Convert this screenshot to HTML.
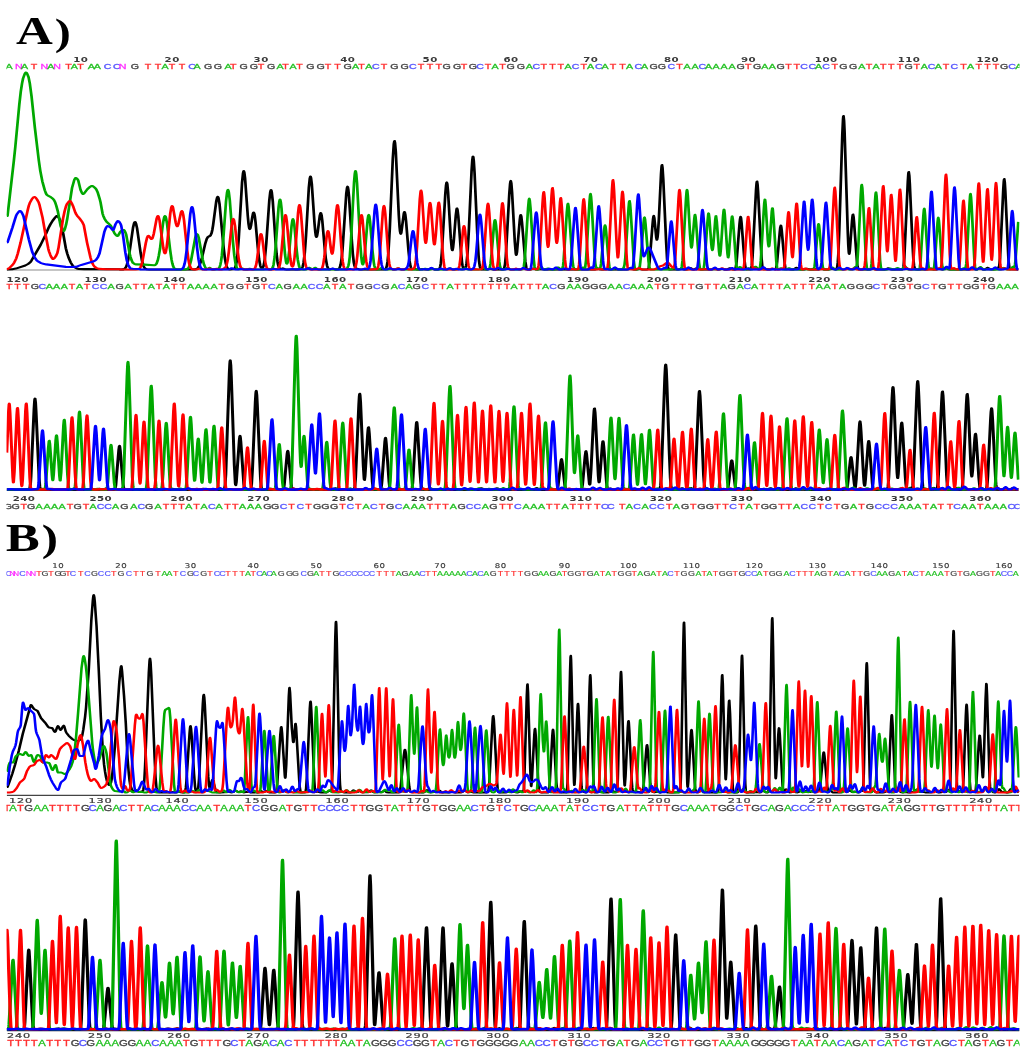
<!DOCTYPE html><html><head><meta charset="utf-8"><title>Chromatograms</title><style>html,body{margin:0;padding:0;background:#fff}svg{display:block}</style></head><body><svg width="1024" height="1049" viewBox="0 0 1024 1049">
<defs><clipPath id="cp"><rect x="6.5" y="0" width="1013" height="1049"/></clipPath></defs>
<style>.sq{font:7.1px "Liberation Sans",sans-serif;text-anchor:middle}.nm{font:bold 6.6px "DejaVu Sans",sans-serif;text-anchor:middle;fill:#3a3a3a;letter-spacing:0.3px}.a{fill:#1fc01f;stroke:#1fc01f}.t{fill:#ff3030;stroke:#ff3030}.c{fill:#5050ff;stroke:#5050ff}.g{fill:#404040;stroke:#404040}.n{fill:#ff30ff;stroke:#ff30ff}.sq{stroke-width:0.28px}.s1{font-size:7px;stroke-width:0.15px}.n1{font-size:6.6px;font-weight:normal;stroke:#3a3a3a;stroke-width:0.15px}.tr{fill:none;stroke-linejoin:round;stroke-linecap:butt}.sb{font-size:8.7px;stroke-width:0.32px}.nb{font-size:7.3px;letter-spacing:0.5px;font-weight:normal;stroke:#3a3a3a;stroke-width:0.2px}.lb{font:bold 39.5px "Liberation Serif",serif;fill:#000}</style>
<g clip-path="url(#cp)">
<text class="lb" transform="translate(16 44.4) scale(1.29 1)">A<tspan dx="1.6" dy="0.6" font-size="37.5">)</tspan></text>
<text class="lb" transform="translate(5.5 550.6) scale(1.3 1)">B<tspan dx="1.6" dy="0.6" font-size="37.5">)</tspan></text>
<path d="M6.8 270 H1018.5" stroke="#8c8c8c" stroke-width="1.2" fill="none"/>
<g transform="scale(1.3 1)" stroke-width="2.1">
<path class="tr" stroke="#000000" d="M5.23 269.4L9.46 269.2L12.15 268.6L19.46 265.5L21.58 264L23.31 262.2L24.27 260.4L31.19 245L34.65 235.9L37.35 227.9L38.69 224.5L40.42 220.9L42.54 217.3L43.31 216.3L43.88 216L44.46 216.4L45.23 217.7L46.19 220.1L46.77 222.3L48.69 234L50.62 248.2L51.77 253.7L52.92 258.2L54.46 262.6L56 265.8L56.96 267L59.08 268.5L60.62 269L64.65 269.1L92.15 269.3L92.35 269.5L94.65 269.4L95.42 269.1L96 268.6L96.77 267.4L97.35 265.9L98.5 260.5L99.65 251.8L102.35 227.5L103.12 223.4L103.5 222.3L103.88 222L104.27 222.5L104.65 223.7L105.42 228.1L108.12 252.5L109.27 261L110.42 266.1L111 267.6L111.77 268.7L112.92 269.3L114.85 269.5L148.12 269.5L149.85 269.4L151 269.1L151.77 268.5L152.54 267.4L153.31 265.6L154.27 262.5L155.42 257.4L157.92 243.4L159.08 238.8L160.04 236.8L161.38 236L161.96 235.4L162.73 233.2L163.31 230L163.88 225.6L166.38 201.2L166.96 197.9L167.35 196.9L167.54 196.8L167.92 197.5L168.12 198.3L168.88 204.2L171.96 247.2L172.92 257.5L173.69 263.3L174.65 267.4L175.04 268.2L175.62 268.9L176.19 269.2L176.96 269.4L179.85 269L180.42 268.5L180.81 267.7L181.58 264.7L182.15 260.5L182.73 254L183.69 237.6L186.19 182.7L186.96 173.1L187.35 171.2L187.54 171L187.92 172.3L188.5 178L190.62 216.2L191.19 223.9L191.58 227.2L191.96 228.9L192.15 229.1L192.54 228.4L193.12 225.2L194.08 217.1L194.65 213.5L195.04 212.5L195.23 212.5L195.62 213.7L196 216.2L196.58 222.3L198.31 247.5L199.27 259L200.23 265.7L200.62 267.1L201.19 268.2L201.58 268.4L201.96 268.1L202.54 266.7L203.12 263.8L203.69 259L204.85 243.1L207.15 200.7L207.92 191.9L208.31 190.2L208.5 190L208.69 190.3L209.08 192.5L209.85 201.7L211.96 241.6L212.73 253.7L213.5 261.9L213.88 264.6L214.46 267.1L215.04 268.4L215.62 268.9L216.19 268.9L217.54 268.4L219.27 269.3L220.42 269.5L230.81 269.4L231.77 268.9L232.35 268.1L232.92 266.2L233.5 262.9L234.46 252.4L235.42 235.1L237.54 188.2L238.31 178.4L238.69 176.6L238.88 176.5L239.27 178L239.85 184.1L241.96 223.8L242.54 232L242.92 235.4L243.31 237L243.5 237L243.88 235.9L244.46 231.5L246 215.7L246.58 213.1L246.77 213L246.96 213.4L247.35 215.2L247.92 220.8L249.85 249.2L250.62 258.6L251.58 265.7L251.96 267.3L252.54 268.6L253.12 269.2L253.69 269.3L255.81 268.8L258.12 269.4L260.04 269.3L260.62 269L261.19 268L261.96 265.1L262.73 259.1L263.5 249.1L266.38 193.5L266.96 187.8L267.35 186.7L267.54 187L267.92 189.3L268.5 196.9L270.62 240.6L271.38 253.6L272.15 262.3L272.54 264.9L273.12 267.3L273.5 268L273.88 268.4L276 269.3L276.96 269.5L294.46 269.5L296 269.3L296.58 268.9L296.96 268.2L297.54 266.1L298.12 261.7L298.69 254.2L299.85 228.4L302.15 158.7L302.92 144.2L303.31 141.3L303.5 141L303.88 143L304.46 151.7L306.77 215.3L307.35 226.7L307.73 231.4L308.12 233.6L308.31 233.8L308.69 232.7L310.62 213.8L311 212.1L311.19 212L311.38 212.4L311.77 214.7L312.35 221.1L314.27 251.1L315.04 260.7L315.42 264L316 267.3L316.58 268.7L317.15 269.2L319.08 269L320.81 269.4L322.35 269.5L325.23 269L327.15 269.4L329.08 269.5L330.04 269.3L331.38 268.6L331.96 268.5L334.08 269.4L336.58 269.5L337.35 269.3L337.73 269.1L338.31 267.9L338.69 266.2L339.08 263.4L339.85 253.4L342.54 194L343.12 185.3L343.5 182.6L343.69 182.4L344.08 184.1L344.65 191.8L346.77 238.4L347.54 248.8L347.92 250.3L348.12 250L348.5 247.6L349.08 240.4L350.62 215.3L351.19 209.5L351.38 208.6L351.58 208.4L351.96 210L352.54 216.3L354.46 249.7L355.42 262.6L355.81 265.7L356.38 268.2L356.77 268.9L357.15 269.1L357.54 268.9L357.92 268.2L358.5 266L358.88 263.2L359.65 253.1L360.62 231.3L362.73 171.4L363.31 160.4L363.69 156.9L363.88 156.6L364.08 157.2L364.46 161.2L365.04 172.8L367.15 233.8L368.12 255.6L368.5 261.2L369.08 266.4L369.65 268.6L370.04 269.2L370.42 269.4L374.46 269.4L376.96 268.5L378.69 269.3L379.46 269.5L384.08 269.3L386.58 269.5L387.35 269.2L387.92 267.9L388.5 264.1L389.08 256.3L391.77 193.9L392.35 184.2L392.73 181.1L392.92 180.9L393.31 183.1L393.88 192.1L396 241.7L396.77 253.4L396.96 254.6L397.15 254.9L397.35 254.4L397.73 251.5L399.85 219.8L400.23 216.1L400.42 215.2L400.62 215L401 216.6L401.58 223.2L404.08 261.4L404.85 267.5L405.23 268.7L405.62 269.3L406.38 269.5L407.92 269.5L410.42 268.6L412.15 269.3L413.31 269.5L416.19 268.9L419.08 269.5L450.81 269.5L453.5 269.3L456.58 269.5L457.92 269.4L459.85 268.6L461.58 269.3L462.54 269.5L463.88 269.4L465.81 268.9L468.69 269.5L481.96 269.5L483.31 269.2L484.65 268.2L485.23 268.1L486.96 269.2L487.92 269.5L489.65 269.4L491.58 268.8L494.27 269.5L496.96 269.5L498.31 269.2L498.69 268.7L499.08 267.2L499.65 261.9L501.96 224.5L502.35 219.2L502.73 216.2L502.92 215.9L503.31 217.9L504.85 237.9L505.23 239.7L505.42 239.5L505.81 237.1L506.19 232.2L506.77 220.4L508.5 173.7L508.88 167.1L509.08 165.4L509.27 165L509.65 168L510.23 179.8L512.35 240.1L513.12 258.6L513.69 266.2L514.08 268.4L514.27 268.9L514.65 269.4L521.77 269.5L524.46 268.8L526.38 269.4L528.12 269.5L529.08 269.3L530.42 268.2L531 268L531.58 268.2L532.73 269.2L533.5 269.4L534.27 269.2L536 268.2L537.92 269.3L539.08 269.5L543.12 269.3L547.54 269.5L550.23 268.9L551.96 269.4L553.31 269.5L555.81 268.7L557.73 269.4L558.69 269.5L559.65 269.2L561.38 268.3L563.69 269.4L564.85 269.5L565.42 269.2L566 267.4L566.58 262.1L568.88 223.9L569.27 219.1L569.65 216.9L569.85 217.2L570.04 218.4L570.42 222.9L572.54 258.3L573.31 267L573.69 268.7L574.27 269.4L576.96 269.5L577.54 269.1L577.92 268.1L578.31 265.4L578.88 256.9L581.58 189.8L581.96 183.5L582.15 181.9L582.35 181.5L582.73 184.5L583.12 191.4L585.81 258.3L586.38 266.1L586.96 268.9L587.35 269.2L589.08 268.9L590.81 269.4L591.96 269.5L592.92 269.3L594.46 268.7L596.38 269.2L596.77 268.9L596.96 268.4L597.35 266.3L597.73 262.5L599.85 231.7L600.23 227.4L600.62 225.6L600.81 225.9L601 227.1L601.38 231.2L603.69 264.5L604.08 267.5L604.27 268.4L604.65 269.2L605.04 269.3L606.38 269.2L608.5 269.5L610.23 269.4L611 269.1L612.15 268L612.73 267.8L613.12 267.9L614.65 269.2L615.81 269.5L618.5 269.4L620.62 268.7L623.31 269.5L626 269.1L628.12 269.4L629.46 269.5L631.96 268.8L634.08 269.4L637.15 269.5L638.31 269.3L640.04 268.4L641.96 269.3L642.92 269.4L643.31 269.2L643.69 268.5L644.08 266.6L644.46 262.4L644.85 254.8L645.62 229.8L647.92 135.1L648.5 119L648.69 116.6L648.88 116L649.27 120.5L649.65 131.1L652.15 232.8L652.54 244.9L652.92 252.2L653.12 253.7L653.31 253.8L653.69 250.8L655.42 221L655.81 216.1L656 214.8L656.19 214.5L656.58 216.9L656.96 222.3L659.27 263L659.65 266.8L660.23 269.1L660.62 269.4L661 269.5L663.31 269.5L665.42 269.1L668.5 269.5L669.46 269.3L670.81 268.7L671.38 268.6L673.12 269.3L673.88 269.5L677.92 269.3L680.42 269.5L681.58 269.3L682.92 268.4L683.5 268.3L685.23 269.3L686.19 269.5L693.69 269.5L694.08 269.4L694.46 269L694.85 267.7L695.04 266.4L695.62 258.1L698.31 181.7L698.69 174.3L698.88 172.4L699.08 172L699.46 175.5L699.85 183.7L701.77 239.8L702.54 258.3L703.12 265.7L703.5 267.8L704.08 268.9L704.65 269.3L705.62 269.5L710.42 269.3L713.12 269.5L714.27 269.3L715.62 268.6L716.19 268.5L718.5 269.4L720.23 269.4L722.35 268.8L724.85 269.4L725.81 269.1L726.96 268.1L727.54 267.8L728.12 268L729.46 269.2L730.62 269.5L733.69 269.5L735.81 269.2L738.5 269.5L745.04 269.5L746 269.3L747.73 268.3L748.31 268.4L749.65 269.3L751 269.5L751.96 269.2L753.69 268.2L754.27 268.3L755.62 269.2L756.77 269.5L757.92 269.2L759.27 268L759.85 267.8L761.96 269.3L764.27 269.5L765.81 269.2L767.35 267.8L768.12 267.5L768.5 266.7L768.69 265.6L769.27 258.1L771.77 189L772.15 181.5L772.35 179.5L772.54 179L772.92 182.7L773.31 190.9L775.62 256.2L776 263.2L776.38 267.2L776.77 268.9L777.15 269.3L783.31 269.5"/>
<path class="tr" stroke="#00a800" d="M5.23 216L5.62 216L5.81 215.6L10.62 161.1L11.77 147L14.85 104.7L16 91.4L16.96 83.4L17.73 78.5L19.08 73.8L19.65 72.7L20.04 72.5L20.42 72.8L20.81 73.5L21.96 77.1L22.92 83.4L24.27 96.4L26.77 127.1L29.85 160.5L31 170.8L32.54 181.2L34.46 190.2L35.23 193L35.81 194.5L36.58 195.4L38.69 196.8L40.42 198.4L41.58 200.1L42.35 202.1L43.31 205.8L44.46 211.2L46.58 225.7L46.96 227.1L47.92 229.6L48.69 230.8L49.08 231L49.27 230.8L49.85 229.2L50.81 224.8L51.77 218.5L55.42 187.9L57.15 179.9L57.92 178.1L58.5 178.1L59.46 179.1L60.23 180.6L61.96 189.9L62.92 192.7L63.69 194L64.08 194L64.65 193.5L67.15 189.2L69.08 187L70.23 186.1L71 186L71.96 186.6L72.92 187.7L74.08 189.4L75.23 192.7L76.58 198.4L77.35 202.4L78.88 213.4L79.46 215.8L80.42 218.7L81.96 221.7L84.46 224.6L85.42 226.1L88.12 233.4L89.08 234.9L89.85 235.8L90.42 236L90.81 235.7L92.54 231.8L93.5 230.8L94.27 230.3L95.04 230L95.42 230.1L95.81 230.7L96.58 232.8L97.15 235.1L99.65 253.1L100.23 256.3L101.19 260.2L102.15 262.8L103.5 263.9L104.85 264.4L111.19 264.6L118.5 265.3L119.08 265.2L119.65 264.8L120.42 263.6L121.38 260.3L122.15 255.7L123.12 248.5L124.85 228.7L125.62 221.5L126.38 217L126.77 216.1L126.96 216L127.35 216.6L127.73 218.2L128.5 223.8L130.81 249.3L131.96 259.7L132.54 263.3L133.12 265.9L133.69 267.6L134.27 268.5L135.04 269.2L136 269.4L142.35 269.5L143.88 269.1L144.46 268.6L145.04 267.8L146 265.1L146.96 260.6L150.23 237.6L151 234.6L151.38 234.1L151.58 234L152.15 234.8L152.92 238L156 259.9L156.96 264.7L157.92 267.5L158.5 268.4L159.08 268.9L159.65 268.8L160.81 268L161.38 267.8L163.12 269.2L164.08 269.5L166.77 269.3L167.54 269.1L168.12 268.6L168.88 267.2L169.46 265L170.04 261.4L170.62 255.9L171.58 242.4L173.88 201.1L174.65 192.6L175.04 190.5L175.23 190L175.42 189.9L175.62 190.3L176 192.2L176.77 200.4L179.08 240.3L180.23 255.4L181 262.2L181.58 265.6L182.15 267.7L182.92 269L183.5 269.3L184.08 269.3L186.19 268.5L187.92 269.3L188.88 269.5L190.04 269.4L191.96 268.7L193.69 269.3L194.65 269.5L202.54 269.5L205.23 268.9L207.73 269.4L208.69 269.2L209.46 268.3L210.04 266.6L210.42 264.7L211.38 256.2L212.15 245.1L214.27 207.6L214.85 201.5L215.23 199.7L215.42 199.5L215.62 199.9L216 202.1L216.58 208.7L218.5 243.2L219.27 254.7L220.04 261.8L220.42 263.4L220.62 263.7L220.81 263.7L221.19 262.7L221.77 258.9L222.54 250.3L224.27 226L224.85 220.8L225.23 219.3L225.42 219.2L225.81 220.4L226.38 225L228.31 251.4L229.08 259.9L230.04 266.1L230.42 267.4L231 268.6L231.58 269.2L232.15 269.4L235.23 269.5L236.19 269.1L237.35 268.1L237.92 267.8L238.5 268.1L239.65 269.1L240.23 269.2L240.81 269.1L241.96 268L242.54 267.8L242.92 268L244.27 269.2L245.42 269.5L248.69 269.2L251.58 269.5L259.85 269.5L262.35 269.3L264.85 269.5L266.19 269.2L267.15 268.1L267.92 266L268.5 262.6L269.08 256.5L270.04 239.2L272.35 182.4L272.92 173.8L273.31 171.2L273.5 171L273.69 171.5L274.08 174.5L274.65 183.5L277.15 244.2L277.92 257.2L278.5 262.7L278.88 264.3L279.08 264.5L279.27 264.3L279.65 262.8L280.04 259.8L280.81 250.3L282.73 220.5L283.31 215.7L283.5 215.1L283.69 214.9L284.08 216.2L284.65 221.5L286.58 251.3L287.54 262.6L287.92 265.4L288.5 267.9L289.08 269L290.04 269.5L291.58 269.3L293.5 267.9L294.08 268.1L295.62 269.3L296.96 269.5L298.31 269.4L300.23 268.9L302.35 269.4L303.69 269.5L304.46 269.3L306.19 268.5L308.12 269.3L309.27 269.5L314.27 269.3L316.77 269.5L324.46 269.5L325.42 269.3L327.15 268.7L329.85 269.5L331 269.4L332.73 268.8L335.42 269.5L343.12 269.5L344.27 269.3L346.19 268.4L347.92 269.3L348.69 269.5L350.62 269.4L352.73 268.6L354.46 269.3L355.42 269.4L356.19 269.3L357.54 268.4L358.12 268.3L359.85 269.3L360.62 269.5L368.31 269.5L369.65 269.3L371.58 268L371.96 268.1L373.12 269L373.88 269.4L374.85 269.5L375.81 269.3L376.38 268.6L376.77 267.5L377.35 263.7L378.12 254.2L380.04 224.6L380.42 221.1L380.62 220.2L380.81 220L381.19 221.6L381.58 225.4L384.08 261.9L384.65 266.6L385.23 268.7L385.62 269.2L386 269.4L387.73 269.4L388.5 269.2L390.23 267.8L390.81 268L392.15 269.2L393.12 269.5L400.42 269.5L401.96 269.2L402.54 268.4L402.92 266.9L403.69 259.2L406.19 208.6L406.77 200.4L406.96 199.1L407.15 198.7L407.54 200.7L408.12 208.9L410.62 260.1L411.19 266.4L411.77 268.9L412.35 269.4L413.88 269.4L414.65 269L416 267.7L416.38 267.6L416.96 267.9L417.92 269L418.69 269.4L419.65 269.3L421.58 268.5L423.69 269.4L426.38 269.5L427.54 269.1L428.69 267.8L429.27 267.5L429.85 267.8L430.81 268.9L431.38 269.3L432.15 269.3L432.54 268.8L433.12 265.9L433.5 261.4L436 212.7L436.58 205L436.77 203.9L436.96 203.7L437.35 206.3L437.73 211.9L440.04 255.8L440.62 263.5L441 266.4L441.38 267.9L441.77 268.7L442.35 269.2L442.92 269.4L444.85 269.5L446 269.3L448.12 267.5L448.5 267.6L449.27 268.3L449.65 268.4L450.04 267.5L450.23 266.5L450.81 260L453.5 201.4L453.88 195.8L454.08 194.3L454.27 193.9L454.65 196.6L455.04 202.9L457.15 250.5L457.92 263.3L458.31 266.4L458.69 267.7L461 269.1L461.38 269L461.77 268.1L462.35 263.9L464.65 231L465.04 226.8L465.42 225.2L465.81 226.7L466.19 230.8L468.12 259.9L468.69 266.2L469.08 268.4L469.46 269.2L470.04 269.5L471.58 269.3L473.5 268.2L475.62 269.4L477.54 269.5L478.31 269.3L478.88 268.9L479.46 268.2L479.85 267.4L480.42 264.6L481 258.1L483.5 208.2L483.88 202.8L484.08 201.3L484.27 201L484.65 203.6L485.04 209.5L487.54 260.9L488.12 267.1L488.31 268.1L488.69 269.2L489.46 269.5L491.19 269.3L491.77 268.4L492.15 266.5L492.92 257.6L495.04 223.1L495.42 218.8L495.62 217.6L495.81 217.4L496.19 219.5L496.58 224.3L498.88 261.5L499.46 267L500.04 268.9L500.62 269.4L501.58 269.5L503.88 269.5L506 269.1L508.5 269.5L511.58 269.1L513.69 269.5L515.42 269.5L516.58 269.3L518.5 268.1L519.08 268.3L520.42 269.3L521.58 269.5L523.12 269.2L523.88 268.7L524.46 266.7L525.04 260.4L527.73 198.2L528.12 192L528.31 190.3L528.5 189.9L528.69 190.7L529.08 195.6L530.81 234.3L531.58 246.2L531.77 247.3L531.96 247.6L532.35 245.6L534.08 218.7L534.46 215.2L534.65 214.8L535.04 217L535.42 222.2L537.73 262.6L538.31 267.8L538.69 269L539.27 269.5L540.42 269.5L541 269L541.38 267.7L541.77 264.7L542.35 256.2L544.08 223.5L544.85 213.9L545.04 213.4L545.23 213.9L545.62 217.6L547.15 243.9L547.54 248.3L547.92 250.1L548.12 249.9L548.31 249L548.69 245.2L550.23 219.3L550.62 216.2L550.81 216.1L551.38 221.6L553.12 251.4L553.5 255.1L553.69 255.8L553.88 255.6L554.08 254.4L554.46 249.7L556.19 216.6L556.58 211.3L556.77 209.9L556.96 209.6L557.15 210.3L557.54 214.7L559.27 248.1L559.65 254.1L560.04 257.3L560.23 257.4L560.62 254.8L562.54 222.3L562.92 217.6L563.12 216.5L563.31 216.4L563.69 219.2L564.08 224.7L566.19 261.9L566.58 266.1L566.96 268.3L567.15 268.7L567.54 268.9L568.88 267.2L569.27 267L569.85 267.4L571 268.9L571.77 269.4L573.88 269.4L576 268.3L576.58 268.5L577.73 269.2L578.5 269.4L579.46 268.9L580.62 267.1L581.19 266.7L581.77 267.1L583.12 269L583.69 269.3L584.08 269.2L584.46 268.3L584.65 267.3L585.23 260.9L587.54 210L587.92 203L588.31 199.6L588.5 199.7L588.69 201.1L589.08 206.9L590.62 239.7L591 244.7L591.38 246.5L591.58 246.2L591.77 245.2L592.15 240.7L593.69 211.6L594.08 208.2L594.27 208.2L594.46 209.5L595.04 218.6L597.15 261.4L597.73 267.4L597.92 268.3L598.31 269.1L598.88 269.2L600.42 268.3L601 268.4L602.35 269.3L603.5 269.5L605.04 269.3L606.96 268.3L608.88 269.3L610.04 269.5L613.31 269.3L616.96 269.5L619.46 268.9L621.77 269.5L625.04 269.5L625.62 269.4L626 269L626.58 266.4L626.96 262.3L629.08 228.6L629.46 224.7L629.65 224L629.85 224.3L630.04 225.6L630.42 230.2L632.54 263.5L632.92 267.1L633.12 268.1L633.5 269.1L633.88 269.4L634.46 269.5L637.73 269.4L638.5 269L639.85 267.6L640.23 267.5L640.62 267.7L641.96 269.1L642.92 269.5L648.69 269.5L651.19 268.8L653.69 269.5L655.23 269.5L656 269.2L657.73 267.1L658.5 266.9L658.88 266.5L659.46 262.3L660.23 246.8L662.15 194.8L662.54 187.4L662.73 185.4L662.92 184.8L663.31 187.8L663.69 195.3L666.19 261.1L666.77 267.6L667.15 269L667.54 269.4L669.08 269.4L669.65 268.9L670.04 267.4L670.42 263.9L671 253.3L673.12 200.9L673.5 194.4L673.69 192.7L673.88 192.4L674.27 195.8L674.65 203.3L676.96 260L677.54 267L677.92 268.7L678.5 269.2L680.23 269.5L682.15 269.5L684.65 268.5L686.58 269.3L687.92 269.4L688.69 269.2L690.04 268.2L690.62 268.1L692.35 269.2L693.31 269.4L694.27 268.8L695.42 266.8L696 266.3L696.58 266.7L697.73 268.8L698.69 269.4L700.23 269.5L702.35 269.2L706.38 269.5L706.77 269.4L707.15 269L707.54 267.5L707.73 266L708.12 261L710.23 216.6L710.62 210.7L710.81 209.1L711 208.7L711.19 209.7L711.58 214.8L713.88 262.2L714.46 267.8L714.85 268.9L715.23 269.1L717.54 269.4L717.92 269.3L718.31 268.5L718.69 266.1L719.27 258.3L721.19 222.6L721.58 218.3L721.77 217.7L722.15 219.9L722.54 225.4L724.46 262L724.85 266.5L725.23 268.6L725.62 269.3L726 269.4L726.77 269.3L728.12 268.6L728.69 268.5L730.42 269.3L731.19 269.5L738.12 269.5L739.46 269.3L741 268.3L741.58 268.3L742.35 268.6L742.73 268.2L743.31 263.9L743.69 257.4L745.81 203.5L746.19 196.4L746.38 194.4L746.58 193.9L746.96 197.4L747.35 205.1L749.46 258.9L750.04 266.9L750.42 268.8L750.81 269.4L751.38 269.4L752.15 269.2L753.69 267.3L754.08 267L754.65 267.3L756.19 269.2L757.54 269.5L760.23 268.9L762.92 269.5L769.46 269.5L770.42 269.1L771.58 268.1L772.15 267.9L772.54 268L774.27 269.3L776.38 269.5L776.96 269.3L777.54 268.9L779.08 266.8L780.23 267.2L780.62 265.9L780.81 264.4L781.19 259.6L783.31 221.9"/>
<path class="tr" stroke="#ff0000" d="M5.23 269L6 268.9L7.15 268.1L9.65 264.9L11 262.4L12.54 258.3L13.69 253.5L15.81 242.8L21.19 210.8L22.15 205.8L22.92 202.9L24.46 199.3L25.42 197.7L26.38 197L26.77 197.1L27.35 197.5L28.5 199.5L29.65 202.1L30.42 205.1L32.73 217.6L34.85 233.4L37.15 248.7L37.73 251.5L38.69 254.8L39.46 257.1L40.23 258.6L40.62 259L41 259L41.96 258.1L42.92 256.3L44.08 253.2L45.04 247.6L48.5 218.7L49.65 211.5L50.62 206.9L51.38 204.3L52.73 201.9L53.31 201.2L53.88 201L54.46 201.6L55.23 203.4L56.38 206.7L57.92 212.4L58.5 214.1L59.27 215.6L61.19 218.4L63.12 221.7L64.46 225.1L66.96 242.6L69.65 257.8L70.62 262L71.77 264.9L72.92 266.9L74.46 268.1L76.19 268.9L82.15 269.2L92.15 269.3L92.35 269.5L104.27 269.5L106.19 269.3L107.35 268.6L107.92 267.7L108.5 266.2L109.46 262L112.15 243L113.12 237.8L113.69 236.2L114.27 235.8L114.85 236.4L115.81 238.3L116.38 239L116.96 238.8L117.35 238L118.31 233.7L120.42 219.1L121 216.7L121.38 216L121.77 216.2L121.96 216.6L122.73 220.4L125.62 248L126.38 252.5L126.77 253.3L126.96 253.4L127.15 253.2L127.54 251.9L128.12 248.1L128.88 240.1L131 213.2L131.77 207.5L132.15 206.2L132.35 206L132.73 206.4L133.12 207.8L135.23 223L135.81 225.6L136.19 226.3L136.58 226.2L137.15 224.5L139.27 212.2L139.85 211L140.23 211.4L140.42 211.9L141 215.2L141.58 220.4L143.88 249.2L144.85 258.8L145.42 262.9L146.19 266.4L146.96 268.3L147.73 269.1L148.88 269.4L151 269.5L153.69 268.6L155.62 269.4L157.92 269.5L158.88 269.4L160.81 268.6L163.31 269.5L164.65 269.4L166.58 268.7L168.69 269.4L170.42 269.5L171.77 269.1L173.31 267.5L173.88 266.4L174.27 265.2L175.23 259.5L176 251.9L178.12 226.3L178.88 220.4L179.27 219.1L179.46 218.9L179.65 219.1L180.04 220.3L180.81 226.2L182.92 251.9L183.69 259.5L184.65 265.6L185.04 267L185.62 268.4L186.38 269.1L187.35 269.4L194.08 269.5L195.42 269.2L196.19 268.1L196.96 265.3L197.54 261.5L199.85 237.8L200.42 234.5L200.81 234L201.19 234.8L201.77 238.5L204.08 262.1L204.65 265.6L205.23 267.8L206 269.1L206.96 269.4L210.04 269.5L212.15 269L213.5 269L213.88 268.8L214.46 267.9L214.85 266.7L215.42 263.6L215.81 260.4L216.58 251.2L218.5 222.2L219.08 216.8L219.46 215.1L219.65 215L220.04 216.1L220.62 221L222.54 249.4L223.31 258.5L223.88 263.2L224.27 265.3L224.65 266.4L225.04 266.6L225.42 265.9L225.81 264.2L226.58 257.5L227.35 246.7L229.27 213.1L229.85 206.9L230.23 205.1L230.42 205L230.62 205.3L231 207.6L231.58 214.3L234.08 256.2L234.65 262.1L235.42 266.5L235.81 267.6L236.38 268.4L238.5 269.4L245.42 269.5L246.77 269.3L247.35 268.9L247.92 267.8L248.69 264.1L249.46 257.4L251.19 237.1L251.77 232.5L252.15 231.1L252.35 231L252.54 231.3L253.12 234.3L254.46 248.2L255.04 252.6L255.42 253.8L255.62 253.7L255.81 253.2L256.19 250.6L256.77 243.5L258.69 211.2L259.27 205.9L259.46 205.2L259.65 205L260.04 206.4L260.62 212.2L262.54 246.5L263.31 257.9L263.69 261.9L264.27 266L264.65 267.6L265.23 268.8L265.81 269.3L266.58 269.5L271.96 269.4L272.54 269.2L272.92 268.7L273.5 267.1L274.27 262.2L274.85 256L277.15 220.8L277.73 215.9L277.92 215.2L278.12 215L278.5 216.3L278.88 219.6L281.19 255L281.77 261.4L282.54 266.5L283.31 268.6L283.69 269.1L284.27 269.4L285.62 269.5L287.73 269.1L289.46 269.3L289.85 269.1L290.23 268.6L290.62 267.7L291 265.9L291.77 259.3L292.54 247.8L294.46 212.7L295.04 206.9L295.23 206.1L295.42 205.9L295.81 207.4L296.38 213.8L298.88 257.8L299.46 263.7L299.85 266.1L300.23 267.5L300.62 268.3L301 268.7L302.15 269.2L303.12 269.4L304.27 269.3L306.19 268.3L306.77 268.4L308.12 269.3L308.88 269.5L310.42 269.4L312.54 268.6L314.65 269.4L316.96 269.4L318.12 268.8L318.88 267.4L319.46 264.6L319.85 261.2L320.81 246.1L322.92 199.3L323.5 192L323.69 190.9L323.88 190.5L324.27 192.1L324.65 196.5L326.58 235.2L326.96 240.4L327.35 242.8L327.54 243L327.73 242.4L328.12 239.4L330.04 207.8L330.42 204L330.62 203.1L330.81 202.8L331.19 204.3L331.58 208.3L333.5 240.6L333.88 243.9L334.08 244.5L334.27 244.5L334.46 243.8L335.23 235L336.77 207.8L337.35 202.8L337.54 202.5L337.73 203L338.12 206.1L338.5 211.5L340.23 246.6L341 259.2L341.77 266.4L342.15 268.1L342.73 269.2L343.88 269.5L351.58 269.5L352.35 269.2L352.92 268.1L353.5 265.2L354.08 259.6L356.19 230.1L356.58 227L356.77 226.2L356.96 226L357.35 227.4L357.73 230.9L360.04 262.5L360.42 265.7L361 268.4L361.38 269.1L361.96 269.4L363.12 269.4L365.04 269.1L368.12 269.5L370.04 269.2L370.42 269L370.81 268.4L371.19 267.1L371.58 264.5L372.15 257.7L374.46 212.7L375.04 205.2L375.23 204.1L375.42 203.7L375.81 205.5L376.38 213.1L378.31 252L379.08 263.5L379.46 266.6L380.04 268.8L380.42 269.3L380.81 269.4L381.38 269.4L381.77 269.1L382.15 268.3L382.54 266.5L383.12 260.8L383.88 247.7L385.62 212.1L386.19 204.4L386.38 203.3L386.58 203L386.96 205.1L387.35 210.1L389.85 258L390.42 264.5L390.81 267L391.19 268.3L391.77 269.2L392.92 269.5L395.04 269.4L397.15 268.6L399.08 269.4L400.23 269.4L402.54 268.5L403.12 268.6L404.46 269.3L405.23 269.5L407.92 269.4L410.23 268.8L411.96 269.3L412.73 269.3L413.5 268.8L413.88 267.9L414.27 265.7L414.65 261.8L415.42 247.9L417.35 203.2L417.73 196.2L418.12 192.4L418.31 192L418.5 192.8L418.88 197.4L420.81 239.4L421.19 245L421.58 247L421.77 246.5L421.96 245.1L422.35 239.6L424.27 195.8L424.65 189.9L424.85 188.3L425.04 188L425.42 190.8L425.81 197.4L427.54 236.5L427.92 241.3L428.12 242.6L428.31 243L428.69 241.2L429.08 236.5L430.81 202.3L431.19 198.4L431.38 198L431.58 198.8L432.15 206.9L434.65 259.9L435.23 266.6L435.81 268.9L436.19 269.3L436.96 269.4L438.12 269.4L440.04 269L442.15 269.4L444.08 269.5L444.65 269.1L445.04 267.8L445.42 264.9L446 256.2L448.31 206.2L448.69 200.8L448.88 199.5L449.08 199.2L449.46 202L449.85 208.3L452.15 257.5L452.54 263.2L453.12 267.8L453.69 269.1L454.85 269.4L458.88 269.5L461.38 269L463.69 269.5L466.38 269.4L466.96 268.9L467.35 267.5L467.73 264.2L468.12 258.3L470.81 188.9L471.19 182.2L471.38 180.4L471.58 180L471.96 183.2L472.35 190.6L474.27 242L475.04 256.4L475.23 257.5L475.42 257.3L475.81 253.2L478.12 200.1L478.5 193.8L478.69 192.2L478.88 191.7L479.27 194.4L479.65 201L482.15 259.5L482.73 266.7L483.12 268.6L483.31 269L483.69 269.3L485.04 269.2L487.15 269.5L488.88 269.4L489.65 269.2L491.38 268L491.96 268.2L493.31 269.2L494.08 269.5L503.31 269.4L504.08 269L507.73 266.3L510.04 265.6L512.35 263.3L513.5 262.8L513.88 262.8L514.46 263.3L516.77 266.8L517.54 267.6L518.12 267.8L518.5 267.3L519.08 263.6L519.46 258.1L521.96 198.5L522.35 192.1L522.54 190.4L522.73 189.9L523.12 193L523.5 199.9L526 260.1L526.58 267.1L526.96 268.8L527.35 269.4L528.12 269.5L535.04 269.5L537.92 269.2L540.42 269.5L543.12 268.9L545.04 269.4L546.19 269.5L547.35 269.3L549.08 268.6L551 269.3L552.35 269.5L553.5 269.3L555.23 268.4L555.81 268.5L557.15 269.3L558.12 269.5L570.81 269.5L571.58 269.2L571.96 268.3L572.15 267.3L572.54 263.7L574.85 222.6L575.23 217.9L575.42 216.8L575.62 216.8L576.19 222.5L578.31 260.7L578.69 265.4L579.27 268.6L579.65 268.9L580.62 268.4L581.19 268.3L582.92 269.3L583.88 269.5L590.23 269.5L591.96 269.4L593.5 268.6L594.08 268.6L596 269.4L598.31 269.5L599.85 269.4L601.58 268.6L602.73 268.4L603.12 267.4L603.31 266.2L603.69 262L606 217.6L606.38 212.9L606.58 212.1L606.77 212.5L607.15 216.4L609.08 253.1L609.46 256.9L609.65 257.3L609.85 256.4L610.42 248L612.15 210L612.54 204.6L612.73 203.5L612.92 203.7L613.12 205.2L613.5 211.1L615.62 258.5L616 264.4L616.58 268.6L616.96 269.3L617.35 269.4L619.46 268.6L621.38 269.3L622.54 269.5L629.85 269.5L632.35 268.9L634.85 269.5L636.38 269.4L637.15 269.2L637.54 268.9L637.92 268.2L638.31 266.6L638.88 260.1L641.38 197.1L641.77 189.9L641.96 188L642.15 187.5L642.54 191L642.92 198.9L645.23 258.2L645.81 265.8L646.38 268.3L646.77 268.9L647.35 269.3L649.27 269.5L650.81 269.4L652.73 268.6L653.31 268.6L654.46 269.2L655.23 269.3L657.15 268.5L659.46 269.4L662.54 269.5L663.88 269.1L664.65 268.3L665.23 265.2L665.62 260.4L667.73 216.2L668.12 210.1L668.31 208.4L668.5 208L668.69 208.9L669.08 214L671 255.3L671.58 264.6L671.96 267.7L672.35 268.9L673.12 269.4L674.65 269.3L675.23 268.8L675.62 267.5L676.19 261.4L676.77 249L678.69 196L679.08 188.5L679.27 186.5L679.46 186L679.65 187.1L680.04 193.4L681.96 244.7L682.35 250.5L682.54 251.4L682.73 250.9L682.92 249L683.31 242L685.04 200L685.42 195.2L685.62 194.8L686 198.4L686.38 206.1L688.31 254.5L688.69 260.1L688.88 261L689.08 260.3L689.65 250.9L691.58 199.3L691.96 192L692.15 190L692.35 189.5L692.73 193.1L693.12 201.3L695.23 257.6L695.62 264L695.81 266L696.19 267.9L696.58 268.3L697.54 268L699.27 269.3L700.81 269.5L701.19 269.4L701.58 269L701.96 267.6L702.35 264.1L702.73 258.2L704.65 221.4L705.04 217.4L705.23 217L705.42 217.9L705.81 222.6L707.73 259.5L708.12 264.8L708.5 267.5L708.88 268.4L710.04 268.3L711.38 269.2L712.15 269.4L713.5 269.5L715.62 269.2L717.73 269.5L719.85 269.4L720.62 269.2L722.15 268.2L723.5 268.5L723.88 267.5L724.27 264L725.04 247.1L726.96 186.1L727.35 177.4L727.54 175.1L727.73 174.5L728.12 178.7L728.5 188.1L730.62 254.4L731.19 265.2L731.38 267L731.77 268.7L732.15 269L733.31 268.2L733.88 268.1L735.62 269.3L736.96 269.4L737.35 269.1L737.73 267.7L738.12 263.9L738.5 257.2L740.62 206.1L741 201.1L741.19 200.6L741.38 201.7L741.77 207.5L743.69 254.7L744.46 266.8L744.85 268.8L745.23 269.4L748.5 269.4L748.88 269L749.08 268.5L749.65 263.6L750.04 256.3L752.15 194.7L752.54 186.3L752.73 184L752.92 183.3L753.12 184.4L753.5 190.9L755.42 247.8L755.81 257.1L756.19 261.8L756.38 261.8L756.58 260.3L756.96 253.3L758.88 199.6L759.27 191.6L759.46 189.5L759.65 189L759.85 190.1L760.23 196.6L762.35 254.4L762.73 259.7L762.92 259.9L763.31 255.6L763.69 246.5L765.62 189.6L766 183.5L766.19 182.9L766.58 186.8L766.96 195.9L769.08 258.4L769.46 265L769.85 268.2L770.04 268.8L770.42 269.3L771 269.1L772.54 268.2L773.12 268.4L774.27 269.2L775.23 269.5L779.27 269.3L783.31 269.5"/>
<path class="tr" stroke="#0000ff" d="M5.23 242.5L5.81 242.3L9.65 227.3L11.58 218.9L12.54 215.3L13.12 213.9L14.27 211.9L15.04 211.1L15.62 211.1L16.19 211.6L16.77 212.7L17.73 215.1L18.12 216.5L22.15 239.3L24.85 252.2L26.58 257.1L27.54 259.1L28.31 260.4L29.65 261.7L31.58 263.1L33.31 263.8L35.62 264.4L50.62 266.9L52.92 267L58.5 266.9L62.54 264.9L71.58 261.5L73.12 260.6L74.08 259.5L75.42 256.9L76.58 253.4L80.23 232.1L80.81 229.9L81.77 227.2L82.54 226L83.5 226.2L85.23 227.7L86.38 229.6L86.96 230L87.54 228.9L88.88 224.1L90.04 221.7L90.42 221.2L90.81 221L91.38 221.4L92.15 222.6L92.92 224.4L93.31 226.1L94.65 235.3L96.38 252.2L97.54 260.3L98.5 264.6L99.46 266.9L100.23 268.2L100.81 268.5L102.35 268.7L107.54 269L107.73 269.5L137.15 269.5L139.27 269.4L139.85 269.1L140.42 268.6L141.19 267.2L141.96 264.1L142.54 260.5L143.69 249.1L146.38 213.8L147.15 208.2L147.54 207.1L147.73 207L147.92 207.2L148.31 208.6L149.08 214.6L151.58 247.6L152.73 259.4L153.31 263.3L154.08 266.7L154.85 268.4L155.81 269.3L157.35 269.5L165.81 269.3L170.04 269.5L172.73 269.3L175.42 269.5L176.38 269.3L177.73 268.4L178.31 268.3L180.23 269.3L181.58 269.5L182.92 269.4L184.85 268.9L187.73 269.5L192.54 269.3L195.04 269.5L201.58 269.5L203.88 269.3L207.73 269.5L208.88 269.4L210.62 268.7L212.54 269.4L213.5 269.5L216.96 269.2L219.27 269.5L222.35 269.5L225.04 269L227.54 269.5L228.88 269.4L231 269L233.88 269.5L235.04 269.3L236.96 268.3L238.88 269.3L239.85 269.5L242.73 269L245.42 269.5L248.12 269.5L250.42 269.2L253.12 269.5L254.08 269.3L255.81 268.6L257.73 269.3L258.88 269.5L263.31 269.3L266.77 269.5L269.27 268.9L271.77 269.5L275.04 269.2L277.92 269.5L278.88 269.3L280.62 268.6L282.73 269.3L283.5 268.7L284.08 267.3L284.65 264.2L285.04 260.9L286 248L288.12 211L288.69 205.5L288.88 204.7L289.08 204.5L289.46 206L290.04 212.1L291.96 245.9L292.92 259.2L293.5 264.2L294.08 267.1L294.65 268.6L295.42 269.3L296.38 269.5L297.73 269.4L300.04 268.2L301.77 269.2L302.54 269.4L304.65 269.5L306.96 268.9L308.88 269.4L310.62 269.5L311.96 269L313.12 267.8L313.88 265.4L314.46 261.8L316.77 235.7L317.35 231.7L317.54 231.1L317.73 231L318.12 232L318.69 236.4L321 262.9L321.77 267.4L322.15 268.5L322.54 269.1L322.92 269.4L323.69 269.5L324.85 269.4L326.77 269L328.5 269.4L329.46 269.4L330.23 269.1L331.38 268.1L331.96 267.9L333.69 269.2L335.04 269.5L337.15 269.4L339.27 268.6L341.38 269.4L343.31 269.5L344.27 269.2L345.42 268.4L346 268.2L347.73 269.2L348.5 269.4L349.27 269.4L351 268.8L352.92 269.4L354.08 269.5L356.38 269.4L358.31 268.8L361 269.5L362.54 269.4L363.5 269.1L364.27 268.1L364.85 266.5L365.62 261.7L366.38 252.4L368.31 221.4L368.88 215.6L369.08 214.7L369.27 214.5L369.65 216.1L370.23 222.5L371.96 251.3L372.73 261.8L373.31 266.6L373.69 268.2L374.08 269L374.46 269.3L375.23 269.4L377.54 268.6L379.46 269.4L380.62 269.4L381.38 269.2L382.73 267.9L383.31 267.7L385.04 269.1L386.19 269.5L388.5 269.4L390.62 268.7L393.12 269.5L397.54 269.3L400.04 269.4L400.81 269.2L402.15 268.1L402.73 267.9L404.85 269.3L406 269.5L407.54 269.4L408.12 268.7L408.5 267.2L409.08 262.1L411.77 217.8L412.15 213.7L412.35 212.7L412.54 212.4L412.92 214.1L413.5 221.2L415.81 260.3L416.38 266.3L416.96 268.8L417.35 269.3L417.92 269.5L420.62 269.4L422.73 268.7L424.46 269.3L425.23 269.4L426 269L427.15 267.8L427.73 267.5L428.12 267.7L429.46 269.1L430.23 269.4L432.35 269.4L434.46 268.4L435.04 268.6L436.38 269.3L437.54 269.5L438.12 269.1L438.5 268.2L439.08 264L439.65 255.5L441.77 216.3L442.35 209.1L442.54 208L442.73 207.8L443.12 210.1L443.5 215.3L445.62 254.6L446.19 263.1L446.58 266.7L446.96 268.6L447.54 269.4L451.96 269.5L453.12 269L454.65 267.4L455.04 267.4L455.81 268L456.19 268L456.58 266.9L456.77 265.8L457.54 256.1L459.85 212.4L460.23 207.5L460.42 206.3L460.62 206L461 208.3L461.38 213.6L463.88 260.4L464.27 265.1L464.85 268.5L465.04 268.9L465.42 269.2L466.96 269.1L468.69 269.4L470.23 269.5L471.19 269.1L472.54 267.7L473.12 267.4L473.5 267.6L474.85 269.1L475.62 269.4L482.35 269.5L483.31 269.2L485.04 267.8L486.38 268.2L486.77 267.4L487.15 264.8L488.12 249.3L490.23 202.5L490.62 196.5L491 194.2L491.19 194.7L491.58 198.8L493.88 243.7L494.46 252.2L494.85 255.4L495.23 256.5L495.62 256.2L498.12 248.4L498.69 247.5L499.27 247.5L499.85 248.4L500.62 250.4L505.62 266.4L506.58 268.3L507.15 269L507.73 269.3L508.5 269.4L509.08 269.3L511 267.8L512.15 268.3L512.54 267.9L512.73 267.2L513.12 264.5L513.5 260.1L515.81 224.8L516.19 221.7L516.38 221.3L516.77 223.3L517.15 227.9L519.27 261.2L519.65 265.4L520.23 268.7L520.62 269.3L521 269.5L526.96 269.4L527.92 269L529.08 267.7L529.65 267.4L530.23 267.7L531.38 269L532.15 269.4L535.23 269.5L536 269L536.58 266.9L537.15 260.8L539.65 216L540.04 211.3L540.23 210.1L540.42 209.8L540.81 212.2L541.19 217.5L543.69 262.7L544.27 267.8L544.46 268.5L544.85 269.3L545.62 269.5L547.54 269.4L548.12 269.1L549.27 267.9L549.85 267.6L550.42 267.8L551.58 269.1L552.54 269.4L555.04 268.8L557.35 269.5L560.62 269.4L561.38 269.2L562.54 268.3L563.12 268.1L563.69 268.3L564.85 269.2L565.62 269.4L568.12 268.9L570.23 269.4L572.73 269.5L575.23 268.6L577.73 269.5L582.15 269.3L584.27 269.4L585.42 269L586.58 267.5L587.15 267.1L587.73 267.4L589.08 269.1L590.23 269.5L592.35 269.5L594.46 269.1L597.35 269.5L607.73 269.4L613.12 269.5L614.08 269.3L614.46 268.7L614.85 266.9L615.42 260.1L617.73 211.1L618.31 202.5L618.5 201.5L618.69 201.7L619.08 205.5L620.81 241.6L621.19 247.4L621.58 249.9L621.77 249.7L621.96 248.4L622.35 243.4L624.08 206.6L624.46 201L624.65 199.7L624.85 199.5L625.23 202.7L625.62 209.2L627.92 259.2L628.5 266.4L628.88 268.4L629.27 269.1L629.65 269.1L630.23 268.7L631.19 267.3L631.58 265.9L631.96 262.9L632.73 250.9L634.65 210.1L635.04 204.4L635.23 202.9L635.42 202.5L635.81 205.3L636.19 211.6L638.5 260.1L639.08 266.4L639.27 267.4L639.65 268.3L641.58 269.3L642.54 269.5L643.69 269.2L645.04 267.9L645.62 267.6L646.19 267.9L647.35 269.1L648.5 269.5L649.65 269.3L651.58 267.9L652.15 268.1L653.69 269.3L656.19 269.4L656.96 269.2L658.31 267.9L658.88 267.6L659.27 267.8L660.62 269.1L661.96 269.5L663.31 269.4L665.04 268.8L667.35 269.4L669.65 269.4L670.42 269.2L671.58 268.3L672.15 268.1L672.73 268.3L673.88 269.2L674.85 269.4L676.96 269.3L680.23 269.5L682.54 269L685.23 269.5L691.19 269.3L694.46 269.5L695.62 269.3L697.35 268.8L699.85 269.5L701.38 269.5L703.5 269.2L706.38 269.5L707.54 269.4L709.27 268.8L711.77 269.4L712.35 269.1L712.73 267.9L713.31 262.1L714.08 245.8L715.81 200.3L716.19 193.5L716.38 191.8L716.58 191.5L716.77 192.7L717.15 198.8L719.27 252.4L720.04 265.6L720.42 268.3L720.81 269.2L721.19 269.3L722.92 269L725.23 269.4L725.81 269.3L726.38 268.9L727.73 266.9L728.12 266.7L728.69 267L729.65 268.5L730.04 268.6L730.42 267.4L730.62 266.1L731.38 253.4L733.5 197.3L733.88 189.9L734.08 187.9L734.27 187.3L734.65 190.4L735.04 197.9L737.35 258.9L737.92 266.8L738.12 268L738.5 269.2L738.88 269.4L739.46 269.5L741.96 268.8L743.88 269.4L745.23 269.4L746 269.1L747.35 267.5L747.92 267.2L748.5 267.6L749.65 269L750.81 269.5L751.96 269.2L753.69 268.1L754.27 268.2L755.62 269.2L756.38 269.5L758.69 269.5L760.81 269.1L763.12 269.4L763.88 269L765.04 267.7L765.62 267.4L766.19 267.7L767.35 269L768.31 269.4L771.38 269.5L773.5 268.7L774.85 268.7L775.23 267.6L775.42 266.3L775.81 261.9L777.92 218.9L778.31 212.9L778.5 211.3L778.69 210.9L779.08 213.7L779.46 220L781.58 262.8L782.15 268.1L782.54 269.2L783.31 269.5"/>
</g>
<path d="M6.8 490.5 H1018.5" stroke="#333" stroke-width="1.2" fill="none"/>
<g transform="scale(1.3 1)" stroke-width="2.3">
<path class="tr" stroke="#000000" d="M5.23 489.5L17.54 489.5L20.23 489.1L22.15 489.4L22.54 489.3L22.92 488.4L23.5 483.1L23.88 475.6L26.19 409.3L26.58 401.3L26.77 399.2L26.96 398.7L27.35 402.6L27.73 411.4L30.04 477.3L30.62 486.4L31 488.7L31.38 489.3L35.04 489.5L60.04 489.5L63.31 489.2L66.96 489.5L70.23 489.2L73.31 489.5L74.46 489.4L76.38 488.9L78.88 489.5L79.85 489.3L81.58 488.7L84.08 489.5L88.12 489.4L88.5 488.9L88.69 488.2L89.08 485.4L91.38 449.9L91.77 446.3L91.96 446L92.15 446.8L92.54 450.9L94.65 484.1L95.23 488.5L95.42 489L95.81 489.4L99.46 489.5L101.77 489.1L104.27 489.5L110.81 489.5L113.69 488.8L115.62 489.4L116.96 489.5L122.73 489.5L125.04 488.9L127.73 489.5L130.23 489.4L132.35 489L135.04 489.5L137.54 488.8L139.46 489.4L140.81 489.5L153.69 489.5L156.38 488.9L159.27 489.5L171.58 489.5L172.35 489.3L172.73 488.4L173.12 485.5L173.69 474.4L176.38 373.8L176.77 363.8L176.96 361.1L177.15 360.5L177.54 365.4L177.92 376.5L180.23 464.9L181 483.1L181.19 484.7L181.38 485L181.77 482.2L184.08 440.4L184.46 436.4L184.65 436L184.85 436.9L185.23 441.6L187.54 484L188.12 488.5L188.31 489.1L188.69 489.4L192.15 489.5L192.73 489.2L193.12 488L193.5 484.6L194.27 467.9L196.38 402.3L196.77 393.8L196.96 391.6L197.15 391L197.54 395.1L197.92 404.4L200.42 479.4L201 487.3L201.38 489L201.77 489.4L205.04 489.5L207.35 489.2L210.62 489.5L213.31 488.9L215.23 489.4L216.96 489.5L217.54 489.4L217.92 489.1L218.31 487.8L218.69 484.6L220.81 454.5L221.19 451.3L221.38 451L221.58 451.7L221.96 455.5L223.88 483.1L224.27 486.7L224.46 487.7L224.85 488.5L225.81 488.7L227.54 489.4L228.69 489.5L232.73 489.2L236 489.5L238.5 489L240.81 489.5L243.69 489.3L248.31 489.5L251.19 489L253.12 489.4L255.04 489.5L256.19 489.3L257.92 488.4L258.5 488.6L259.85 489.3L260.62 489.5L263.12 489.2L266.38 489.5L271.77 489.5L272.35 489.2L272.73 488.2L272.92 486.9L273.5 478.5L276 404.8L276.38 396.6L276.58 394.4L276.77 393.9L276.96 395.2L277.35 402.1L279.46 465.6L280.04 478L280.23 479.6L280.42 479.8L280.81 475.9L282.73 435.5L283.12 429.4L283.31 427.8L283.5 427.4L283.69 428.4L284.08 433.6L286.38 481.6L286.96 487.6L287.15 488.4L287.54 489L290.04 489.5L292.15 489.4L292.73 489.1L293.12 488.1L293.5 485.3L293.88 480.3L296 442.2L296.38 438.3L296.58 438L296.77 438.8L297.15 443.5L299.27 481.9L299.65 486.4L300.04 488.7L300.42 489.4L301 489.5L311.38 489.5L314.08 489.1L316 489.4L316.58 489.2L316.96 488L317.15 486.8L317.54 482.1L319.85 430.6L320.23 424.2L320.42 422.5L320.62 422.2L320.81 423.3L321.19 428.8L323.12 472.4L323.69 482.8L324.27 487.6L324.65 488.5L325.04 488.7L326.19 489.3L327.35 489.5L329.27 489.4L331.38 488.6L333.88 489.5L336.58 489.5L338.69 489L341.19 489.5L342.15 489.3L343.88 488.3L344.46 488.5L345.81 489.3L346.77 489.5L349.27 489.3L353.5 489.5L356 489.1L357.92 489.4L359.27 489.5L361.77 488.7L364.08 489.4L366.58 489.5L368.31 489.3L370.23 488.4L372.73 489.5L374.27 489.5L376.38 489.1L379.08 489.5L380.42 489.3L382.15 488.5L382.73 488.6L384.08 489.3L385.04 489.5L387.92 489.1L390.23 489.5L392.15 489.5L394.65 488.7L396.38 489.3L397.35 489.5L409.08 489.5L410.81 489.3L412.73 488.2L413.31 488.4L414.46 489.2L415.42 489.5L421.58 489.5L424.08 488.7L426.19 489.4L428.31 489.4L428.69 489L428.88 488.4L429.27 486.1L431.38 462.3L431.77 459.6L431.96 459.3L432.15 459.9L432.54 462.9L434.46 485.1L434.85 487.9L435.23 489.1L435.81 489.5L441.38 489.5L443.88 489.1L445.81 489.4L446.96 489.4L447.35 489.1L447.54 488.6L448.12 484.5L450.04 456.7L450.62 451.5L450.81 451.3L451.19 453.9L453.31 483L453.5 484.3L453.69 484.5L453.88 483.6L454.65 469.4L456.58 418.2L456.96 410.9L457.15 409L457.35 408.6L457.73 412.3L458.12 420.4L460.23 475.6L460.62 481.3L460.81 482.2L461 481.8L461.38 477.7L463.31 445.1L463.69 441.6L463.88 441.4L464.08 442.3L464.46 446.8L466.58 483L466.96 487L467.15 488.1L467.54 489.1L467.92 489.2L469.46 488.6L471.38 489.3L472.35 489.5L473.69 489.4L475.62 489L477.35 489.4L478.5 489.5L481 489L483.69 489.5L486.38 489.3L496.58 489.5L499.46 489.1L501.38 489.4L502.92 489.5L504.46 489.4L506.19 488.8L507.35 488.9L507.73 488.3L508.12 485.9L508.69 475.7L511.38 377.3L511.77 367.6L511.96 365.1L512.15 364.7L512.54 369.7L512.92 380.7L514.85 453.4L515.62 477.7L516.19 486.8L516.58 488.8L516.96 489.3L519.08 488.6L521 489.4L522.15 489.4L524.65 488.3L526.58 489.3L528.31 489.5L529.27 489.2L531 488.1L531.58 488.2L532.73 489.1L533.31 489.3L533.69 489.2L534.08 488L534.46 484.7L534.85 477.9L537.35 401.8L537.73 393.6L537.92 391.5L538.12 391.1L538.5 395.6L538.88 405L541.19 475.2L541.77 485.2L542.15 487.7L542.54 488.3L543.5 488.4L545.04 489.3L546 489.5L554.46 489.5L557.15 489.2L559.08 489.4L559.46 489.2L559.85 488.4L560.23 486.1L562.35 463.2L562.73 460.7L562.92 460.5L563.12 461L563.5 464L565.42 485.2L565.81 487.8L566 488.5L566.38 489L567.54 488.3L568.12 488.2L569.85 489.2L570.62 489.4L571.77 489.3L573.12 488.5L573.69 488.3L575.42 489.3L576.38 489.5L579.27 489.5L581.38 489.2L584.85 489.5L587.54 488.8L590.04 489.4L591 489.2L592.15 488.5L592.73 488.3L594.65 489.3L596.38 489.5L597.54 489.3L598.88 488.4L599.46 488.2L601.19 489.2L602.15 489.5L606.19 489.3L609.85 489.5L610.62 489.3L611.96 488.5L612.54 488.4L614.27 489.3L615.04 489.4L615.81 489.2L617.54 488.2L619.46 489.3L620.62 489.5L633.5 489.5L636.19 489L638.69 489.5L644.08 489.3L646.77 489.5L648.12 489.3L649.85 488L650.23 488L651.19 488.5L651.58 487.9L651.96 485.6L654.08 460.5L654.46 457.6L654.65 457.3L654.85 457.8L655.23 460.8L657.15 483.9L657.54 486.9L657.73 487.5L657.92 487.4L658.12 486.4L658.69 478.9L660.81 430.7L661.19 423.9L661.38 422.1L661.58 421.5L661.96 424.7L662.35 431.8L664.27 476.6L664.65 483L665.04 485.7L665.23 485.3L665.42 483.9L665.81 478.7L667.73 444.9L668.12 441.3L668.31 441.1L668.5 442.1L668.88 446.7L671 483.1L671.38 487.1L671.77 488.9L672.15 489.4L672.54 489.5L675.23 489.2L677.92 489.5L682.35 489.3L682.73 488.7L683.12 486.4L683.69 476.9L686.19 398.6L686.58 390L686.77 387.7L686.96 387.2L687.15 388.6L687.54 395.9L689.65 463L690.04 472.8L690.42 477.8L690.62 477.9L691 474L692.92 431.2L693.31 424.8L693.5 423.1L693.69 422.8L693.88 423.8L694.27 429.3L696.38 476.9L696.77 483.5L697.15 487.4L697.54 489L697.92 489.3L698.69 489L700.04 487.8L700.62 487.9L701.38 488.4L701.58 488.3L701.96 487L702.15 485.4L702.73 475.2L705.23 393L705.62 384L705.81 381.7L706 381.2L706.38 385.8L706.77 395.8L709.27 477.2L709.85 486.4L710.04 487.8L710.42 489L710.81 489.2L711.96 489L713.88 489.4L715.62 489.5L716.38 489.2L717.73 488.2L718.31 488L719.85 489.1L720.42 489.2L720.81 488.8L721 488L721.58 481.8L721.96 473.5L724.27 402.8L724.65 394.4L724.85 392.1L725.04 391.6L725.42 395.7L725.81 405L728.12 475.4L728.69 485.6L728.88 487.3L729.27 489L729.85 489.4L733.31 489.5L734.08 489.3L735.42 488.3L736 488.2L737.92 489.3L739.27 489.5L739.65 489.2L739.85 488.9L740.23 487L740.62 482.3L741.19 469.1L743.31 404.9L743.69 396.7L743.88 394.6L744.08 394.1L744.46 398.3L744.85 407.4L746.77 465.3L747.15 473.4L747.35 475.6L747.54 476.4L747.73 475.7L748.12 471.1L749.85 438.3L750.23 434.3L750.42 433.9L750.62 434.8L751 439.7L752.92 477.3L753.69 487.1L753.88 488.1L754.27 488.8L755.62 488.4L757.15 489.2L758.12 489.4L758.5 489.3L758.88 488.5L759.46 483.4L759.85 476.3L761.96 419.5L762.35 411.6L762.73 408.3L762.92 409L763.12 411.2L763.5 418.9L765.81 478.8L766.19 484.9L766.58 488L766.77 488.7L767.15 489.2L769.08 489.5L771.19 489.4L773.31 488.1L773.88 488.3L775.04 489.2L775.81 489.4L777.35 489.3L778.88 488.3L779.46 488.2L781.38 489.3L783.31 489.5"/>
<path class="tr" stroke="#00a800" d="M5.23 489.5L22.73 489.5L25.62 489.1L27.54 489.4L29.65 489.5L30.81 489.4L32.54 489L34.08 489.2L34.46 489L34.85 487.5L35.23 483.7L37.15 448.7L37.73 441.3L37.92 440.9L38.31 443.8L40.04 475L40.42 479.4L40.62 480.1L40.81 479.4L41.19 474.7L42.92 440.4L43.31 435.9L43.5 435.5L43.69 436.4L44.08 441.6L45.81 476.1L46.19 480.3L46.38 480.4L46.96 472.7L48.88 425.7L49.27 420.4L49.46 419.9L49.65 421L50.04 427.2L51.96 474.8L52.73 487.1L53.12 489L53.5 489.4L55.04 489.4L56.96 488.7L57.35 488.3L57.73 486.7L57.92 484.8L58.31 478.6L60.42 422.4L60.81 414.5L61 412.3L61.19 411.8L61.38 413L61.77 419.6L64.08 480.4L64.46 486.1L64.65 487.7L65.04 489.1L65.42 489.5L65.81 489.5L72.35 489.5L75.23 489L77.54 489.5L81.19 489.5L81.77 489.4L82.15 488.8L82.54 486.7L82.92 482.2L84.85 449.3L85.23 445.4L85.42 445L85.62 445.9L86 450.5L87.92 483.2L88.5 488.3L88.88 489.3L89.85 489.5L92.35 489.4L93.69 488.9L94.08 488.5L94.46 487.1L94.65 485.5L95.23 474.3L97.73 376.7L98.12 365.7L98.31 362.7L98.5 362L98.88 367.4L99.27 379.4L101.77 476.6L102.35 486.7L102.54 488L102.92 489.2L103.5 489.5L105.42 489.5L108.31 489.1L111.58 489.5L112.15 489.2L112.54 487.8L112.92 483.8L113.31 475.8L115.62 398.5L116 389.1L116.19 386.5L116.38 385.9L116.77 390.7L117.15 401.2L119.46 477.8L120.04 486.9L120.23 488.1L120.62 489.2L121.58 489.5L123.88 489.4L124.27 488.9L124.65 486.8L125.42 474.2L127.35 428.6L127.73 423.5L127.92 423L128.12 424.1L128.5 430.1L130.62 479.8L131 485.6L131.38 488.4L131.58 488.9L131.96 489.3L133.69 489.5L136.38 489.4L138.69 488.7L140.62 489.4L142.15 489.5L142.54 489.4L142.92 488.6L143.31 486L143.69 480.3L145.81 427.1L146.19 419.6L146.38 417.5L146.58 417L146.77 418.2L147.15 424.5L149.08 473.3L149.46 479.5L149.65 480.7L149.85 480.4L150.23 476.1L151.96 443.5L152.35 439.2L152.54 438.8L152.73 439.7L153.12 444.7L155.04 480.5L155.23 482.2L155.42 482.7L155.62 481.8L156.19 472.6L157.92 434.6L158.31 429.8L158.5 429.4L158.69 430.5L159.08 436.1L161 477.8L161.38 482.3L161.58 482.5L161.77 481.2L162.15 475.2L164.08 431.3L164.46 426.4L164.65 425.9L164.85 427L165.23 432.8L167.35 480.7L167.73 486L167.92 487.6L168.31 488.9L168.69 489.1L172.54 489.5L174.85 489.5L176.96 489.1L179.85 489.5L183.31 489.1L185.81 489.5L189.08 489.3L192.35 489.5L195.04 489.1L198.5 489.5L199.46 489.4L201.38 488.8L204.08 489.5L205.81 489.4L207.92 488.7L210.23 489.4L211 489.5L211.38 489.2L211.77 488L212.15 484.6L214.27 448.5L214.65 444.5L214.85 444.2L215.04 445.1L215.42 449.8L217.35 483.2L217.92 488.3L218.12 488.9L218.5 489.3L220.42 488.7L222.35 489.4L223.12 489.3L223.5 488.6L223.88 485.9L224.46 473.8L227.15 352.3L227.54 339.9L227.73 336.6L227.92 335.8L228.12 337.6L228.5 347.9L230.62 444.9L231.19 462.9L231.58 466.9L231.77 466.6L231.96 465L233.31 440.9L233.69 436.4L233.88 436L234.08 437L234.46 442.2L236.58 483.4L236.96 487.3L237.15 488.3L237.54 488.9L238.69 488.8L241 489.5L244.08 489.2L247.15 489.5L247.73 489.4L248.12 488.6L248.5 486.1L248.88 481.1L250.81 446.4L251.19 442.3L251.38 442L251.58 442.9L251.96 447.7L253.88 482.4L254.46 488.1L254.85 489.3L255.23 489.5L257.73 489L259.65 489.3L260.04 488.9L260.42 486.8L260.81 481.9L263.12 428.4L263.5 423.3L263.69 422.8L263.88 423.9L264.27 429.9L266.38 479.9L266.77 485.7L266.96 487.4L267.35 489L267.73 489.2L269.46 488.5L271.96 489.5L275.62 489.2L278.88 489.5L280.04 489.3L281.77 488.6L284.27 489.5L285.62 489.4L287.54 488.9L289.46 489.4L291 489.5L292.15 489.3L294.08 488.5L296.58 489.5L298.5 489.4L299.27 489L299.65 487.8L299.85 486.4L300.23 481.1L302.54 418.4L302.92 410.3L303.12 408L303.31 407.5L303.5 408.7L303.88 415.4L306.19 478.3L306.58 484.8L306.77 486.7L307.15 488.7L307.54 489.3L307.92 489.4L310.62 489.5L311.19 489.3L311.58 488.5L311.96 485.9L312.35 481.1L314.08 453.5L314.46 449.9L314.65 449.6L314.85 450.5L315.23 454.8L317.15 484.7L317.54 488L317.92 489.2L318.5 489.5L322.54 489.5L325.23 488.7L326.96 489.3L328.12 489.5L328.88 489.3L330.81 488.5L332.54 489.3L333.31 489.5L341.77 489.4L342.15 488.7L342.54 486.3L343.12 476L345.42 398.3L345.81 389L346 386.5L346.19 386.1L346.38 387.6L346.77 395.8L349.27 477.7L349.85 486.5L350.04 487.8L350.42 488.8L351.38 489.3L352.73 489.5L355.04 489.4L357.15 488.7L359.46 489.4L365.42 489.5L366.58 489.3L368.5 488.3L370.23 489.2L371.19 489.5L373.88 489.5L376.19 488.8L378.12 489.4L379.65 489.5L382.35 489L385.04 489.4L385.81 489.1L386.77 488.4L387.35 488.2L389.46 489.4L390.81 489.5L391.38 489.2L391.77 488.1L391.96 486.7L392.35 481.4L394.65 417.5L395.04 409.2L395.23 407L395.42 406.5L395.62 407.8L396 414.8L398.31 479.1L398.69 485.4L398.88 487.2L399.27 488.8L399.65 489.1L400.81 489L402.54 489.4L404.08 489.5L410.04 489.5L412.35 488.9L415.23 489.5L415.62 489.4L416 488.9L416.38 486.7L416.77 481.8L418.88 431.7L419.27 424.8L419.46 422.9L419.65 422.5L419.85 423.7L420.23 429.9L422.35 479.9L422.73 485.7L423.12 488.5L423.5 489.3L423.88 489.5L426.19 489.2L429.46 489.5L431.77 488.7L433.5 489.3L434.08 489.2L434.46 488.3L434.65 487.2L435.23 478.1L437.73 389L438.12 378.9L438.31 376.2L438.5 375.6L438.69 377.2L439.08 385.8L441 455.8L441.58 470.5L441.77 472.6L441.96 473L442.35 469.7L443.88 440.3L444.27 435.9L444.46 435.5L444.65 436.5L445.04 441.7L447.15 483.3L447.54 487.4L447.73 488.4L448.12 489.1L449.65 488.9L451.58 489.4L454.27 489.5L457.35 489L459.65 489.5L462.73 489.2L465.42 489.5L466 489.3L466.38 488.6L466.77 486L467.15 480.3L469.27 427.5L469.65 420.2L469.85 418.2L470.04 417.8L470.23 419L470.62 425.4L472.54 473.3L472.92 478.6L473.12 479.1L473.31 478L473.69 471.7L475.62 423.9L476 418.5L476.19 418L476.38 419.2L476.96 429.9L478.88 478.3L479.46 486.7L479.65 488L480.04 489L482.54 489.4L483.5 489.4L483.88 488.9L484.27 486.8L484.85 478.8L486.77 439.5L487.15 435L487.35 434.6L487.54 435.6L487.92 441L489.65 476.6L490.23 484.3L490.42 484.7L490.81 481.6L492.92 438.9L493.31 434.6L493.5 434.3L493.69 435.4L494.08 441L496 480L496.38 483.9L496.58 484.1L497.15 477.1L499.08 435.1L499.46 430.3L499.65 429.9L499.85 430.9L500.23 436.6L502.35 482.1L502.73 486.8L502.92 488.1L503.31 489.2L503.69 489.3L505.42 488.7L507.35 489.4L508.31 489.5L515.23 489.5L517.73 489L520.23 489.5L522.73 489.5L524.85 489.1L527.35 489.5L528.31 489.2L530.04 488L530.62 488.2L531.96 489.3L533.12 489.5L536 489.5L538.31 489L540.62 489.4L541.38 489.1L542.35 488.4L542.92 488.2L544.65 489.2L545.42 489.5L547.54 489.4L549.65 488.6L551.58 489.4L552.54 489.3L552.92 488.5L553.12 487.4L553.69 479.5L555.81 423.5L556.19 415.9L556.38 413.9L556.58 413.5L556.77 414.9L557.15 421.7L559.08 472.8L559.85 486.5L560.23 488.8L560.62 489.4L564.27 489.5L565.04 489.3L565.42 488.3L565.62 487.1L566.19 478.4L568.5 406.4L568.88 397.7L569.08 395.5L569.27 395.1L569.46 396.6L569.85 404.3L571.77 465L572.54 483.2L572.73 485.5L573.12 487.7L573.5 488L574.46 488.1L576 489.3L576.58 489.4L576.96 489.1L577.35 487.8L577.54 486.3L578.12 478.3L579.85 446.9L580.23 442.8L580.42 442.4L580.62 443.3L581 448.1L582.92 482.6L583.31 486.9L583.69 488.9L584.08 489.4L584.46 489.5L591.19 489.5L593.88 489.2L596.96 489.5L598.12 489.4L599.85 488.7L601.38 489.1L601.77 488.6L602.15 486.2L602.54 480.8L604.85 424.3L605.23 418.9L605.42 418.4L605.62 419.5L606 425.8L608.12 478.7L608.5 485L608.69 487L609.08 488.9L609.27 489.3L609.65 489.5L611 489.4L612.92 489L615.42 489.4L616.19 489.2L617.54 488.2L618.12 488L620.04 489.3L621.77 489.5L622.92 489.4L624.65 488.8L626.38 489.2L626.77 488.6L627.15 486.1L627.54 480.9L629.65 435.4L630.04 430.3L630.23 429.7L630.42 430.6L630.81 436L632.54 474.5L633.12 482.7L633.31 483.1L633.69 480L635.62 444.2L636 439.8L636.19 439.3L636.38 440.2L636.77 445.1L638.5 478.5L638.88 484.4L639.27 487.9L639.65 489.2L640.04 489.5L642.92 489.4L644.08 489.2L644.46 488.2L644.65 486.9L645.23 478.5L647.35 421.4L647.73 413.4L647.92 411.2L648.12 410.6L648.5 414.4L648.88 422.7L651 478.8L651.58 486.9L651.96 488.7L652.35 489.3L653.12 489.5L654.27 489.3L654.85 489L656 487.9L656.58 487.7L658.31 489.2L659.65 489.5L661 489.4L662.92 489L665.04 489.3L666.96 488.3L667.54 488.4L668.88 489.3L670.23 489.5L672.35 489.4L674.46 488.6L676.19 489.3L677.15 489.5L683.69 489.4L686 488.7L687.92 489.4L689.65 489.5L690.62 489.3L692.54 488.5L694.27 489.3L695.42 489.5L697.35 489.4L699.27 488.6L701.96 489.5L703.88 489.4L706 488.7L707.73 489.3L708.88 489.5L711.38 488.6L713.31 489.4L714.65 489.5L715.81 489.3L717.54 488.4L719.65 489.4L721.58 489.5L722.92 489.3L724.85 488.2L725.42 488.4L726.58 489.2L727.35 489.4L733.88 489.5L735.42 489.2L736.77 488.1L737.35 487.8L737.92 488.1L739.08 489.1L740.04 489.4L741 489.4L742.73 488.9L744.85 489.4L746.96 489.4L747.73 489.2L749.46 488.4L751.19 489.2L752.15 489.5L753.88 489.4L755.81 489L758.31 489.5L764.65 489.4L765.04 489L765.42 487L766 478.1L768.31 406.9L768.69 398.3L768.88 396.3L769.08 396.1L769.65 406.1L771.58 466L772.15 475.9L772.35 476.1L772.73 472.1L774.46 433.8L774.85 428L775.04 427L775.23 427.5L775.62 432.4L777.15 467.2L777.73 476.8L777.92 477.8L778.12 477.5L778.5 473.1L780.23 437.5L780.62 433.1L780.81 432.7L781 433.8L781.38 439.4L783.31 479.6"/>
<path class="tr" stroke="#ff0000" d="M5.23 452.6L6.58 411.1L6.96 404.4L7.15 403.8L7.35 405.2L7.73 413L9.85 477.1L10.23 482.3L10.42 482.2L11 472.2L12.92 415.1L13.31 408.7L13.5 408.1L13.69 409.5L14.08 417.2L16.19 479L16.58 485L16.77 486L16.96 485.4L17.35 480.1L17.73 470.5L19.65 411L20.04 404.4L20.23 403.7L20.42 405.2L20.81 413L22.92 477.6L23.31 484.9L23.5 487.1L23.88 489L24.27 489.4L24.65 489.5L27.15 489.1L29.65 489.5L33.69 489.3L37.15 489.5L39.85 489L42.73 489.5L49.65 489.5L51.58 489.3L51.96 488.6L52.15 487.6L52.73 479.8L54.85 424L55.23 418L55.42 417.4L55.62 418.7L56 425.6L57.73 472.6L58.5 486.7L58.88 488.9L59.27 489.4L63.12 489.4L63.5 488.6L63.69 487.5L64.27 479.3L66.38 422.2L66.77 416.1L66.96 415.5L67.15 416.8L67.54 423.9L69.65 480.5L70.04 486.1L70.23 487.7L70.62 489L71.19 489.3L72.73 489.5L74.85 489.5L76.96 489.2L79.46 489.4L81.77 488.9L84.65 489.5L89.46 489.2L91.77 489.5L100.62 489.4L101 489L101.38 487.4L101.77 482.7L104.08 421.7L104.46 415.6L104.65 415L104.85 416.3L105.23 423.5L107.15 476.2L107.54 482.6L107.73 483.5L107.92 482.7L108.31 476.8L110.23 428L110.62 422.2L110.81 421.7L111 422.9L111.38 429.4L113.12 473.7L113.88 486.8L114.27 488.8L114.85 489.4L116.38 489.5L117.73 489.3L118.5 489L118.88 488.3L119.27 485.8L119.65 480.2L121.77 427.1L122.15 421.3L122.35 420.8L122.54 422L122.92 428.8L124.65 474L125.04 482.1L125.42 487.1L125.62 488.3L126 489.2L128.5 489.5L130.04 489.4L130.42 488.8L130.62 487.9L131.19 480.1L133.5 411L133.88 404.3L134.08 403.7L134.27 405.2L134.65 413L136.77 477.6L137.15 484.5L137.35 486.1L137.54 486.3L137.92 482.6L138.31 474.5L140.23 421.2L140.62 415.1L140.81 414.5L141 415.9L141.38 423L143.5 480.3L144.08 487.6L144.27 488.4L144.65 489L146 489.4L147.54 489.5L149.46 489.4L151.38 488.9L153.31 489.4L154.46 489.5L160.04 489.5L162.54 489.2L166.38 489.5L166.96 489.4L167.15 489.1L167.54 487.3L167.92 482.7L170.04 433.4L170.42 428L170.62 427.5L170.81 428.7L171.19 435.1L173.12 480.6L173.69 487.8L173.88 488.7L174.27 489.2L178.69 489.5L181.58 489.1L183.69 489.5L185.42 489.5L186.96 489.4L187.35 488.9L187.92 484.8L189.85 452.1L190.23 447.9L190.42 447.5L190.62 448.5L191 453.3L192.73 483.3L193.31 488.3L193.69 488.9L194.85 488.8L196.96 489.5L199.46 489.5L200.04 489.1L200.42 487.4L200.81 483.1L202.73 446.1L203.12 441.5L203.31 441L203.5 442L203.88 447.4L205.81 484.2L206.19 487.9L206.58 489.1L206.96 489.3L208.31 489.2L210.62 489.5L213.31 489.3L222.73 489.5L223.88 489.3L225.81 488.6L227.54 489.3L228.69 489.5L235.23 489.5L237.73 489.1L241.19 489.5L243.88 489L246.38 489.5L253.69 489.5L254.08 489.2L254.46 488L254.85 484L257.15 426.8L257.54 421.1L257.73 420.6L257.92 421.9L258.31 428.7L260.04 474L260.42 482.1L260.81 487L261 488.1L261.38 489L264.08 489.4L266 489.5L266.38 489.2L266.77 487.8L267.15 483.6L269.46 424.9L269.85 419L270.04 418.5L270.23 419.8L270.62 426.8L272.73 481.7L273.12 486.9L273.31 488.3L273.69 489.3L274.08 489.5L276 489.2L278.69 489.5L282.54 489.3L285.81 489.5L286.77 489.3L288.69 488.5L290.42 489.3L291.58 489.5L294.85 489.1L297.54 489.4L299.85 488.8L301.77 489.4L302.73 489.5L304.46 489.4L306.38 489L309.27 489.5L312.92 489.3L316 489.5L318.31 489.1L320.42 489.4L322.35 489.5L323.5 489.3L325.23 488.6L327.35 489.4L328.5 489.4L329.65 488.9L330.23 487.9L330.81 482.6L331.38 469.3L333.31 410.3L333.69 403.6L333.88 403L334.08 404.5L334.46 412.3L336.58 476.3L336.96 483L337.15 484.4L337.35 484.2L337.73 479.8L339.85 427.3L340.23 421.6L340.42 421L340.62 422.3L341 429L342.73 474.1L343.12 482.2L343.5 487.2L343.69 488.4L344.08 489.3L347.73 489.4L348.12 489.3L348.5 488.5L349.08 482.6L351.38 421.7L351.77 415.6L351.96 415L352.15 416.3L352.54 423.5L354.46 476.5L354.85 483.5L355.04 485.1L355.23 485.2L355.62 480.8L356 471.7L357.92 414.1L358.31 407.6L358.5 407L358.69 408.4L359.08 416.1L361 473.4L361.38 480.6L361.58 481.8L361.77 481L362.35 469.1L364.27 409.7L364.65 403.3L364.85 402.7L365.04 404.3L365.42 412.3L367.35 472.2L367.92 482.4L368.12 482.4L368.5 477.3L370.62 417.4L371 411.2L371.19 410.7L371.38 412.1L371.77 419.6L373.69 474.6L374.08 481.3L374.27 482.3L374.46 481.6L375.04 470.3L376.96 412.7L377.35 406.1L377.54 405.5L377.73 406.9L378.12 414.7L380.04 472.8L380.62 482.4L380.81 482.4L381.19 477.2L383.12 422.8L383.69 411.6L383.88 411L384.27 415.5L386.38 474.8L386.77 481.1L386.96 481.8L387.15 480.6L387.54 473.6L389.46 419.7L389.85 413.5L390.04 413L390.23 414.3L390.62 421.6L392.35 470.8L393.12 485.9L393.5 488.5L393.88 489.1L395.23 489.4L396.96 489.5L397.35 489.3L397.73 488.5L398.31 482.3L400.62 419.7L401 413.5L401.19 413L401.38 414.3L401.77 421.6L403.69 475.7L404.08 482.9L404.27 484.5L404.46 484.4L404.85 479.6L405.23 470L407.15 410.9L407.54 404.3L407.73 403.7L407.92 405.2L408.31 413L410.42 477.4L410.81 483.9L411 484.9L411.19 484.2L411.58 478.6L413.69 422.1L414.08 416.3L414.27 415.8L414.46 417.2L414.85 424.3L416.58 471.9L417.15 483.7L417.35 485.9L417.73 488L417.92 488.3L418.88 488.6L420.04 489.3L421.58 489.5L424.85 489.3L427.35 489.5L435.04 489.5L436 489.4L437.92 488.6L439.65 489.3L440.81 489.5L443.69 489.1L446.19 489.5L453.12 489.5L455.81 488.8L457.73 489.4L459.08 489.5L478.88 489.5L481.77 489.4L485.04 489.5L487.92 489L490.81 489.5L502.35 489.4L502.73 488.6L502.92 487.5L503.31 483.1L505.42 435.3L505.81 430.1L506 429.7L506.19 430.9L506.58 437.2L508.5 481.3L508.88 486.6L509.27 488.9L509.65 489.4L510.62 489.4L512.92 488.2L513.5 488.3L514.85 489.2L515.23 488.9L515.42 488.3L515.81 485.2L516.19 479.2L517.92 444L518.31 439.2L518.5 438.8L518.69 439.8L519.08 445.4L521 483.7L521.38 487.6L521.58 488.4L521.77 488.4L522.15 486.1L522.54 480.4L524.46 437.5L524.85 432.4L525.04 431.9L525.23 433L525.62 439.1L527.54 481.8L527.92 486.8L528.31 488.6L528.5 488.4L528.69 487.5L529.08 483.2L531.19 435L531.58 429.4L531.77 428.8L531.96 429.8L532.35 436L534.27 481.1L534.65 486.5L534.85 488L535.23 489.3L535.62 489.5L536.19 489.4L538.5 488.7L540.81 489.4L541.19 489.1L541.38 488.5L541.77 485.5L542.15 479.8L543.88 444.6L544.27 439.8L544.46 439.3L544.65 440.3L545.04 445.9L546.96 484L547.35 487.8L547.54 488.4L547.73 488.4L548.12 485.9L548.5 480.1L550.42 436.9L550.81 432L551 431.7L551.19 433L551.58 439.2L553.5 482L553.88 486.9L554.27 488.9L554.46 489.3L554.85 489.4L559.46 489.5L560.42 489.3L562.15 488.5L564.65 489.5L568.12 489.3L572.73 489.5L573.88 489.2L575.23 488.2L575.81 488L577.73 489.3L578.88 489.5L579.85 489.2L581.58 487.9L582.73 488.5L582.92 488.4L583.31 486.9L583.5 485.1L584.08 473.9L586 419.8L586.38 413.6L586.58 413L586.77 414.3L587.15 421.6L589.08 475.8L589.46 483.3L589.65 485.4L589.85 486L590.04 485.2L590.42 479.6L592.54 422.4L592.92 416.4L593.12 415.8L593.31 417.2L593.69 424.4L595.62 477.2L596 484.3L596.38 487.1L596.58 486.6L596.96 482.3L599.08 432.5L599.46 427L599.65 426.5L599.85 427.7L600.23 434.1L602.15 480.2L602.73 487.8L603.12 489.2L603.69 489.5L606.19 488.7L607.54 489.1L607.92 488.7L608.12 487.9L608.5 484.1L608.88 476.8L610.81 427L611.19 421.1L611.38 420.5L611.58 421.7L611.96 428.5L613.88 478.4L614.27 484.8L614.46 486.4L614.65 486.6L615.04 483.1L615.42 475.4L617.35 423.2L617.73 417L617.92 416.4L618.12 417.6L618.5 424.5L620.42 477.1L620.81 484.2L621 486.1L621.19 486.8L621.38 486.1L621.77 481.2L623.88 428.1L624.27 422.5L624.46 422.1L624.65 423.4L625.04 430.3L626.96 479.1L627.35 485.5L627.54 487.4L627.92 489L628.12 489.2L628.5 489.2L629.85 488.2L630.42 488.1L632.15 489.2L632.92 489.4L634.27 489.4L636.19 488.9L638.31 489.4L638.69 489.2L638.88 488.9L639.27 486.6L639.65 481.4L641.58 440.5L641.96 435.5L642.15 435L642.35 436.1L642.73 441.9L644.65 482.7L645.04 487.3L645.42 489.1L645.81 489.4L646.96 489.3L648.69 488L649.08 487.9L649.65 488.2L651 489.3L651.96 489.5L659.08 489.5L659.85 489.2L661.58 488.2L662.15 488.4L663.5 489.3L664.27 489.5L672.35 489.5L673.5 489.2L675.23 487.9L675.62 488L676.77 488.8L677.15 488.3L677.35 487.2L677.73 482.6L678.12 474.3L680.04 420.3L680.42 413.9L680.62 413.2L680.81 414.5L681.19 421.6L683.31 480.4L683.69 486.3L684.08 488.8L684.27 489.2L684.65 489.4L686.38 489.2L688.69 489.5L691.19 489.5L692.15 489.2L693.5 488.2L694.08 488L696 489.3L696.58 489.4L696.96 489.1L697.35 487.3L697.73 483.1L699.46 454.3L699.85 450.3L700.04 449.9L700.23 450.8L700.62 455.5L702.35 484.1L702.92 488.7L703.31 489.4L703.69 489.5L706.58 489.3L709.46 489.5L711.77 489.1L714.46 489.5L714.85 489.3L715.23 488.4L715.81 482.2L718.12 419.5L718.5 413.4L718.69 412.9L718.88 414.3L719.27 421.6L721.38 480.2L721.77 486.2L721.96 487.8L722.35 489.1L722.73 489.3L727.73 489.5L728.12 489.2L728.5 487.6L729.08 480.5L730.81 446.3L731.19 441.8L731.38 441.4L731.58 442.5L731.96 448.1L733.69 481.9L734.08 486.5L734.27 487.5L734.46 487.4L734.85 484.1L735.23 476.8L737.15 427.3L737.54 421.6L737.73 421.1L737.92 422.4L738.31 429.3L740.23 478.4L740.62 484.8L740.81 486.6L741.19 488.1L741.38 488.1L742.15 487.7L742.54 487.7L744.08 489.1L745.23 489.5L749.27 489.2L752.73 489.5L753.31 489.3L753.5 489.1L753.88 487.5L754.27 483.4L756.19 448.7L756.58 444.9L756.77 444.8L757.35 451.6L759.08 483.2L759.46 487.4L759.85 489.1L760.04 489.3L760.42 489.3L761.96 488.2L762.54 488.1L764.08 489.1L764.65 489.2L765.23 488.9L766.38 487.7L766.77 487.5L767.35 487.8L768.69 489.2L769.65 489.5L771.19 489.4L773.12 488.9L775.23 489.4L777.54 489.5L780.23 488.9L781.96 489.4L783.31 489.5"/>
<path class="tr" stroke="#0000ff" d="M5.23 489.5L8.69 489.2L11.19 489.5L13.69 489.3L24.65 489.5L27.35 489.1L28.69 489.2L29.08 488.8L29.46 487L29.85 482.7L32.15 435.4L32.54 430.9L32.73 430.5L32.92 431.4L33.31 436.8L35.42 480.9L35.81 486L36 487.5L36.38 488.9L36.77 489.2L38.12 488.9L39.85 489.4L41.19 489.5L54.46 489.5L57.15 488.8L60.04 489.5L69.46 489.4L69.85 488.7L70.04 487.8L70.62 481.4L72.73 434.8L73.12 428.3L73.31 426.5L73.5 426L73.69 427L74.08 432.6L76 474.8L76.38 479.7L76.58 480.2L76.77 479.4L77.15 474.2L79.08 433.7L79.46 429.1L79.65 428.7L79.85 429.7L80.42 438.7L82.54 483.1L83.12 488.4L83.31 489L83.69 489.4L85.62 489.4L87.73 488.8L89.65 489.4L91 489.5L101.19 489.4L104.08 489.5L106.58 489.3L111.77 489.5L114.65 489.3L117.35 489.5L124.08 489.5L127.15 488.9L129.85 489.5L135.81 489.5L138.31 489.3L141.77 489.5L143.12 489.3L144.85 488.3L145.42 488.4L146.77 489.3L147.92 489.5L155.81 489.5L158.31 488.8L160.81 489.5L161.96 489.4L163.88 489L166.58 489.5L167.54 489.3L168.88 488.3L169.46 488.2L171.19 489.2L172.15 489.5L174.65 489.5L176.77 489.1L179.27 489.5L185.42 489.5L186.58 489.3L187.92 488.2L188.5 488L189.08 488.2L190.23 489.2L191.19 489.5L193.12 489.4L195.04 488.6L197.73 489.5L205.04 489.4L205.42 488.9L205.62 488.3L206.19 482.6L208.5 428.6L208.88 421.7L209.08 419.8L209.27 419.4L209.46 420.5L209.85 426.5L212.15 480.9L212.54 486.1L212.92 488.5L213.12 488.9L213.5 489.2L215.81 489.5L217.35 489.3L218.69 488.4L219.27 488.2L221.19 489.3L222.15 489.5L228.88 489.5L231.38 488.7L233.5 489.4L235.23 489.3L235.81 488.9L236.19 487.9L236.77 482.6L239.08 433.1L239.65 424.9L239.85 424.5L240.04 425.5L240.42 431.2L242.15 469L242.54 473.3L242.73 473.5L242.92 472.3L243.5 461.9L245.23 418.9L245.62 413.9L245.81 413.5L246 414.7L246.38 421.1L248.31 470.6L249.08 484.9L249.27 486.6L249.65 488L249.85 488.2L250.81 488.1L252.35 489.2L253.12 489.4L254.65 489.4L256.58 488.6L258.31 489.3L259.46 489.5L263.69 489.2L266.38 489.5L278.5 489.5L279.46 489.3L280.81 488.2L281.38 488L281.96 488.3L283.12 489.2L283.88 489.4L285.23 489.3L286.19 488.7L286.58 487.9L286.77 487L287.15 483.8L289.27 452.5L289.65 449.1L289.85 448.7L290.04 449.5L290.42 453.7L292.35 483.5L292.73 487.3L293.12 489L293.31 489.3L293.69 489.4L297.35 489.4L298.12 489.1L299.46 487.9L299.85 487.8L300.42 488L301.38 488.9L302.15 489.4L304.08 489.5L304.85 489.1L305.23 487.8L305.42 486.4L305.81 481.2L308.12 424.1L308.5 416.9L308.69 414.9L308.88 414.5L309.08 415.6L309.46 421.8L311.96 482.9L312.54 488.3L312.92 489.2L313.31 489.3L317.15 489.5L319.65 488.9L321.58 489.4L322.73 489.5L323.31 489.2L323.69 488L324.08 484.6L324.46 478.6L326.58 433.8L326.96 429.3L327.15 428.9L327.35 429.9L327.73 435.3L330.04 483.3L330.42 487.3L330.62 488.3L331 489.1L333.12 489.5L336.19 489.5L336.96 489.3L338.88 488.5L340.62 489.3L341.38 489.5L342.54 489.4L344.46 488.8L346.96 489.5L349.85 489.2L354.08 489.5L355.42 489.2L357.15 488.1L357.73 488.3L359.08 489.2L360.04 489.5L361 489.4L362.92 488.7L364.85 489.4L365.81 489.5L368.88 489.1L371.38 489.5L378.12 489.5L379.08 489.4L380.81 488.8L383.5 489.5L391.19 489.5L392.54 489.2L393.88 488L394.46 487.7L395.04 488L396.19 489.1L396.96 489.4L398.69 489.4L400.81 488.8L402.54 489.3L403.5 489.4L404.46 489.2L405.81 487.9L406.38 487.7L406.77 487.9L408.12 489.1L409.08 489.4L411.77 489.1L413.69 489.5L415.62 489.5L418.12 488.8L420.23 489.4L421.38 489.3L421.77 488.5L421.96 487.5L422.54 480.3L424.65 431L425.04 423.9L425.23 422L425.42 421.4L425.62 422.4L426 428L428.31 481.5L428.88 487.9L429.27 489.2L429.65 489.4L430.42 489.2L431.77 487.9L432.35 487.7L432.73 487.8L434.08 489.1L435.23 489.5L440.62 489.5L442.92 489L445.62 489.5L453.31 489.5L454.27 489.2L455.62 487.8L456.19 487.6L456.77 487.9L457.92 489.1L458.69 489.4L459.65 489.2L460.81 488.2L461.38 487.9L461.96 488.1L463.31 489.2L464.27 489.5L466.96 489.5L469.27 488.9L471.19 489.4L472.73 489.5L473.5 489.3L474.85 488.4L475.42 488.3L477.35 489.3L477.73 489.4L478.12 489.1L478.5 487.8L478.69 486.4L479.08 481.3L481.19 434L481.58 427.4L481.77 425.6L481.96 425.2L482.15 426.3L482.54 432.1L484.85 482.6L485.42 488.2L485.62 488.9L486 489.3L488.12 488.4L490.23 489.4L491.96 489.4L492.73 489.1L493.88 487.9L494.46 487.7L495.04 488L496.19 489.1L496.96 489.3L497.54 489L498.69 487.6L499.27 487.2L499.85 487.6L501.19 489.1L502.54 489.5L509.46 489.5L510.23 489.3L511.58 488.6L512.15 488.5L514.27 489.4L516.77 489.5L517.73 489.1L518.88 487.8L519.46 487.5L520.04 487.7L521.38 489.2L522.54 489.5L523.69 489.4L525.42 488.9L527.92 489.5L530.42 489.2L533.12 489.5L540.81 489.5L541.77 489.3L543.69 488.3L545.62 489.3L546.58 489.5L549.27 489.3L553.88 489.5L556.58 488.9L559.27 489.5L561.77 488.9L563.69 489.4L565.23 489.5L566.19 489.3L567.54 488.4L568.12 488.3L570.04 489.3L570.81 489.4L571.19 489.3L571.58 488.5L571.77 487.5L572.15 483.6L574.27 441.6L574.65 436.1L574.85 434.8L575.04 434.7L575.62 441.2L577.73 482.4L578.31 488.1L578.5 488.8L578.88 489.2L579.46 488.8L580.42 487.5L581 487L581.58 487.3L582.92 489.1L584.08 489.5L586.96 489.1L589.65 489.5L591.58 489.5L593.69 489.2L596 489.4L596.77 489.1L597.92 488.2L598.5 487.9L599.08 488.2L600.23 489.2L601.19 489.5L603.5 489.3L605.62 488L606.19 488.2L607.35 489.2L608.12 489.4L611 489.1L613.12 489.5L614.65 489.5L615.42 489.4L616 489.1L617.35 487.4L617.92 487.1L618.31 487.3L619.65 489L620.62 489.4L621.77 489.1L623.12 487.8L623.5 487.6L624.08 487.8L625.42 489.2L626.77 489.5L630.81 489.3L635.42 489.5L637.92 488.6L640.42 489.5L646.58 489.5L647.54 489.3L649.46 488.5L651.38 489.3L652.54 489.5L653.5 489.3L654.85 488.5L655.42 488.3L657.15 489.3L657.92 489.5L660.81 489.3L663.5 489.5L670.42 489.4L670.81 489L671 488.4L671.58 483.6L673.69 448L674.08 444.2L674.27 443.8L674.46 444.7L674.85 449.1L676.77 482L677.15 486.5L677.35 487.9L677.73 489.1L678.31 489.4L680.42 488.6L682.15 489.3L683.31 489.5L689.85 489.5L692.35 489.3L696.58 489.5L699.46 489.3L702.35 489.5L703.5 489.4L705.42 488.7L707.92 489.4L708.31 489.2L708.69 488L709.27 481.9L711.38 435.5L711.77 429.1L711.96 427.5L712.15 427.1L712.35 428.2L712.73 433.9L715.04 483.1L715.42 487.3L715.62 488.4L716 489.3L716.77 489.4L718.88 488.9L720.81 489.4L722.15 489.4L722.92 489.2L724.27 488.2L724.85 488L726.58 489.2L727.35 489.3L727.92 488.9L729.08 487.3L729.65 486.9L730.23 487.3L731.38 488.9L732.15 489.4L734.65 489.5L737.54 489.2L739.27 489.3L740.04 488.8L741.19 487.1L741.77 486.6L742.35 487L743.69 489L744.85 489.5L746.58 489.4L748.5 488.9L750.62 489.4L751.96 489.4L752.73 489.2L754.46 488.1L755.04 488.3L756.38 489.2L757.15 489.5L759.08 489.4L761.19 488.9L763.12 489.4L764.27 489.5L765.23 489.2L766.96 487.8L767.54 488L769.08 489.3L770.62 489.5L771.77 489L773.12 487.4L773.5 487.1L774.08 487.4L775.42 489.1L776.19 489.4L777.35 489.4L778.12 489.2L779.65 487.5L780.04 487.4L780.62 487.7L781.96 489.1L783.31 489.5"/>
</g>
<path d="M6.8 795.3 H1019" stroke="#444" stroke-width="1.2" fill="none"/>
<g transform="scale(1.3 1)" stroke-width="2.0">
<path class="tr" stroke="#000000" d="M5.23 787L5.81 786.9L6.96 783L9.46 773.7L11.58 764.8L14.46 750.8L17.54 733.8L23.31 706.5L23.69 705.1L24.08 705.1L24.46 705.6L25.62 708.1L26.19 709L28.31 710.5L29.08 711.3L31.58 718.1L34.65 722.6L36.96 726.8L37.73 727.5L39.65 727.9L40.23 728.2L41.58 731.1L42.15 732L42.35 732L42.73 731.5L43.88 727.4L44.46 726.1L44.65 726L45.04 726.5L46 729.1L46.58 730L47.15 729.4L48.5 726.2L49.08 725.6L49.46 726.4L50.62 731.6L51.19 732.9L52.92 735.8L55.62 739L56.58 739.8L57.73 740.4L58.69 740.8L59.65 741L60.23 740.9L61 740.4L61.96 739.4L62.54 738.6L63.31 735.2L64.08 729.7L65.42 717.1L66.19 707.5L68.31 669.2L70.23 620.8L71.38 600.8L71.77 596.4L71.96 595.3L72.15 595L72.54 597.1L72.92 601.9L74.27 626.2L76 671L77.54 716.3L79.08 750.1L80.04 764.4L80.81 771.7L81.58 777.4L82.15 780.4L82.92 783.2L83.5 784.7L83.88 785L84.27 784.8L84.65 784.2L85.42 782.4L86 778.5L87.15 765.2L88.31 747.6L91.77 682.1L92.73 669.2L93.12 666.3L93.31 666L93.5 666.8L93.88 671L95.42 696L96.77 723.4L98.12 758.3L99.08 773.7L99.65 780.7L100.23 785.3L101.58 789.9L102.15 790.8L102.73 791.1L103.5 791.1L104.46 790.5L104.65 791.4L105.42 791.2L107.15 792.1L109.65 791.2L110.04 790.6L110.23 789.7L110.62 786.6L111 780.6L111.58 766.6L114.46 673L115.04 660.8L115.23 659L115.42 658.6L115.81 662L116.38 675.5L118.88 756.7L119.65 777.3L120.42 788.5L120.81 790.7L121.38 792L121.96 792.3L122.73 792.5L127.73 792.2L130.42 792.5L132.73 792L134.65 792.4L135.42 792.1L136.58 791.2L137.15 791L139.08 792.3L140.81 792.5L141.77 792.4L142.15 792L142.35 791.6L142.92 787.9L143.31 782.9L145.81 733.3L146.19 727.8L146.38 726.3L146.58 726L146.96 728.6L147.35 734.6L149.27 774L150.04 786.6L150.42 790L150.81 791.5L151 791.7L151.38 791.5L151.96 790.5L152.54 787.1L153.12 778.6L156 704.2L156.38 697.2L156.58 695.3L156.77 694.7L157.15 697.5L157.54 704.6L160.23 776.9L160.81 785.7L161.19 787.6L161.38 787.6L161.58 787.1L162.92 781.1L163.31 780L163.5 779.9L164.08 781.6L166 791L166.38 791.9L166.77 792.3L169.46 792.5L172.92 792.3L173.5 792.1L174.65 791.2L175.23 791L175.81 791.2L177.15 792.3L178.5 792.4L179.46 792.1L180.62 790.9L181.19 790.6L181.58 790.7L183.12 792.1L183.69 792.1L184.85 791.4L185.42 791.3L186.96 792.2L187.92 792.4L190.42 791.8L192.54 792.4L194.85 792.2L197.92 792.5L198.88 792.1L200.04 791.1L200.62 790.9L201.19 791.2L202.15 792L202.73 792.1L203.31 791.9L204.46 790.9L204.85 790.8L205.42 791.1L206.38 792L207.15 792.4L211.38 792.5L212.15 792.3L212.54 791.3L212.73 790.3L213.31 783.5L215.62 734.9L216.19 727.4L216.38 727L216.58 727.9L216.96 732.9L219.08 775.4L219.27 777.4L219.46 777.9L219.65 776.8L220.23 764.2L222.15 696.6L222.54 688.7L222.73 687.8L223.12 692.6L224.46 727.7L225.42 741.2L225.62 742.2L225.81 742.1L226 740.8L227.15 724.2L227.35 723.7L227.73 726.8L230.23 781.5L230.62 787.5L231.19 791.6L231.38 792.1L231.77 792.3L233.12 792.2L234.65 792.3L235.04 791.7L235.42 789.2L236.19 773.9L238.31 708.6L238.69 702.1L238.88 701.5L239.08 702.8L239.46 710.3L241.77 780.8L242.15 787.8L242.54 791L242.92 791.9L244.27 791.6L246 792.3L246.96 792.5L251.19 792.4L251.77 792.1L252.92 791.1L253.5 790.8L254.65 791.3L254.85 791.1L255.04 790.2L255.23 788.1L255.81 770.2L257.92 637.3L258.31 623L258.5 621.7L258.69 624.9L259.08 641.7L260.81 752.7L261.38 779.9L261.58 785L261.96 789.8L262.35 791L263.5 792.1L264.46 792.4L266 792.2L269.46 792.4L270.23 792.1L271.58 790.5L271.96 790.3L272.54 790.6L273.69 791.9L274.27 792.2L274.85 792.1L276.19 791.1L276.58 791L276.96 791.1L278.69 792.3L281 792L282.92 792.3L283.69 792L284.85 790.6L285.42 790.3L285.81 790.5L287.15 792.1L287.92 792.4L288.69 792.2L290.04 791.3L290.62 791.1L292.35 792.2L293.31 792.3L295.42 790.7L296 790.9L297.35 792.2L298.12 792.4L306.38 792.5L307.15 792.2L307.73 790.7L308.12 788L310.62 755.8L311.19 750.6L311.38 749.8L311.58 749.7L311.96 751.6L312.35 755.5L314.85 787L315.42 790.8L315.81 791.8L316.19 792.1L317.54 792.3L319.65 791.6L321.77 792.4L325.81 792.4L326.58 792L327.92 790.3L328.5 790.1L328.88 790.3L330.23 792L331.19 792.4L333.5 791.6L335.23 792.2L335.81 792.1L337.35 790.8L337.73 790.6L338.31 790.8L339.65 792.2L340.42 792.4L345.62 792.5L348.12 791.6L350.23 792.4L354.46 792.5L355.62 792.1L356.96 790.6L357.54 790.3L358.12 790.7L359.27 792L359.85 792.3L361.96 791.7L363.88 792.4L364.85 792.5L374.08 792.5L375.04 792.3L375.42 791.8L375.81 790.1L376.38 782.6L378.69 725.5L379.08 718.3L379.27 716.4L379.46 716L379.85 719.6L380.23 727.5L382.35 781.2L382.73 787.6L383.31 791.8L383.5 792.2L383.88 792.4L386 792.3L388.5 792.5L389.46 792.4L391.19 791.7L393.5 792.2L395.42 791.5L397.15 792.3L397.92 792.4L398.88 792.2L400.62 791.3L402.35 792L402.73 791L402.92 789.3L403.31 781L405.23 695.8L405.62 685.1L405.81 684.2L406.19 692.3L407.92 770.2L408.5 785.6L408.69 786.2L409.08 781.6L411 734.8L411.38 729.3L411.58 728.8L411.77 730L412.15 736.4L414.08 782.5L414.65 790.1L414.85 791.1L415.23 792L416.19 792.4L421.58 792.5L421.96 792.1L422.15 791.6L422.54 788.6L422.92 782.3L424.85 735.7L425.23 730.1L425.42 729.6L425.62 730.8L426 737.2L427.92 782L428.5 788.9L428.69 789.9L429.08 790.7L429.85 791.7L430.62 792.3L431.77 792.5L435.62 792.4L436 791.6L436.19 790.1L436.58 781.7L438.5 672.1L438.88 657.2L439.08 655.8L439.27 659.1L439.65 676.2L441.19 768.2L441.58 782.6L441.77 785.1L441.96 784.4L442.35 775.7L444.08 713.1L444.46 704.6L444.65 703.8L444.85 705.7L445.23 715.7L446.77 771.8L447.35 786.7L447.73 790.5L448.12 791.4L449.85 792.3L450.62 792.4L451 791.4L451.19 789.8L451.58 781.5L451.96 766.1L453.5 688.5L453.88 676.3L454.08 675.1L454.27 677.8L454.65 692L456.38 777.6L456.77 788.1L457.15 791.8L457.35 792.3L457.73 792.5L459.46 792.4L461.38 791.6L463.88 792.4L466.58 792.3L468.31 792.4L469.46 792.1L471 790.9L471.58 790.9L472.73 792L473.31 792.2L474.08 792L474.46 791.4L474.85 788.6L475.23 779.8L477.15 685L477.54 672.8L477.73 671.7L477.92 674.6L478.31 689.3L480.04 776.2L480.42 785L480.62 785.6L481.19 776.1L482.92 728.1L483.31 721.6L483.5 721L483.69 722.4L484.08 730L486 782L486.38 787.9L486.58 789.4L486.96 790.8L487.73 791.7L488.31 792.1L488.88 792.2L490.42 791.8L492.92 792.5L493.69 792.5L494.08 792.3L494.46 791.3L494.85 788.4L495.23 783.2L497.15 749.3L497.54 745.4L497.73 745L497.92 745.8L498.31 750.4L500.23 783.7L500.62 788.3L500.81 789.8L501.19 791.2L502.15 792L503.31 792.4L505.42 791.8L507.35 792.4L508.31 792.4L510.62 791.1L511.19 791.3L512.35 792.1L513.12 792.4L518.12 792.5L520.62 792.2L522.73 792.3L523.12 791.7L523.5 787.3L523.88 772.7L525.62 642.9L526 624L526.19 622.4L526.38 627L526.77 649.7L528.31 766.7L528.69 783.6L528.88 786.9L529.08 787.1L529.46 781.8L531.38 735.9L531.77 730.4L531.96 729.9L532.15 731L532.54 737.4L534.46 783.1L534.85 788.9L535.23 791.5L535.42 792L535.81 792.3L537.15 792.3L537.92 791.7L539.08 789.9L539.65 789.6L540.04 789.9L541.38 791.9L542.15 792.3L544.08 792L546.38 792.5L548.69 792.3L551.19 792.5L551.96 792.3L552.35 791.7L552.73 789L553.12 780.3L555.04 687.8L555.42 676L555.62 675L556 683.8L557.54 759.3L558.12 778.6L558.31 779.5L558.69 772.6L560.42 709.3L560.81 701L561 700.5L561.58 713.5L563.12 772.1L563.69 787.5L564.08 791.3L564.46 792.3L565.23 792.5L567.15 792.5L567.54 792.2L567.73 791.6L568.12 787L568.5 774L570.23 671.9L570.62 656.9L570.81 655.4L571 658.6L571.38 675.6L572.92 768.1L573.31 784L573.69 790.8L573.88 791.9L574.08 792.3L574.46 792.5L579.85 792.5L582.15 792.1L584.27 792.4L585.23 792.2L586.58 790.8L587.15 790.5L587.54 790.7L589.08 792.2L590.62 792.5L591 792L591.38 787.9L591.77 773.6L593.5 640.2L593.88 620.1L594.08 618.1L594.27 622.6L594.65 645.8L596 752.3L596.58 777.8L596.77 778.5L596.96 776.4L598.69 734.8L599.08 728.9L599.27 728.1L599.46 729L599.85 734.8L601.96 785.1L602.35 789.6L602.73 791.1L603.12 791.1L604.08 789.6L604.65 789.2L605.04 789.5L606.38 791.8L607.35 792.4L608.5 792.3L610.23 791.3L610.81 791.5L612.15 792.3L613.5 792.4L614.27 792.1L615.62 790.5L616 790.3L616.58 790.6L617.54 791.7L618.12 792.1L618.88 792L620.04 790.9L620.62 790.7L622.54 792.1L623.12 792.1L624.65 791.4L626.19 792.2L626.77 792.3L627.54 791.9L629.08 789.8L630.23 790L630.62 788.8L631 785.6L633.12 755.7L633.5 752.6L633.69 752.3L633.88 753L634.27 756.7L636.38 786.6L636.77 789.5L637.15 790.4L637.92 789.9L638.31 789.8L638.69 790.1L640.04 792L640.62 792.4L641.58 792.5L646 792.5L646.96 792.3L647.73 791.7L648.88 789.9L649.27 789.6L649.65 789.7L651 791.7L651.58 792L651.96 791.8L653.12 790.7L653.5 790.5L653.88 790.6L655.42 791.9L657.35 791.4L658.88 792.2L659.65 792.4L660.81 792.1L662.35 790.5L662.73 790.5L663.5 790.9L663.69 790.5L663.88 789.1L664.08 786.2L664.46 773.8L666.19 678L666.58 664.3L666.77 663L666.96 666.1L667.35 682.2L669.08 777.3L669.46 788.1L669.85 791.4L670.04 791.6L670.23 791.5L671.19 790.2L671.77 790L672.15 790.3L673.31 791.9L674.08 792.4L679.65 792.4L680.42 792.2L681.77 791.3L682.54 791L682.92 789.7L683.5 781.3L685.42 723.6L685.81 715.9L686 715L686.19 716.2L686.58 724.1L688.5 782.9L688.88 789L689.27 791L689.46 791L689.65 790.8L690.62 789.3L691 789.2L691.38 789.6L692.54 791.7L693.31 792.3L694.46 792.4L696.58 792.1L698.5 792.4L699.85 792.4L701.77 792L703.5 791.9L704.08 791.3L705.04 789.6L705.62 789.3L706 789.6L707.15 791.6L707.92 792.1L709.46 791.7L711.77 792.4L716.38 792.4L717.15 792.1L718.5 790.5L719.08 790.2L719.46 790.4L721 792.2L721.77 792.4L722.73 792.5L723.88 792.3L725.81 791.5L727.54 792L728.12 791.7L729.46 790.1L730.42 790.3L730.62 789.7L730.81 787.8L731 783.7L731.38 766.8L732.92 656.1L733.31 634.9L733.5 630.8L733.69 632.4L734.08 650.4L735.81 772.6L736.19 786.8L736.58 791.2L736.77 791.6L736.96 791.7L737.92 791.2L738.5 791.1L740.04 792.1L740.42 791.3L740.62 789.9L741.19 778.3L742.92 716.2L743.31 706.3L743.5 704.5L743.69 705.4L744.08 714L746 781.6L746.58 790.9L746.77 791.9L747.15 792.3L748.88 791.9L749.85 791.9L750.23 791.4L750.62 789.1L751.19 780.5L752.92 743.2L753.5 735.6L753.69 735.7L754.08 739.8L755.81 775.9L756 777.5L756.19 776.9L756.77 761.3L758.12 699.8L758.69 683.8L758.88 684.4L759.27 694.8L761.19 778.2L761.58 786.4L761.96 789.2L763.5 791.7L764.08 792.2L764.65 792.4L765.81 792.4L766.58 792L768.12 789.4L768.5 789.1L768.88 789.3L770.04 791.3L770.62 791.9L772.35 792L774.08 792.4L775.04 792.4L776 791.8L777.35 789.3L777.73 788.9L778.12 789.1L779.08 790.6L779.46 790.9L779.85 790.8L781 789.3L781.38 789.3L782.92 791.8L783.69 792.4"/>
<path class="tr" stroke="#00a800" d="M5.23 771L5.62 771L5.81 770.8L6.77 765L7.35 762.9L7.73 762.5L10.04 762.5L10.23 762.3L10.81 760.9L11.77 757.2L12.35 756L13.88 754.6L15.04 754L15.81 754.1L17.15 754.9L17.73 755L18.12 754.7L19.08 752.7L19.65 752L20.23 752.4L21.58 755.2L22.15 756L22.54 755.9L23.69 755L24.08 755.2L24.46 756.2L25.62 761L26 761.9L26.38 761.9L26.77 761.1L28.31 755.7L28.69 755.1L29.08 755L30.04 755.4L31 756.3L32.35 761.1L32.92 762.4L36.19 762.6L37.54 762.9L37.92 763.2L38.5 764.7L39.65 768.8L40.23 769.9L40.62 769.9L41 769.2L42.35 765.4L42.73 765L42.92 765.1L43.31 766.5L44.27 771.8L44.65 772.5L47.15 772.5L49.46 773.9L50.23 774L50.81 773.6L51.38 772.9L53.31 769.6L54.85 765.8L56 761.4L56.77 756.1L57.73 747.1L58.5 737.3L60.04 713.4L62.73 668L63.69 659L64.08 656.7L64.27 656.2L64.46 656L64.85 657.2L65.23 659.7L66 666L66.58 672.6L67.73 688.8L71 743.8L71.58 750.3L72.92 761L73.31 762.9L73.69 763.9L73.88 764L74.27 763.8L75.04 762.6L76.58 758.6L78.12 751.4L79.27 747L79.65 746.1L79.85 746L80.23 746.4L81.19 749.5L81.96 753.5L84.65 780.8L85.23 785.4L85.81 787.2L86.77 789.3L87.54 790.4L88.31 791L91.38 791.5L96 791.5L96.19 792.5L96.77 792.5L98.12 792.2L99.46 790.7L100.04 790.4L100.62 790.8L101.77 792L102.54 792.3L103.31 791.8L104.46 790.3L104.85 790L105.23 790.1L106.58 791.8L107.15 792.1L108.69 791.9L110.62 792.4L112.35 792.5L113.12 792.2L114.85 791.2L116.58 792L118.5 791.7L120.81 792.5L121.77 792.3L122.15 791.8L122.73 788.7L123.31 780.5L125.62 727.9L126.38 714.2L126.77 711.1L127.15 709.9L129.85 707.9L130.23 708.7L130.42 709.9L131 717.9L133.88 784.5L134.46 790.7L134.65 791.5L135.04 792.3L135.62 792.5L136.38 792.3L137.92 791.3L138.5 791.1L140.04 792.1L140.81 792.4L145.42 792.4L146.38 792.1L147.54 791.1L148.12 790.8L148.69 791.1L149.85 792.1L150.62 792.3L151.38 791.9L152.54 790.2L153.12 789.8L153.69 790.2L154.85 791.9L155.62 792.3L156.58 792L157.73 790.5L158.31 790L158.69 790.1L159.85 791.1L161.19 791.3L162.73 792.2L163.88 792.5L169.27 792.4L170.04 792L171.19 790.6L171.77 790.4L172.15 790.5L173.5 792L174.27 792.3L175.04 791.8L176.19 790.1L176.58 789.8L177.15 790.1L178.31 791.8L178.88 792.1L179.46 792L180.62 790.9L181.19 790.6L181.77 790.9L182.92 792.1L183.5 792.3L184.27 792.3L185.81 791.7L187.15 792L187.35 791.9L187.73 790.5L187.92 788.7L188.31 781.8L190.23 724.8L190.62 717.7L190.81 717L191 718.4L191.38 726.5L193.31 783.2L193.69 789.1L194.08 791L194.27 791.1L195.04 790.6L195.42 790.5L197.35 792.3L198.12 792.5L199.27 792.4L199.85 792L200.23 790.3L200.62 785.7L201 778.2L202.73 736.9L203.12 731.4L203.31 730.8L203.5 731.8L203.88 737.8L206 785.2L206.38 789.6L206.77 791.2L206.96 791.4L207.15 791.3L207.35 790.7L207.92 785L210.04 740.9L210.42 736.2L210.62 735.8L210.81 737L211.19 742.7L213.12 784L213.5 789.3L213.69 790.8L214.08 792.1L214.65 792.4L216.19 792.2L216.77 791.8L217.92 790.3L218.31 790.1L218.88 790.5L220.04 792L220.81 792.3L221.58 792.3L223.12 791.7L225.62 792.4L230.42 792.5L232.92 792.3L234.85 792.4L235.81 792L237.15 790.2L237.73 789.9L238.12 790.1L239.27 791.8L239.85 792.1L240.23 790.8L240.42 789L240.81 781.6L242.73 715.8L243.12 707.6L243.31 706.8L243.5 708.6L243.88 718.2L245.81 783.3L246.19 789.5L246.58 791.3L246.77 791.3L247.73 790.3L248.12 790.2L248.5 790.4L249.85 792.1L250.81 792.4L251.58 792L252.92 790.3L253.31 790.1L253.88 790.4L254.85 791.7L255.62 792.3L260.23 792.5L261.19 792.3L262.92 791.5L264.27 791.9L264.85 791.9L266.19 790.4L266.77 790.1L267.15 790.3L268.5 792L269.65 792.4L270.42 792.3L272.15 791.3L272.73 791.4L273.88 792.1L274.46 792.1L275.04 791.6L276.19 789.9L276.58 789.7L277.15 790.1L278.31 791.9L279.08 792.3L279.85 792.3L281.38 791.7L283.5 792.1L285.42 790.7L286 791L287.54 792.3L289.27 792.5L291.58 792.2L293.69 792.3L294.46 791.8L296 789.7L296.38 789.8L297.35 790.8L297.92 791.1L299.08 789.9L299.46 789.7L300.04 790.1L301 791.6L301.58 792.2L302.35 792.4L303.12 792.2L303.5 791.3L303.69 790L304.08 785L306.19 730.8L306.58 725L306.77 724.6L306.96 726.1L307.35 733.3L309.08 779.4L309.65 789.3L309.85 790.7L310.23 791.8L312.73 791.8L313.12 791.3L313.5 788.6L313.88 780.8L315.81 705.6L316.19 695.9L316.38 695L316.77 701.8L317.92 743.5L318.5 753.5L318.69 753.9L318.88 752.8L319.27 745.8L320.42 710.9L320.62 707.9L320.81 707.3L321 709.1L323.31 783.5L323.69 789.8L323.88 791.3L324.27 792.2L326 792.2L327.35 791.3L327.92 791.1L329.85 792.3L331.96 792.5L334.65 791.8L335.04 791.1L335.42 788.5L335.81 782.9L337.92 734.9L338.31 729.8L338.5 729.3L338.88 732.8L340.23 760L340.62 764L340.81 764.9L341 765.2L341.38 763.6L341.58 761.7L342.73 740.5L343.12 735.9L343.31 735.4L343.69 738.4L344.46 751.5L344.85 755.9L345.04 757L345.23 757.5L345.42 757.6L345.81 756.5L346.19 753.5L347.35 732.6L347.54 730.5L347.73 729.8L348.12 732.9L349.27 754.6L349.65 757.6L349.85 757.8L350.04 757.5L350.62 752.8L351.96 724.7L352.15 722.5L352.35 721.9L352.73 725.8L353.69 745.8L354.08 749.6L354.27 750.1L354.46 749.9L354.85 747.9L355.23 743.5L356.38 716.6L356.58 714L356.77 713.4L356.96 714.8L357.35 722.5L359.46 784.1L359.85 789.8L360.04 791.2L360.42 792.3L361.38 792.3L361.96 791.9L362.35 790.2L362.54 788.4L363.12 777.7L364.85 733.9L365.23 728.1L365.42 727.5L365.62 728.8L366 735.6L367.92 783.7L368.31 789.5L368.5 791L368.88 792.3L369.27 792.5L370.04 792.3L370.62 791.7L371 789.7L371.19 787.7L371.77 777.1L373.5 736.1L373.88 730.8L374.08 730.2L374.27 731.3L374.65 737.4L376.77 784.1L377.15 788.6L377.54 790.6L377.92 791.5L378.31 792L378.88 792.3L379.65 792.4L380.23 792.2L381 791.4L381.96 789.5L382.54 789L383.12 789.6L384.27 791.8L384.85 792.2L385.62 792.1L387.15 791.1L388.69 791.6L390.23 791.4L391.58 792.1L392.15 792.2L392.92 791.7L394.08 789.7L394.65 789.2L395.23 789.7L396.38 791.8L397.15 792.3L397.92 792.1L399.08 791.1L399.65 790.9L401.38 792.2L402.35 792.3L404.46 790.8L405.04 791L406.58 792.3L407.92 792.4L408.69 792.1L410.04 790.6L410.42 790.3L411 790.5L412.15 791.9L412.54 792.1L412.92 791L413.12 789.3L413.5 781.5L415.42 704.7L415.81 694.9L416 694L416.38 700.9L417.54 740.6L418.12 750.2L418.31 751.5L418.5 751.4L418.69 749.7L419.85 723.9L420.04 721.7L420.23 721.3L420.62 726.4L422.35 774.5L423.12 789.5L423.31 791L423.69 792.2L424.08 792.3L425.81 792.3L426.77 791.6L427.15 790.7L427.54 786.1L427.73 780.5L428.31 747.9L429.65 649.5L430.04 631.2L430.23 629.5L430.62 642.7L432.15 753.5L432.73 782.1L432.92 786L433.12 787.9L433.31 788.5L434.08 789.1L435.23 791.5L436 792.3L436.77 792.5L437.73 792.3L439.27 790.9L439.85 790.7L441.38 792L441.96 792.3L442.54 792.2L444.08 791.6L446 792.2L446.58 791.9L447.73 790.2L448.31 789.8L448.69 790L449.85 791.4L450.23 791.5L450.81 791L451.77 789.1L452.15 788.8L452.73 789.2L453.69 791.2L454.27 792L455.23 792.4L455.62 791.9L456 789.1L456.38 781.4L458.31 708.8L458.69 699.8L458.88 699L459.08 701.1L459.46 711.9L461.19 778.1L461.58 787.4L461.77 790L462.15 792.1L462.35 792.3L462.92 792.5L464.08 792.5L464.46 792.2L464.85 790.6L465.04 788.6L465.62 776.6L467.35 723.7L467.73 717.1L467.92 716.7L468.12 718.4L468.5 727L470.42 783.6L470.81 789.6L471.19 792L471.38 792.3L471.77 792.5L474.08 792.3L474.85 791.7L476 790.1L476.38 790L476.96 790.4L478.12 791.9L478.88 792.1L479.46 791.6L480.62 789.2L481.19 788.6L481.77 789.2L482.92 791.6L483.69 792.3L487.73 792.3L488.5 791.9L489.08 791L489.46 789.1L489.65 787.1L490.04 780.2L491.96 727.1L492.35 720.6L492.54 720L492.92 724.7L494.65 773.3L495.04 782.3L495.42 787.7L495.81 789.5L496.58 789.9L498.12 792L498.88 792.2L499.27 792L499.65 789.9L499.85 786.8L500.23 773.6L501.96 668.7L502.35 653.3L502.54 651.8L502.73 655.3L503.12 673L504.85 776.9L505.23 788.1L505.42 790.4L505.81 791.8L507.35 792.4L508.12 792.3L508.5 790.8L508.69 789L509.27 776.4L511 719L511.38 711.2L511.58 710.5L511.77 712.2L512.15 721.3L514.08 783.4L514.46 789.7L514.85 791.8L515.23 792.2L516.96 792.4L519.27 792.3L521.19 792.5L522.15 792.4L524.08 791.8L525.81 792.4L526.96 792.4L527.54 792.3L528.12 791.8L529.27 789.8L529.65 789.4L530.23 789.6L531.19 791.2L531.77 791.6L532.35 791.3L533.31 790L534.08 789.3L534.46 787L534.85 780.1L536.77 711.6L537.15 702.3L537.35 701.2L537.54 702.8L537.92 712.5L539.85 783L540.23 789.8L540.42 791.3L540.81 792.3L541.77 792.4L542.35 792L542.73 790.2L542.92 788.1L543.5 775.2L545.23 721.4L545.62 714.4L545.81 713.6L546 715.1L546.38 723L548.31 781.7L548.69 788.6L548.88 790.4L549.27 791.9L549.65 792.3L550.42 792.5L555.04 792.2L555.81 791.8L556.77 790.8L557.35 790.5L557.92 790.8L559.08 792L559.85 792.4L565.81 792.5L566.77 792.1L568.31 790.8L568.69 790.8L569.85 791.4L570.23 791.3L570.62 790.9L571.58 789L571.96 788.6L572.54 789.1L573.69 791.6L574.46 792.3L575.04 792.4L575.62 792.2L577.35 790.9L577.92 791.1L578.88 791.9L579.46 792.2L580.04 792.2L580.62 791.7L581 790.6L581.19 789.4L581.58 785.2L583.69 748.3L584.08 744.4L584.27 744L584.46 744.9L584.85 749.6L586.96 786.4L587.35 789.9L587.73 791.4L588.31 792L589.27 792.3L590.04 792.2L591.19 791.4L591.77 791.2L593.12 791.9L593.69 792L594.46 791L595.62 788.3L596 788L596.38 788.4L597.35 790.6L597.92 791L598.5 790.2L599.46 787.8L599.85 787.6L600.42 788.4L601.38 791L601.58 791.3L601.77 791.3L602.15 789.2L602.54 781.3L604.46 697.2L604.85 686L605.04 684.8L605.23 687.1L605.62 699.6L607.35 777.4L607.73 787.5L607.92 790L608.12 791.1L608.31 791.5L608.69 791L609.65 788.3L610.23 787.4L610.42 787.4L610.81 788L611.96 791.1L612.54 791.7L613.12 791.2L614.08 789.4L614.46 789.1L615.04 789.4L616.38 791.8L617.35 792.4L618.12 792.3L619.85 791.7L621.96 792.2L623.88 791L625.23 791.7L625.42 791.4L625.62 790.6L626.19 781.5L628.12 712.4L628.5 703.1L628.69 702L628.88 703.5L629.27 713.1L631.19 782.9L631.58 789.6L631.96 791.8L632.15 791.9L632.54 791.7L633.69 789.7L634.27 789.3L634.65 789.6L636 791.8L636.38 792.2L636.96 792.2L637.73 791.7L639.08 789.6L639.85 789.7L640.04 789.5L640.23 788.9L640.81 780.8L642.73 720.2L643.12 712.3L643.31 711.4L643.5 712.8L643.88 721.3L645.81 783L646.19 789.5L646.58 791.9L646.77 792.3L647.35 792.4L648.12 792.3L648.5 791.9L648.88 790.1L649.08 788.3L649.65 778L651.38 735.7L651.77 729.3L651.96 728.2L652.15 728.8L652.35 730.9L652.73 738L654.65 785.6L655.04 790.2L655.42 791.9L656 792.3L657.92 791.9L660.04 792.4L661.19 792.2L661.96 791.2L663.31 787.5L663.69 787.2L664.08 787.7L665.23 791L665.81 791.9L666.58 792.2L670.04 792.4L670.62 792.1L671 791.5L672.35 787.8L673.12 786.3L673.5 784.2L673.88 779.3L675.81 739.5L676.19 734.3L676.38 733.8L676.77 737.1L677.92 757.5L678.31 760.8L678.69 761.9L678.88 761.8L679.08 761L679.27 759.4L680.42 740.9L680.62 739L680.81 738.5L681 739.2L681.58 747.1L683.31 780.5L683.88 788.5L684.27 790.7L684.85 792L685.62 792.4L687.54 792.5L687.92 791.8L688.31 787.4L688.69 773.6L690.42 656.5L690.81 639.1L691 637.5L691.19 641.3L691.58 661.4L693.31 777.3L693.69 788.8L693.88 791.1L694.08 792L694.27 792.3L694.85 792.3L696.38 791.8L696.77 791.3L697.15 788.6L697.35 785.6L697.92 769.2L699.46 712L699.85 702.8L700.04 701.7L700.23 703.2L700.62 712.6L702.54 781.9L702.92 789L703.31 791.5L703.5 791.8L703.88 791.8L705.23 789.8L705.81 789.4L706.19 789.7L707.54 791.8L707.92 792L708.31 792L709.85 790.8L710.62 790.7L711 789.6L711.58 781.1L713.5 719.5L713.88 711.2L714.08 710.1L714.46 714.7L715.81 756L716.38 766.5L716.58 766.9L716.96 762.7L718.31 723.9L718.69 716.4L718.88 715.5L719.08 716.9L719.46 725L720.62 759.7L721.19 768.3L721.38 768.4L721.58 767.1L721.96 760.8L723.31 727.4L723.5 725L723.69 724.4L723.88 725.7L724.27 732.9L726.19 783.6L726.58 789.3L726.96 791.4L727.15 791.6L727.35 791.5L728.31 790.3L728.88 790.1L730.62 792.1L731.38 792.4L732.15 792.4L732.92 791.8L734.08 789.8L734.65 789.3L735.23 789.7L736.38 791.7L737.15 792.3L737.73 792.3L738.31 791.9L739.65 789.9L740.23 789.5L741.96 791.5L743.31 791.7L744.65 792.2L745.04 792L745.42 790.6L745.62 788.6L746 780L747.92 701L748.31 692.1L748.5 691.8L749.08 706.7L750.81 778L751.19 787.6L751.38 790.2L751.77 792.1L752.15 792.3L753.69 791.8L755.23 792L755.62 791.9L756.19 791.2L757.35 788.4L757.73 787.9L757.92 787.9L758.31 788.4L759.46 791.3L760.23 792.2L760.62 792.3L761.19 792.1L762.73 790.6L763.31 790.7L764.46 791.7L764.65 791.6L764.85 790.9L765.23 786.6L765.62 776.8L767.35 712.3L767.73 702.7L767.92 701.3L768.12 702.8L768.5 712.5L770.23 775.6L770.62 784.4L771 787.8L771.19 788.1L771.77 788L771.96 788.1L773.5 791.6L774.27 792.3L775.62 792.5L777.73 792.3L778.12 791.6L778.31 790.6L778.88 783L780.81 735.3L781.19 728.4L781.38 727L781.58 727.4L781.77 729.4L782.15 736.9L783.69 777.5"/>
<path class="tr" stroke="#ff0000" d="M5.23 792.5L7.35 792.4L9.65 792L10.42 791.5L11.19 790.6L12.73 788.3L15.23 782.7L16 781.7L17.73 780L18.5 778.9L19.08 777.3L20.62 771.4L22.54 767.2L23.5 766L25.81 765.2L26.38 764.8L28.31 761.1L29.65 760.3L30.81 760L31.38 760.4L32.54 762.2L33.12 762.5L33.69 761.2L34.85 756L35.23 755.1L35.42 755L36 755.4L37.15 757.2L37.73 757.5L38.12 757L39.08 755.1L39.65 755.1L40.42 755.9L42.35 758.6L42.92 759L43.31 758.9L44.08 756.9L45.42 751.2L46.19 748.9L47.73 746.6L51 743.2L51.77 743L52.35 743.5L53.88 746.1L54.27 747.4L55.62 754.5L56.96 758.2L57.35 758.8L57.73 759L57.92 758.6L58.31 756.3L59.65 744.8L61 737.5L61.58 735.5L61.96 735L62.35 735.6L62.73 737.3L63.88 745.3L65.62 762.2L66.58 769L67.54 774.6L68.5 778.2L69.27 780.2L69.85 781L70.42 780.8L72.15 779L72.54 779L73.12 779.5L75.23 782.9L76.77 786.8L77.54 788L78.69 787.7L79.85 786.9L81 785.7L81.96 783.6L82.92 780L83.69 775.7L84.27 767.4L85.23 747.4L86.38 730.1L86.96 723.4L87.35 721.2L87.54 721L88.12 722.1L88.69 724.6L89.46 729.1L89.85 732.8L91.58 758.1L92.54 778.1L93.12 785.2L93.88 788L94.46 789L94.85 788.8L95.81 786.4L96.19 786L96.58 786.6L97.54 789.7L98.5 790.7L98.88 790.8L99.27 790.6L99.85 788.9L100.04 788.8L100.62 782.7L103.69 725.7L104.46 715.9L104.65 715L104.85 714.6L105.04 714.7L105.81 716.9L106.38 718.1L107.15 718.7L107.73 718.7L108.31 717.8L109.08 714.8L109.46 713.9L109.65 714.2L109.85 715.1L110.42 722L112.92 771.4L113.69 784.1L114.27 789.7L114.65 791.5L115.04 792.2L116 792.5L116.77 792.1L117.15 791.3L117.54 789.4L118.31 782.1L120.81 750.1L121.19 746.8L121.58 745.6L121.96 746.8L122.54 751.9L124.85 782.4L125.62 789.5L126 790.9L126.38 791.3L127.35 790.9L127.73 790.9L129.08 792.1L130.04 792.4L130.62 792.3L131 791.5L131.58 787.3L131.96 781.6L134.46 726.7L134.85 721.1L135.04 719.7L135.23 719.5L135.62 722.5L136 729L138.5 783.1L138.88 788.2L139.46 791.7L139.85 792.2L140.23 792.2L141.77 790.7L142.15 790.5L142.73 790.8L143.88 792L144.65 792.3L145.42 792.2L146.58 791.4L147.15 791.3L148.88 792.2L149.85 792.5L156.19 792.4L157.15 792.2L157.54 791.7L158.12 788.5L158.5 784.1L160.81 744.5L161.19 739.4L161.38 738.1L161.58 737.7L161.77 738.3L162.15 742.3L164.27 779.4L165.04 788.7L165.23 789.8L165.62 790.6L166.58 789.7L166.96 789.7L168.5 791.7L168.88 791.9L169.46 791.7L170.42 790.9L170.81 790L171.19 787.8L171.58 783.5L172.35 769.1L174.46 719.4L175.04 709.6L175.23 708L175.42 707.6L175.62 708.3L176.96 725.3L177.35 727.1L177.54 727.4L177.92 727L178.5 725.1L179.08 720.7L180.23 701.6L180.62 697.6L180.81 697.4L181.19 700.7L182.54 725.8L183.12 730.9L183.69 733.1L184.08 733.5L184.27 733.2L184.65 731L186.19 709.3L186.38 708.7L186.77 711L187.35 720.9L190.04 780.7L190.62 788.4L191 790.9L191.38 791.8L191.58 791.6L191.77 790.8L191.96 789L192.35 781.6L194.27 714L194.65 705.4L194.85 704.5L195.04 706.2L195.42 715.9L197.35 783.3L197.73 789.9L197.92 791.4L198.31 792.4L198.88 792.5L202.54 792.4L204.85 791.3L206.77 792.1L208.69 791.4L210.42 792.3L211.38 792.4L212.15 791.9L213.31 790.2L213.88 789.7L214.27 789.9L215.42 791.6L216 792.1L216.77 792.1L218.12 790.8L218.69 790.6L219.08 790.8L220.42 792.1L221.38 792.4L223.5 792L225.23 792.4L226 792.3L226.58 792.1L227.73 791L228.31 790.8L230.04 792.2L230.81 792.4L232.54 792.5L234.65 792.1L236.58 792.3L237.35 792L238.88 790.8L239.46 790.9L240.81 792.2L241.58 792.4L242.35 792.1L243.5 791.1L244.27 790.8L244.65 789.5L244.85 787.8L245.23 781.1L247.15 722.2L247.54 714.6L247.73 713.7L247.92 715.1L248.31 723.5L249.85 771.4L250.23 776.8L250.42 776.1L251 762.2L252.35 714.1L252.73 705.7L252.92 704.9L253.12 706.8L253.5 716.6L255.42 783.5L255.81 789.9L256.19 791.9L256.58 792.1L257.92 790.7L258.5 790.5L260.23 791.9L260.81 791.8L262.15 791.1L263.5 791.9L264.08 792.1L264.65 791.8L265.62 790.6L266.19 790.3L266.58 790.4L267.73 791.8L268.5 792.3L269.65 792.5L273.12 792.4L274.08 792.1L275.42 790.5L276 790.3L276.38 790.5L277.73 792.1L278.31 792.4L279.08 792.4L279.65 792.3L280.23 791.8L281.38 789.8L281.96 789.2L282.35 789.4L283.5 791.5L284.08 792.1L284.85 792.1L286 791.1L286.58 790.9L288.31 792L288.5 791.8L288.69 791L288.88 789.3L289.27 781.4L291.19 699.5L291.58 689L291.77 688L292.15 695.5L293.69 761.8L294.27 779L294.46 779.7L294.85 771.6L296.58 698.6L296.96 688.8L297.15 688.1L297.35 690.6L297.73 703L299.27 768.8L299.65 776.5L299.85 775.9L300.23 766.8L301.77 708.6L302.15 699.8L302.35 699.1L302.54 701.2L302.92 712L304.85 783.1L305.04 787.1L305.42 791L305.62 791.6L306.19 792.1L307.15 792.3L307.92 792.2L309.85 790.7L310.42 790.9L311.38 791.8L311.96 791.9L312.35 791.6L313.5 789.8L313.88 789.6L314.46 789.9L315.81 792L316.38 792.3L316.96 792.5L322.15 792.4L322.92 792.1L324.46 790.9L324.85 791L325.81 791.6L326 791.4L326.19 790.7L326.58 785.9L326.96 774.8L328.69 700.4L329.08 690.2L329.27 689.3L329.65 697L331 754L331.58 771.2L331.77 772.7L331.96 771.7L332.15 768.5L333.69 720L334.08 712.4L334.27 711.7L334.46 713.4L334.85 722.3L336.77 783.5L337.35 791.2L337.54 792L337.92 792.4L340.62 792.4L342.92 791.1L344.46 792L345.04 792.1L345.62 791.6L346.58 790.4L347.15 790.1L347.54 790.3L348.88 792L349.65 792.4L350.42 792.4L351.19 792.2L352.73 790.6L353.12 790.4L353.69 790.7L354.65 791.7L355.23 791.8L355.81 791.3L356.77 789.7L357.15 789.4L357.73 789.8L358.88 791.7L359.65 792.3L360.62 792.1L362.35 790.4L362.92 790.6L363.88 791.6L364.27 791.8L364.85 791.6L365.81 790.6L366.19 790.4L368.12 791.4L368.69 791.2L369.27 790.5L371 787.3L371.58 786.9L372.54 786.9L373.12 786.7L376.19 783.9L376.77 783.8L377.35 783.9L379.27 785.3L379.85 785.5L380.42 785.3L381.58 784.3L381.96 782.9L382.15 781.5L382.54 776.7L384.46 739.6L384.85 734.9L385.04 734.6L385.23 735.7L385.62 741.7L386.96 770.6L387.35 773.9L387.54 773.1L388.12 760.7L389.46 712.6L389.85 703.9L390.04 703.1L390.42 709.2L391.96 764.6L392.54 777L392.73 776.7L393.12 769.5L394.65 719L395.04 710.7L395.23 709.7L395.42 711L395.81 719.3L397.15 763.8L397.73 775.7L397.92 775.2L398.31 767L399.85 707.7L400.23 698L400.42 696.9L400.62 698.8L401 709.4L402.92 783.2L403.31 789.9L403.5 791.3L403.69 791.9L403.88 792L404.27 791.8L405.42 790.4L405.81 790.3L406.38 790.6L407.54 792L408.12 792.3L411.19 792.4L411.96 792.1L413.31 790.3L413.88 790L414.46 790.4L415.62 792L416.19 792.3L417.15 792.4L419.08 791.7L421 792.2L421.77 791.7L422.92 789.8L423.5 789.4L423.88 789.7L425.23 791.9L426 792.4L426.96 792.5L428.88 792.2L430.42 792.4L430.81 792.2L431 791.7L431.38 788.8L431.77 781.8L433.69 724.1L434.08 716.9L434.27 716.2L434.46 717.7L434.85 726L436.77 783.5L437.15 789.6L437.54 791.9L437.73 792.2L438.12 792.3L444.85 792.5L445.42 792.2L445.81 791.2L446.19 788.2L446.58 783L448.5 750.3L448.88 746.8L449.08 746.5L449.27 747.4L449.65 751.8L451.58 782.3L451.96 786.6L452.35 789L452.73 790.2L453.5 791.5L454.08 792.1L454.65 792.4L456 792.3L457.92 791.3L458.5 791.4L459.65 792.1L460.04 792L460.23 791.6L460.62 788.6L461 781.6L462.92 724.6L463.31 717.8L463.5 717.2L463.69 718.8L464.08 726.9L465.62 771.8L466.19 783.9L466.38 786.1L466.77 788L468.5 791.5L469.08 792L469.46 790.8L469.65 789L470.04 781.2L471.96 708.9L472.35 700.2L472.54 699.6L472.73 701.8L473.12 712.7L474.85 778.2L475.23 787.4L475.42 789.9L475.81 791.7L476.19 791.5L477.35 788.8L477.92 788.2L478.5 788.9L479.65 791.5L480.23 792.1L480.81 792.1L482.15 791.7L483.88 792.3L484.27 792.1L484.46 791.7L484.85 789.8L485.23 785.7L487.35 750.9L487.73 747.3L487.92 747L488.12 747.8L488.5 752.1L490.42 783.3L491 788.1L491.19 788.6L491.38 788.6L491.96 788.1L492.35 788.3L493.88 791.6L494.27 792L494.85 792.3L497.15 792.5L498.12 792.3L498.88 791.5L500.04 789.5L500.42 789.3L500.81 789.5L501.77 791.2L502.35 791.9L502.92 792L503.5 791L503.88 788.7L504.27 782.9L506.38 719L506.77 712.2L506.96 711.8L507.15 713.7L507.54 722.8L509.27 778.4L509.85 788.8L510.23 790.4L511.19 789.6L511.58 789.6L512.54 790.3L513.69 790.3L514.08 790.5L515.81 792.2L516.77 792.5L517.35 792.2L517.73 790.8L517.92 788.9L518.31 781.5L520.23 718L520.62 710.4L520.81 709.8L521 711.6L521.38 720.9L523.31 783.2L523.69 789.3L524.08 791.4L524.46 791.7L526.77 792.4L531.96 792.4L534.27 791.4L534.85 791.5L536.19 792.3L536.96 792.4L537.92 792L538.31 791.4L538.5 790.7L538.88 787.4L539.27 780.2L541.19 725.9L541.58 719.2L541.77 718.6L541.96 720.1L542.35 728.1L544.27 783L544.85 790.5L545.23 791.5L545.62 791.2L547.15 787.3L547.54 784.5L547.73 781.7L548.31 766.9L549.85 715L550.23 706.8L550.42 706L550.62 707.8L551 717.5L552.73 775.6L553.12 783.4L553.31 785.5L553.69 787.2L554.27 788.2L555.42 791.2L556 791.9L557.73 791.8L559.46 792.4L560.62 792.5L561.58 792.1L562.15 791L562.54 788.8L562.92 784.5L565.04 749.9L565.42 745.8L565.62 745.1L565.81 745.5L566 746.9L566.38 751.5L568.5 786.1L568.88 789.6L569.27 791.1L569.46 791.3L569.85 791.3L570.81 790.4L571.19 790.3L571.77 790.6L572.92 792L573.69 792.4L575.42 792.4L577.35 791.5L579.46 792.1L580.23 791.4L581.38 789L581.77 788.6L582.35 789L583.69 791.7L584.27 792.1L584.85 791.8L585.42 791.2L585.81 790.2L586.19 787.2L586.38 784.1L586.96 767.8L588.5 712.4L588.88 703.7L589.08 702.9L589.27 704.8L589.65 714.7L591.58 781.1L591.96 787.8L592.35 790.3L592.92 791.5L593.31 791.8L593.69 791.9L594.27 791.5L595.42 789.4L596 789.2L596.38 789.5L597.35 791.3L597.92 791.9L598.5 792L599.85 791.7L601.77 792.4L603.31 792.5L604.08 792.3L604.65 792L606 789.9L606.58 789.6L606.96 789.9L608.31 791.7L611 792L611.38 791.1L611.58 789.4L611.96 781.3L613.88 694L614.27 682.5L614.46 681.3L614.85 689.3L616.19 751.1L616.77 766.4L616.96 766.2L617.35 757.5L618.69 701.6L619.08 691.4L619.27 690.5L619.46 692.8L619.85 704.7L621.19 759.9L621.58 766.9L621.77 766.7L622.15 759.1L623.69 701.2L623.88 697.2L624.08 695.9L624.27 697.5L624.85 714.5L626.38 776.5L626.77 786.6L626.96 789.5L627.35 791.8L627.73 792.3L628.12 792.4L630.23 791.4L631.58 791.8L631.96 791.7L632.54 790.9L633.69 787.8L634.08 787.5L634.46 787.9L635.23 789.6L635.42 789.6L635.62 789L636 785.1L636.38 777.4L638.12 732.5L638.5 726.4L638.69 725.8L638.88 727L639.27 734L641.19 783.2L641.77 790L641.96 790.5L642.15 790.6L642.92 789.5L643.5 789.3L645.04 791.8L645.42 792.1L645.81 792.1L646.19 791.9L646.58 791.3L647.73 788.7L648.12 788.3L648.31 788.3L648.69 788.7L649.85 791.3L650.23 791.8L650.62 791.8L651.19 791.1L652.54 788.2L652.92 788.2L653.5 788.8L653.69 788.5L654.08 784.6L654.65 766.1L656.19 693.7L656.58 681.9L656.77 680.5L656.96 682.8L657.35 695.7L658.69 759.2L659.08 770.7L659.27 772.3L659.65 766.4L661.19 707.3L661.58 697.5L661.77 696.4L661.96 698.2L662.35 708.6L664.27 782.7L664.65 789.6L664.85 791.1L665.23 792.1L665.62 792.2L667.15 791.6L668.5 792.1L669.08 792L669.65 791.3L670.81 788.6L671.19 788.2L671.38 788.2L671.77 788.6L673.12 791.7L673.69 792.2L674.27 792.4L675.04 792.3L675.62 791.9L676.96 789.3L677.54 788.8L677.92 789.1L678.88 791L679.46 791.6L680.04 791.5L681 790.6L681.38 790.5L681.96 790.8L683.12 792L684.08 792.3L684.65 792L685.81 790.8L686.38 790.5L686.77 790.7L687.92 791.8L688.31 791.9L688.69 791.7L689.08 791L690.04 788.4L690.62 787.6L690.81 787.6L691.19 788.2L692.15 790.8L692.35 791L692.54 790.8L692.92 788.2L693.31 781.4L695.23 725.9L695.62 719.6L695.81 719.2L696 720.9L696.38 729.1L698.12 779.2L698.5 787.1L698.88 791.1L699.27 792.3L699.65 792.4L703.69 792.5L705.81 792.1L706.19 790.8L706.38 788.9L706.77 781.6L708.69 716L709.08 707.6L709.27 706.7L709.46 708.3L709.85 717.4L711.77 779.8L712.35 788.4L712.54 789.3L712.92 790.1L714.27 790.3L716 792.1L717.15 792.5L718.69 792.2L720.62 790.1L721.19 790.3L722.15 791.1L722.54 791.1L723.69 790.8L725.04 791.7L725.42 790.6L725.81 785.8L726.19 776.3L727.92 717.8L728.31 709.8L728.5 709L728.69 710.8L729.08 720L731 783.2L731.38 789.1L731.58 790.2L731.77 790.5L732.73 788.7L733.12 788.3L733.31 788.3L733.69 788.8L734.85 791.2L735.04 791.2L735.23 790.7L735.42 789.4L736 780.7L737.92 734.8L738.31 730.1L738.5 730.2L738.88 734.9L741 784.9L741.38 789.8L741.77 791.6L742.15 791.7L743.12 790.8L743.5 790.6L744.08 790.9L745.23 792.1L746 792.3L746.58 792L747.73 791L748.31 790.8L749.85 792.1L750.62 792.4L752.15 792.5L755.62 792.2L756.19 791.9L756.58 791.3L757.73 787.8L758.31 786.9L758.5 787L758.88 787.7L759.85 790.6L760.04 791L760.23 791L760.42 790.6L760.81 787.7L761.19 781.9L763.12 739.8L763.5 734.7L763.69 734.2L763.88 735.3L764.27 741.3L766.19 784.3L766.58 789.4L766.96 791.8L767.35 792.4L767.73 792.5L774.46 792.5L775.62 792.3L777.54 791L779.08 791.5L779.46 791.2L779.85 790.3L780.81 787.3L781.19 786.6L781.38 786.6L781.77 787.2L782.92 790.9L783.69 792.2"/>
<path class="tr" stroke="#0000ff" d="M5.23 785L5.62 785L5.81 784.5L7.35 767.9L9.08 755.2L9.85 751.6L11.38 747.3L11.96 745.2L12.35 742.9L13.5 732.9L13.88 730.9L14.27 729.7L15.42 727.4L16 725L17.15 706.9L17.54 702.9L17.73 702.5L18.12 703.4L19.27 709.1L19.65 710L20.04 709.8L21.19 708.2L21.77 708.1L22.35 708.6L23.88 711L25.42 712.7L26.19 714.1L26.58 717.2L27.35 727.8L27.73 731.2L28.31 733.7L29.85 738.2L30.42 740.6L32.15 754.2L32.92 758.5L35.42 766.1L37.73 775.1L39.08 779.3L40.62 783.1L42.92 787.9L43.69 789.3L44.46 790L44.85 789.8L45.23 788.9L46.38 784.1L46.96 782.4L47.73 781.4L49.46 779.8L50.04 778.9L50.42 778L54.65 759.8L56.19 752L56.77 750.2L57.92 749.3L59.27 749L59.85 750.2L60.81 754.3L61.38 755.9L63.88 756L64.08 755.7L64.46 754.2L65.81 746.1L66.96 741.8L67.54 740.7L67.73 740.6L67.92 740.8L68.31 742.1L69.65 749.8L72.35 762.7L73.12 767.7L73.5 769L73.69 768.9L74.08 768L74.46 766.2L76 755.7L77.73 739.8L78.31 735.7L79.08 733L80.81 728.9L82.35 721.6L82.73 720.4L83.12 720L83.69 721.1L84.27 723.8L85.04 728.7L85.42 732.5L87.73 771.1L88.31 778.8L89.08 783.5L89.85 786.6L90.62 788.7L91.77 790.7L92.54 791.5L93.69 791.4L93.88 792.2L94.46 791L94.85 788.9L95.81 778.3L98.5 739L98.88 735.3L99.27 734L99.65 735.3L100.23 741.5L103.12 784.1L103.69 789.2L104.27 791.2L104.65 791.4L105.04 791.2L106 790.3L106.58 789.5L107.54 787.2L108.88 782.5L109.46 781.6L109.65 781.6L110.04 782.3L111.58 787.4L112.54 789.5L113.12 789.7L114.08 788.7L114.46 788.7L114.85 789.2L116 791.6L116.77 792.3L117.35 792.3L117.92 791.9L119.27 789.3L119.85 788.8L120.42 789.4L121.58 791.6L122.15 792.1L122.73 791.9L123.69 791.1L124.27 790.9L126.19 792.1L126.77 792L128.12 791.3L130.62 792.4L136 792.4L136.38 791.9L136.77 790.5L137.35 784.4L140.04 726.7L140.42 720.8L140.62 719.3L140.81 719L141.19 721.8L141.58 728.3L144.08 783L144.65 789.9L144.85 791L145.23 791.9L145.62 792L146 791.7L146.58 790.6L146.96 788.5L147.35 784.6L150.04 733.9L150.42 728.6L150.62 727.1L150.81 726.7L151.19 729.2L151.58 734.9L153.69 777.5L154.27 786.6L154.65 790.2L155.04 791.8L155.42 792.2L156 791.8L157.35 789.5L157.73 789.2L158.12 789.4L159.08 790.8L159.46 791L160.04 790.5L160.81 788.9L161.19 788.5L161.58 788.5L162.54 790.1L162.73 790.1L162.92 789.6L163.31 787.1L163.88 778.6L166.19 728.5L166.58 723L166.96 721L167.35 722.2L168.12 726.5L168.5 727.5L168.88 727.8L169.46 727.9L169.85 727.3L171 722.7L171.19 723L171.38 724.2L171.96 732.9L174.27 780.8L174.85 788.6L175.42 791.7L175.62 791.9L176 792L177.35 791.2L177.92 791.3L179.08 792.1L179.46 792L179.85 791.7L180.62 789.3L181.77 782.9L182.15 781.4L182.54 780.8L183.5 781.3L183.88 781.1L185.04 778.2L185.42 777.7L185.81 778.1L186.19 779.4L187.35 786.1L188.12 788.9L188.69 789.6L189.65 789L190.04 789L190.42 789.4L191.77 791.8L192.15 792.1L192.73 792.2L193.5 791.4L194.85 787.7L195.23 787.2L195.81 787.1L196.19 785.6L196.38 783.9L197.15 769.3L199.08 719.6L199.46 714.1L199.65 713.4L200.04 716.8L200.42 724.6L202.54 780.5L202.92 787L203.31 789.7L203.5 789.7L203.69 788.8L204.08 784.6L206.58 737.4L206.96 732.3L207.15 731L207.35 730.8L207.54 731.7L207.92 736.4L210.42 783.4L211 789.3L211.38 790.9L211.77 791.6L212.54 792.1L212.92 792L213.31 791.6L213.88 790.3L214.85 786.8L215.23 786.1L215.42 786.1L215.81 786.8L216.96 790.7L217.35 791.5L217.73 791.9L218.31 791.6L219.46 789.6L220.04 789.2L220.42 789.5L221.77 791.8L222.15 792.1L222.54 792L223.12 791.2L224.27 787.6L224.85 786.6L225.23 786.9L226.38 790.4L226.96 791.2L227.54 790.8L228.5 789.2L228.88 789.1L229.46 789.4L229.85 789.1L230.23 787.2L230.81 780.9L233.12 745.2L233.5 742.2L233.69 741.9L234.08 744L234.46 748.8L236.77 785L237.15 788.9L237.35 790.1L237.73 791.3L238.12 791.5L239.08 791.3L240.81 792.3L241.77 792.3L242.54 791.7L243.69 789.6L244.27 789.2L244.65 789.5L245.62 791L246 791.3L246.19 791.2L246.77 790.1L247.73 786.6L248.12 785.7L248.31 785.5L248.69 785.7L249.65 787.2L250.04 787.2L250.23 786.9L250.62 785.9L251.77 781.4L252.15 780.4L252.54 780.1L253.12 780.4L254.08 781.6L256.58 786.3L259.27 790.2L259.65 789.3L259.85 787.8L260.23 782.5L262.35 731.2L262.92 721.6L263.12 721.1L263.5 724.7L264.65 747.9L265.04 750.8L265.23 751L265.42 750.4L265.81 747.7L266.19 742.4L267.35 712.8L267.73 706.4L267.92 705.8L268.31 710.1L269.27 731.9L269.46 734.2L269.65 735.3L269.85 735.4L270.42 731.3L270.81 725.4L271.96 691.7L272.35 684.8L272.54 684.6L272.92 690.9L273.88 718.4L274.46 726.6L275.04 730.3L275.23 730.6L275.42 730.1L275.62 728.6L276.58 709.8L276.77 707.2L276.96 706.4L277.35 710.1L278.5 737.9L278.88 742.7L279.08 743.7L279.27 744.1L279.46 743.8L279.65 742.9L280.04 738.9L281.19 710.7L281.58 704.4L281.77 703.8L282.15 708.1L283.12 728.9L283.5 732.1L283.69 732.5L283.88 732.4L284.27 730.9L284.65 726.9L285.81 698.6L286 695.7L286.19 695L286.38 696.6L286.77 705.7L288.88 778.7L289.46 789.4L289.85 791.8L290.23 792.3L291 791.9L291.58 791.1L294.85 782.2L295.23 781.5L295.62 781.1L296 781.4L296.58 782.5L298.31 788.6L298.69 789.6L299.08 790L299.46 789.6L300.62 785.6L301 785.1L301.19 785.2L301.58 786.2L302.73 790.7L303.31 791.4L303.69 791.1L304.85 788.5L305.23 788.1L305.81 788.7L307.15 791.7L307.54 792L307.92 792L308.5 791.3L309.65 788.5L310.04 788L310.23 788L310.62 788.5L311.77 791.2L312.35 791.8L312.92 791.6L313.88 790.5L314.27 790.2L314.85 790.5L315.81 791.7L316.38 792.1L317.15 791.9L318.31 790.6L318.69 790.5L319.27 790.7L320.42 792L320.81 792L321 791.8L321.38 790.2L321.58 788.7L321.96 783.6L324.27 734.4L324.65 728.3L324.85 726.6L325.04 726.2L325.23 727.1L325.62 732.2L327.35 768.8L328.12 781.5L328.69 785.8L329.65 787.8L330.81 791.1L331.19 791.7L331.58 791.9L331.96 791.7L332.92 790.9L333.5 790.7L335.04 792.1L336 792.4L338.12 792.1L340.42 792.4L342.54 791.7L344.65 792.4L347.35 792L349.27 792.4L350.23 792.4L350.81 792L351.38 791L352.54 786.6L353.12 785.3L353.31 785.4L353.69 786.3L354.65 790.1L355.23 791.4L355.81 791.7L356.96 791.1L357.35 790.3L357.54 789.4L358.12 782.9L360.42 730.5L360.81 723.7L361 721.8L361.19 721.3L361.58 724.4L361.96 731.5L364.27 784.7L364.65 789.5L364.85 790.8L365.23 791.9L365.42 791.9L365.62 791.5L365.81 790.8L366.38 785L368.69 735.8L369.27 727.4L369.46 726.1L369.65 725.9L370.04 729L370.42 735.5L372.73 784.6L373.31 790.7L373.69 792.1L374.08 792.4L375.04 792.3L375.62 791.7L376.19 790.3L377.15 787L377.54 786.3L377.73 786.2L378.12 786.8L379.27 790L379.46 790.2L379.85 789.9L380.81 787.8L381.19 787.5L381.77 788.3L382.92 791.4L383.31 792L383.88 792.3L384.46 792.3L385.04 791.8L386.38 789L386.96 788.5L387.54 789.2L388.5 791.4L388.88 791.9L389.27 792.1L389.65 792L390.04 791.7L391.19 789.9L391.58 789.6L392.15 789.9L393.31 791.7L393.88 792.1L394.46 791.9L396 790.4L397.35 790.4L397.73 790L398.12 789.1L399.65 784.4L401.38 782.1L404.65 775.1L405.23 774.5L405.42 774.6L405.81 775.2L407.15 780.2L407.92 781.7L408.69 782.1L409.46 782.1L410.23 781.6L411.96 779.5L412.54 779.4L413.12 779.6L413.69 780.3L414.27 781.3L416.19 786.6L417.15 788.7L417.54 789.1L417.92 789.2L418.31 788.8L419.27 787.1L419.65 787L420.04 787.6L421.19 791L421.58 791.7L421.96 792.1L422.54 791.9L422.92 791.3L424.08 787.9L424.65 787L425.04 787.3L426.19 790.6L426.77 791.4L427.35 791L428.31 789L428.88 788.5L429.46 789.2L430.42 791.4L431.19 792.2L431.96 792.2L433.12 791.4L433.69 791.3L435.62 792.3L436.38 792.2L437.92 791.5L440.04 792.3L440.81 791.8L442.15 789.2L442.54 788.8L443.12 789.3L444.27 791.6L445.04 792.3L446.38 792.3L447.92 791.4L448.5 791.2L450.23 792.2L451.19 792.4L451.77 792L452.15 791.4L453.5 787.2L453.88 786.4L454.27 786.3L455.04 787.4L455.42 787.6L456.38 786.1L456.77 785.9L457.35 787L458.5 791.1L458.88 791.8L459.46 792.3L460.23 792.3L460.81 791.7L461.38 790.4L462.35 787.3L462.73 786.6L462.92 786.7L463.31 787.3L464.46 790.9L465.04 791.7L465.42 791.7L465.81 791.2L466.96 788.2L467.35 787.7L467.54 787.7L467.92 788.2L469.27 791.5L469.65 791.9L470.04 792L470.42 791.6L470.81 790.7L471.96 785.7L472.35 784.5L472.54 784.3L472.92 784.8L474.08 789.5L474.46 790.4L474.65 790.6L475.04 790.4L476 788.7L476.38 788.5L476.96 789.2L478.12 791.6L478.88 792.2L479.46 792L480.42 791.2L481 791L481.58 791.3L482.73 792.2L483.31 792.4L484.08 792.2L485.81 791.4L487.54 792.2L488.31 792.4L489.85 792.5L491.77 792.2L493.88 792.4L494.46 792L494.85 791.5L496.19 788.1L496.58 787.7L496.77 787.7L497.15 788.2L498.31 791.2L498.69 791.7L499.08 791.7L499.65 790.8L501 786.1L501.38 785.8L501.77 786.3L502.73 789.5L503.12 790.1L503.5 790L504.46 788L504.85 787.7L505.23 788L506.38 791L507.15 792.1L507.92 792.4L509.85 792L511.77 792.2L512.15 792L512.54 790.9L513.12 783.5L515.04 718.5L515.42 709L515.62 706.6L515.81 706.5L516.38 718.9L518.12 777.7L518.5 785.6L518.88 788.3L519.08 788.3L519.85 786.2L520.23 786L520.62 786.7L521.77 790.6L522.35 791.2L522.73 791L523.5 790.3L523.88 790.2L524.27 790.4L525.81 792.2L526.38 792.4L527.15 792.4L527.92 791.8L529.27 788.8L529.85 788.3L530.42 789.1L531.38 791.3L532.15 792.2L532.92 792.4L535.81 792.3L536.38 792.2L536.96 791.7L538.31 788.3L538.69 787.7L538.88 787.7L539.46 788.5L540.62 791.5L541.38 792.3L542.54 792.5L545.42 792.4L546 792L547.15 790.7L547.73 790.3L548.31 790.6L549.46 792L550.23 792.3L550.81 792.1L551.38 791.1L552.73 785.7L553.12 784.8L553.31 784.8L553.69 785.5L554.85 790.4L555.23 791.4L555.62 791.9L556 792L556.58 791.4L557.92 787.7L558.31 787.2L558.5 787.2L558.88 787.8L559.85 790.4L560.23 790.9L560.62 791L561.58 790.2L561.96 790L562.54 790.5L563.69 792L564.65 792.4L565.23 792.1L565.81 791L567.15 784.5L567.54 783.2L567.73 783.1L567.92 783.3L568.31 784.5L569.08 788.7L569.65 791L570.04 791.8L570.62 792.1L571.19 791.6L571.77 790.1L572.35 786.2L572.92 777.3L574.65 743.3L575.23 735.1L575.42 734.4L575.81 736.8L577.35 759.2L577.54 760.2L577.73 760.1L577.92 758.6L578.5 747.9L579.85 706.6L580.04 703.4L580.23 702.6L580.42 704.5L580.81 714.3L582.35 768.4L582.92 783.9L583.12 786.8L583.5 789.7L584.08 791.2L584.65 792L585.23 792L585.62 791.5L586.96 787.5L587.35 786.7L587.54 786.6L587.92 787L588.69 788.8L589.08 789.3L589.46 789L590.42 787L590.81 786.8L591.19 787.4L592.54 791.4L592.92 792L593.5 792.4L599.08 792.5L601.77 791.9L603.69 792.3L605.04 792L606 792.1L606.38 791.6L606.77 788.8L607.15 781.6L609.08 718.5L609.46 710.7L609.65 710L609.85 711.8L610.23 721L612.15 783.5L612.54 789.6L612.92 791.5L613.12 791.5L613.5 790.5L614.85 782.8L615.23 781.5L615.42 781.4L615.81 782.5L616.96 789.3L617.35 790.6L617.73 791.1L617.92 791L618.31 790.3L619.46 786.6L619.85 786.3L620.23 786.8L621.38 790.4L621.77 790.9L621.96 790.8L622.54 789.6L623.5 786.1L623.88 785.5L624.08 785.6L624.46 786.5L625.42 790.3L626 791.7L626.77 792.4L627.35 792.4L627.73 792.2L628.12 791.7L628.5 790.7L629.85 783.5L630.23 782.4L630.42 782.4L630.81 783.4L632.15 790.4L632.54 791.3L632.92 791.7L634.27 791.6L636.38 792.4L637.54 792.2L637.92 791.7L638.31 790.9L639.46 786.2L639.85 785.1L640.04 784.9L640.42 785.3L641.38 788.5L641.77 789.1L642.15 789.1L643.12 788L643.5 788.3L644.27 789.8L644.46 789.8L644.85 787.6L645.23 781.1L647.15 723.9L647.54 717L647.73 716.4L647.92 718.1L648.31 726.6L650.23 783.6L650.62 789.6L650.81 791.2L651.19 792.2L651.77 792.1L652.35 791.1L653.69 785.8L654.08 785L654.46 785.2L655.42 788.1L655.81 788.6L656.19 788.1L657.15 784.6L657.54 784.1L657.73 784.2L658.12 785.4L659.27 790.6L659.85 791.9L660.42 792.4L661.19 792.3L661.77 791.7L662.35 790.5L663.31 787.6L663.69 787.1L664.08 787.3L665.04 789.8L665.42 790.4L665.62 790.4L666 789.9L666.96 786.6L667.35 785.8L667.73 785.9L668.5 788L668.69 788.2L668.88 787.8L669.27 784.4L669.65 777.7L671.38 735L671.96 726.2L672.15 726.3L672.35 728.1L672.73 735L674.46 781.1L674.85 787.3L675.23 789.7L675.42 790L676.19 789.9L676.58 790.1L678.12 792L678.5 792.1L678.88 791.9L679.27 791.3L679.65 790.1L680.81 784.4L681.19 783.4L681.38 783.3L681.77 784.3L682.92 790L683.31 791.3L683.69 792L684.27 792.3L685.04 791.9L685.62 791L686.58 788.9L686.96 788.5L687.54 789L688.88 791.8L689.27 792.1L689.65 792.1L690.23 791.5L690.62 790.4L691.96 783L692.35 781.9L692.54 781.9L692.92 783.1L693.88 788.7L694.46 790.8L694.85 791L695.23 790.4L696.38 786L696.77 785.1L696.96 785.1L697.35 785.8L698.69 791L699.08 791.7L699.65 791.8L700.04 791.3L700.42 790.4L701.19 787.2L701.77 780.1L703.88 714.7L704.27 706.1L704.46 704.8L704.65 705.8L704.85 708.8L705.23 718.2L707.15 778.9L707.73 787.6L708.12 790L708.69 791.7L709.08 792L709.65 791.7L711 788.6L711.58 788L711.96 788.3L712.92 790.4L713.5 791.2L714.85 791.3L716.19 792.1L716.77 792.1L717.54 791.1L718.5 788.6L719.08 787.7L719.27 787.8L719.65 788.3L720.62 790.9L721.38 792.1L721.77 792.2L722.35 791.9L723.69 790L724.27 789.7L724.65 790L726 792L726.58 792.3L726.96 792.2L727.54 791.4L727.92 790.1L729.27 781.7L729.65 780.5L729.85 780.6L730.23 782L731.58 790.3L731.96 791.4L732.54 792L733.88 791.6L735.23 791.9L735.81 791.8L736.38 790.8L737.54 786.9L737.92 786.3L738.12 786.3L738.5 787L739.85 791.3L740.42 792L740.81 791.9L741.19 791.4L742.54 787.7L742.92 787.2L743.12 787.2L743.5 787.9L744.65 791.2L745.42 792.2L746.19 792.4L748.12 791.9L750.23 792.3L750.81 791.8L751.19 791.1L752.54 785.8L752.92 785.1L753.12 785.1L753.5 785.9L754.65 790.5L755.23 791.6L755.62 791.6L756 791.1L757.15 787.7L757.54 786.9L757.73 786.8L758.12 787.2L759.27 790.8L760.04 792.1L760.62 792.2L761.19 791.9L762.54 789.3L763.12 788.8L763.5 789.1L764.85 791.7L765.42 791.9L766 791L766.38 789.5L767.54 781.9L767.92 780.5L768.12 780.4L768.31 780.8L769.08 784.7L769.27 785.1L769.46 784.5L769.65 782.6L770.23 769.4L771.77 719.4L772.15 711.5L772.35 710.7L772.73 716.1L774.08 756.5L774.46 761.6L774.65 761.7L774.85 760.2L775.23 752.3L776.38 710.5L776.77 701.4L776.96 700.5L777.15 702.4L777.54 712.9L779.27 778L779.85 789.8L780.23 792L780.62 792.3L781.38 791.9L782.73 790.5L783.12 790.4L783.69 790.9"/>
</g>
<path d="M6.8 1030.7 H1019.5" stroke="#223" stroke-width="1.2" fill="none"/>
<g transform="scale(1.3 1)" stroke-width="2.5">
<path class="tr" stroke="#000000" d="M5.23 1029.3L11.38 1029.3L13.88 1028.9L16 1029.3L17.92 1029.3L18.31 1029.1L18.5 1028.7L18.88 1025.4L19.08 1022.1L21.58 957.5L21.96 950.6L22.15 949.9L22.35 951.5L22.73 959.5L25.04 1019.6L25.42 1026.2L25.81 1028.6L26.19 1028.9L29.27 1029.3L32.54 1029.1L34.85 1029.3L42.54 1029.3L45.23 1028.6L47.15 1029.1L49.08 1028.8L51.96 1029.3L61.19 1029.3L61.77 1029L62.15 1026.9L62.54 1019.4L65.04 930.2L65.42 920.5L65.62 919.6L65.81 921.8L66.19 932.8L68.69 1021L69.08 1027.3L69.27 1028.4L69.65 1028.9L71.38 1029.3L76.96 1029.3L79.08 1029.3L79.46 1029L79.85 1027.2L80.04 1025.5L82.54 991.9L82.92 988.3L83.12 988L83.31 988.8L83.69 993L86 1024.2L86.38 1027.6L86.58 1028.4L86.96 1028.8L88.12 1028.7L90.04 1029.2L91.96 1029.1L96 1029.3L97.15 1029.2L99.08 1028.5L101.38 1029.2L103.88 1028.8L106.58 1029.3L108.69 1029.3L110.81 1028.9L113.31 1029.3L121 1029.3L124.08 1029.1L126.77 1029.2L129.08 1028.7L131.19 1029.2L132.92 1029.3L134.46 1029.1L136.38 1028.4L138.31 1029.2L139.65 1029.3L150.23 1029.3L152.73 1028.7L154.65 1029.2L156 1029.3L158.69 1028.6L161.19 1029.3L168.12 1029.3L169.08 1029.2L171 1028.6L172.92 1029.2L174.08 1029.3L176.19 1029.2L178.31 1028.6L181 1029.3L183.69 1028.7L186.58 1029.3L190.04 1029.1L194.46 1029.3L197.15 1029L199.85 1029.3L200.23 1028.8L200.42 1027.9L200.81 1023.7L203.31 973.8L203.69 968.5L203.88 968L204.27 971.9L206.58 1017.7L207.15 1025L207.35 1024.7L207.73 1020L210.04 975.7L210.42 970.6L210.62 970L210.81 971.2L211.19 977.2L213.5 1021.9L214.08 1028.3L214.46 1029.1L215.42 1029.3L220.42 1029.1L223.5 1029.3L225.04 1029L225.42 1028.5L225.81 1025.6L226.19 1016L228.69 905L229.08 893L229.27 891.8L229.46 894.6L229.85 908.4L232.15 1011.9L232.54 1023.4L232.73 1026.3L233.12 1028.2L234.46 1029L235.62 1029.3L236.58 1029.1L238.31 1028.3L238.88 1028.4L240.23 1029.1L241.58 1029.3L243.12 1029.2L245.04 1028.5L246.96 1029.2L248.31 1029.3L260.81 1029.3L263.5 1028.8L265.81 1029.2L268.31 1028.4L270.04 1029.1L271.19 1029.3L272.73 1029.2L274.65 1028.3L277.35 1029.3L279.08 1029.2L280.42 1028.8L280.81 1028.4L281.19 1025.4L281.58 1014.9L284.08 890.4L284.46 876.9L284.65 875.6L285.04 885.3L287.35 1000.7L287.92 1022.3L288.12 1024.8L288.31 1024.9L288.5 1023.2L291 978L291.38 973L291.58 972.5L291.77 973.6L292.15 979.3L294.46 1022.4L294.85 1027.3L295.04 1028.5L295.42 1029.2L303.12 1029.3L305.81 1029.1L308.31 1029.3L312.35 1029.1L314.85 1029.3L317.35 1029.1L322.54 1029.3L324.08 1029.2L324.46 1028.5L324.85 1024.3L325.04 1020.1L327.54 937.3L327.92 928.3L328.12 927.4L328.31 929.4L328.69 939.5L331 1016.9L331.38 1025.6L331.77 1028.8L331.96 1029.2L332.35 1029.3L336.77 1029.3L337.15 1028.5L337.35 1027.1L337.92 1014.8L340.23 937.5L340.62 928.5L340.81 927.6L341 929.6L341.38 939.8L343.69 1017L344.08 1025.2L344.27 1026.4L344.46 1025.7L344.85 1019.9L347.15 970.1L347.54 964.2L347.73 963.5L347.92 964.7L348.31 970.9L350.62 1021.1L351 1026.8L351.38 1028.9L351.77 1029.2L353.88 1028.9L356 1029.3L357.92 1029.3L359.08 1029.2L361 1028.7L363.5 1029.3L366 1028.7L368.12 1029.2L370.23 1029.3L371.38 1029.1L372.73 1028.2L373.69 1028L374.08 1025.7L374.46 1017.3L376.96 914.4L377.35 903.1L377.54 901.9L377.73 904.4L378.12 917L380.42 1013.9L380.81 1024.7L381 1027.4L381.38 1029.1L382.15 1029.1L384.08 1028.3L386 1029.1L387.54 1029.3L390.62 1029L392.92 1029.3L394.85 1029.3L395.62 1029.1L397.35 1028.1L397.92 1028.3L399.27 1029L399.46 1028.9L399.65 1028.4L400.04 1024L400.23 1019.5L402.73 931.7L403.12 922.2L403.31 921.2L403.5 923.4L403.88 934.2L406.19 1016.2L406.58 1025.4L406.77 1027.7L407.15 1029.1L409.08 1028.9L411.58 1029.2L413.88 1028.4L416.38 1029.3L418.88 1029.3L421.19 1029L423.69 1029.3L424.65 1029L426.38 1028.1L426.96 1028.3L428.31 1029.1L429.46 1029.3L431.58 1029.2L433.12 1028.3L433.69 1028.2L435.42 1029.1L436.38 1029.3L445.23 1029.1L453.31 1029.3L454.46 1029.1L456.38 1028.1L458.12 1029L458.88 1029.2L461.38 1029.3L463.5 1029L466 1029.2L466.38 1028.3L466.58 1026.4L466.96 1017.5L469.46 911.2L469.85 899.8L470.04 898.7L470.23 901.4L470.62 914.5L472.92 1013.5L473.31 1024.6L473.5 1027.4L473.88 1029.1L485.42 1029.3L488.31 1028.8L490.62 1029.2L492.92 1029.1L496 1029.3L497.15 1029.2L499.08 1028.6L500.81 1029.2L501.96 1029.3L506.38 1029.2L509.65 1029.3L512.15 1028.7L514.46 1029.3L515.62 1029.3L516 1029L516.38 1027L516.77 1020.4L519.27 943.2L519.65 935.3L519.85 934.6L520.42 946.2L522.73 1017.9L523.12 1025.9L523.5 1028.7L523.88 1029.1L525.04 1028.9L527.73 1029.2L528.5 1029L530.23 1027.8L530.81 1028L532.15 1029L533.12 1029.3L540.04 1029.3L542.54 1028.6L544.65 1029.2L546.77 1029.3L547.73 1029.1L549.46 1028.5L551.38 1029.2L551.77 1029.1L551.96 1028.7L552.15 1027.6L552.35 1025L552.73 1013.9L555.04 907.6L555.62 889.8L555.81 890.4L556.19 901.9L558.31 998.8L558.88 1017.4L559.08 1018.6L559.46 1013.9L561.58 968.2L561.96 962.5L562.15 961.9L562.35 963.3L562.73 970.1L565.04 1020.9L565.42 1026.5L565.62 1027.9L566 1028.7L568.69 1029.3L570.81 1029.3L571.77 1029.1L573.69 1028.2L575.42 1029L576.19 1029.2L576.77 1029L577.35 1028.5L577.73 1027.4L578.31 1018.4L580.81 935.7L581.19 926.7L581.38 925.8L581.58 927.9L581.96 938.2L584.46 1020.8L584.85 1026.9L585.04 1028L585.42 1028.7L586.58 1029.2L588.5 1029.2L589.27 1029L590.42 1028L591 1027.7L591.58 1027.9L592.92 1029L594.27 1029.2L595.42 1028.8L596 1027.9L596.58 1024L599.08 990.7L599.46 987.1L599.65 986.7L599.85 987.6L600.23 991.9L602.54 1023.8L602.92 1027.3L603.31 1028.5L606 1029.3L607.35 1029.1L609.08 1028.4L611 1029.1L611.96 1029.3L618.69 1029.3L621.19 1028.8L624.27 1029.3L625.42 1029.1L626.77 1028.1L627.35 1027.9L627.92 1028.1L629.27 1029.1L630.42 1029.3L632.54 1029.2L634.46 1028.5L636.38 1029.2L637.54 1029.3L640.81 1029L643.12 1029.3L648.5 1029.3L651.58 1029L651.96 1027.3L652.35 1021.2L654.85 948.7L655.23 940.8L655.42 940.1L655.81 945.7L658.12 1013.2L658.69 1024.3L658.88 1024L659.27 1017.4L661.58 955.4L661.96 948.3L662.15 947.5L662.35 949.2L662.73 957.3L664.85 1014.5L665.42 1026.2L665.62 1028L666 1029.1L668.69 1029.3L670.04 1029L670.42 1028.7L670.81 1026.7L671.19 1019.7L673.69 937.4L674.08 928.5L674.27 927.6L674.46 929.6L674.85 939.8L677.15 1017L677.54 1025.6L677.92 1028.8L678.31 1029.3L679.08 1029.2L681.19 1027.9L681.77 1028.1L683.12 1029.1L684.27 1029.3L686.38 1029.3L688.5 1028.8L691.19 1029.2L693.31 1028.5L694.46 1028.7L694.65 1028.5L695.04 1026.7L695.42 1021.9L697.73 980.3L698.12 975.1L698.31 974.3L698.5 975.1L698.88 980.2L701.19 1020.8L701.38 1022.9L701.58 1023.6L701.77 1022.2L702.15 1014.5L704.27 955.3L704.85 944.2L705.04 944.4L705.42 951.3L707.73 1016L708.12 1024.5L708.5 1028.4L708.69 1029L709.27 1029.3L717.35 1029.3L719.65 1029.1L720.04 1027.9L720.23 1025.9L720.62 1016.3L723.12 909.8L723.5 899L723.69 898.5L724.27 915.4L726.58 1015L726.96 1025.3L727.35 1028.8L727.54 1029.2L727.92 1029.3L734.46 1029.3L736.77 1028.8L738.88 1029.2L740.62 1029.3L741.77 1029L743.12 1027.9L743.69 1027.7L745.42 1029L746.38 1029.3L747.73 1029.2L749.65 1028.4L752.15 1029.3L759.08 1029.3L760.42 1029L761.77 1027.9L762.35 1027.6L762.92 1027.9L763.88 1028.8L764.65 1029.1L766.19 1028.8L768.88 1029.3L772.35 1029.2L776.38 1029.3L779.65 1028.9L781.77 1029.3L784.08 1029.3"/>
<path class="tr" stroke="#00a800" d="M5.23 1029.3L6 1029.3L6.38 1029L6.77 1026.9L6.96 1024.4L9.46 967L9.85 960.7L10.04 960L10.23 961.5L10.62 968.8L12.92 1022.5L13.12 1025.6L13.5 1028.7L13.69 1029.1L14.08 1029.3L23.12 1029.3L24.65 1029.1L25.04 1028.6L25.42 1025.3L25.81 1015.8L28.12 931.1L28.5 921.1L28.69 920L29.08 927.4L31 997.9L31.58 1012.8L31.77 1013.7L32.15 1008.9L34.08 958.1L34.46 950.8L34.65 950L34.85 951.7L35.23 960L37.54 1021.2L37.92 1027.1L38.31 1028.8L38.88 1029.1L40.42 1029.3L43.5 1028.9L46 1029.3L49.08 1029L53.31 1029.3L54.65 1029.2L56.58 1028.6L58.88 1029.3L60.23 1029.2L62.35 1028.7L64.27 1029.2L65.81 1029.3L67.35 1029.2L69.27 1028.5L71 1029.1L71.96 1029.2L72.92 1029L73.31 1028.6L73.69 1026.5L74.08 1020.5L76.38 967L76.77 960.7L76.96 960L77.35 964.7L79.65 1018.2L80.23 1027.1L80.62 1028.5L81.77 1029L84.27 1029.3L85.23 1029.2L85.62 1028.9L86 1026.5L86.38 1015.8L88.88 859.8L89.27 842.6L89.46 840.8L89.65 844.8L90.04 864.4L92.35 1010.1L92.54 1018.7L92.92 1027.3L93.12 1028.6L93.31 1029L93.69 1029.2L109.46 1029.3L109.85 1029L110.04 1028.2L110.62 1019.3L112.92 954L113.31 946.3L113.5 945.6L113.69 947.3L114.08 956.1L116.38 1021.1L116.77 1027.3L117.15 1029.1L117.73 1029.3L120.81 1029.2L121.19 1028.6L121.38 1027.6L121.96 1020.6L124.08 986.6L124.46 982.5L124.65 982.2L125.04 985.5L126.96 1015.2L127.15 1016.8L127.35 1017.4L127.54 1016.7L128.12 1008.2L130.04 965.9L130.23 963.5L130.42 962.9L130.81 967.4L132.73 1009.6L133.12 1014L133.31 1014.1L133.88 1006.4L135.81 960.4L136 957.7L136.19 957L136.38 958.6L136.77 966.1L139.08 1022.2L139.27 1025.4L139.65 1028.7L139.85 1029.1L140.23 1029.3L145.81 1029.3L148.12 1028.9L149.85 1029.2L150.23 1029L150.62 1026.8L151 1020.6L153.31 963.9L153.69 957.2L153.88 956.6L154.08 958.2L154.46 965.9L156.38 1013.3L156.77 1020.2L156.96 1021.3L157.15 1020.5L157.54 1014.8L159.46 977L159.85 971.9L160.04 971.4L160.42 975.4L162.73 1020.4L163.31 1027.9L163.5 1028.8L163.88 1029.2L166 1028.9L168.31 1029.3L168.69 1029L169.08 1026.6L169.46 1019.9L171.77 958.8L172.15 951.6L172.35 950.9L172.54 952.6L172.92 960.8L175.04 1017.1L175.42 1024.2L175.62 1025.2L175.81 1024L176.19 1017.2L178.31 969.2L178.69 963.2L178.88 962.7L179.46 971.2L181.19 1010.2L181.58 1016.5L181.77 1017.8L181.96 1017.5L182.35 1012.5L184.27 971.6L184.65 966.3L184.85 966.1L185.42 974.8L187.54 1020.3L187.92 1026.4L188.31 1028.9L188.5 1029.2L188.88 1029.3L191 1029.1L193.5 1029.3L198.69 1029.3L201.19 1028.7L204.27 1029.3L206.96 1029.3L209.08 1028.9L211.77 1029.3L213.12 1029.2L213.5 1029L213.88 1026.9L214.27 1017.2L216.77 877.2L217.15 861.7L217.35 860.1L217.54 863.7L217.92 881.4L220.23 1012.6L220.62 1025.2L220.81 1027.8L221 1028.8L221.19 1029.2L224.65 1029.2L226.96 1028.5L229.46 1029.3L232.54 1029L236 1029.3L236.96 1029.1L238.69 1028.3L240.62 1029.1L241.96 1029.3L244.85 1029.1L247.54 1029.3L250.04 1028.7L251.96 1029.2L253.88 1029.3L256.58 1028.6L259.27 1029.3L272.54 1029.3L273.69 1029.2L275.62 1028.5L277.35 1029.1L278.5 1029.3L284.65 1029.3L287.15 1028.9L289.65 1029.3L296.96 1029.3L298.5 1029L299.85 1028.2L300.23 1027L300.42 1025.1L300.81 1017.5L303.12 948L303.5 939.6L303.69 938.6L303.88 940.5L304.27 949.7L306.58 1020.2L306.96 1027L307.35 1029L307.92 1029.3L315.04 1029.3L316 1029.1L317.73 1028.3L320.23 1029.2L321 1029.1L322.73 1028.5L324.65 1029.2L326 1029.3L332.92 1029.3L335.42 1029.1L338.31 1029.3L341 1028.6L343.12 1029.2L345.62 1029.3L346.58 1029.2L348.5 1028.5L350.04 1029L350.23 1028.7L350.42 1027.8L350.81 1022L353.31 935L353.69 925.3L353.88 924.3L354.27 931.3L356 992.4L356.58 1007.2L356.77 1008.9L356.96 1008.6L357.15 1006.3L359.08 953.5L359.46 945.8L359.65 945L359.85 946.8L360.23 955.6L362.54 1021L362.92 1027.3L363.31 1029.1L364.08 1029.3L366.38 1028.8L368.5 1029.3L370.23 1029.3L371.19 1029.1L372.92 1028.4L375.23 1029.2L377.35 1028.8L380.04 1029.3L387.54 1029.3L390.04 1029.1L393.31 1029.3L394.65 1029.1L396.38 1028.4L398.88 1029.2L401.77 1028.9L403.69 1029.2L405.62 1029.3L406.96 1029.1L408.88 1028.4L410.62 1029.1L411.19 1029.1L411.58 1027.7L411.96 1023.6L414.27 986.8L414.65 982.4L414.85 982L415.23 985.1L417.15 1015.1L417.54 1017.8L417.73 1017.5L418.31 1010.5L420.23 972L420.42 969.8L420.62 969.2L420.81 970.5L421.19 976.9L422.92 1012.2L423.31 1017.6L423.5 1018.4L423.69 1017.4L424.08 1011L426.19 959.4L426.38 956.8L426.58 956.2L426.96 961.2L429.27 1018.1L429.85 1027.6L430.23 1029.1L430.62 1029.3L431.77 1029.2L433.5 1028.2L434.46 1028.2L434.65 1028.1L435.04 1025.7L435.42 1018.3L437.73 949.8L438.12 941.6L438.31 940.8L438.5 942.6L438.88 951.8L441.19 1020.5L441.58 1027.1L441.96 1029L442.35 1029.3L443.12 1029.2L445.23 1028L447.15 1029.1L448.31 1029.3L450.23 1029.2L452.15 1028.6L454.08 1029.2L455.23 1029.3L458.31 1029.1L460.81 1029.3L467.54 1029.3L468.5 1029.1L470.23 1028.5L472.15 1029.1L472.92 1029L473.31 1028.7L473.5 1028.2L473.69 1026.9L474.08 1019.2L476.58 912.2L476.96 900.4L477.15 899.2L477.35 902.1L477.73 915.7L480.04 1016.5L480.42 1026.1L480.81 1028.8L481.19 1029L482.54 1028.6L484.85 1029.3L487.54 1029L490.81 1029.3L491.19 1028.8L491.38 1027.7L491.96 1015L494.27 922.4L494.65 911.6L494.85 910.5L495.04 913L495.42 925.5L497.73 1017.6L498.12 1026.4L498.5 1028.9L498.69 1029L500.23 1028.8L502.15 1029.2L504.27 1029.2L505.04 1029L506.77 1027.8L507.35 1028L508.69 1029L509.46 1029.2L511.96 1028.9L514.27 1029.3L517.15 1028.9L519.27 1029.3L521 1029.3L523.69 1028.7L526.19 1029.3L527.35 1029.3L527.73 1029.1L528.12 1027.4L528.5 1022.7L530.81 980.4L531.19 975.5L531.38 975L531.58 976.2L531.96 981.8L533.69 1013.7L534.08 1018.7L534.27 1019.3L534.46 1018.5L534.85 1012.7L536.96 965.9L537.15 963.4L537.35 962.8L537.73 967.3L539.46 1005.9L539.85 1012L540.04 1013L540.23 1012.4L540.62 1006.6L542.54 950.6L542.92 942.4L543.12 941.5L543.31 943.3L543.69 952.3L546 1020.7L546.38 1027.1L546.77 1028.9L547.15 1028.8L548.12 1028.1L548.69 1027.9L550.42 1029L551.38 1029.3L554.08 1028.9L556.19 1029.3L558.5 1029.3L561.19 1028.7L563.5 1029.2L564.27 1029L565.42 1028.1L566 1027.9L567.73 1029L568.69 1029.3L569.85 1029.2L571.77 1028.3L573.69 1029.1L574.46 1029.3L577.15 1029.2L579.27 1028.8L581.77 1029.3L582.92 1029L584.65 1027.7L585.04 1027.8L586.38 1028.9L587.15 1029.2L588.69 1029.2L589.65 1028.7L590.04 1027.7L590.42 1024.4L592.92 981.2L593.31 976.4L593.5 976L593.88 979.5L596.19 1020.5L596.77 1027.6L597.15 1028.8L597.54 1029.1L599.08 1029.3L601.96 1029.2L602.35 1028.5L602.54 1027L602.92 1017.3L605.42 876.3L605.81 860.7L606 859.1L606.19 862.7L606.58 880.5L608.88 1011.5L609.27 1024L609.46 1026.6L609.85 1028L611.38 1029.1L612.92 1029.3L614.46 1029.1L616.38 1027.8L616.96 1028L618.31 1028.9L618.88 1028.9L620.42 1028.3L622.35 1029.2L623.69 1029.3L625.62 1029.1L627.54 1028L628.12 1028.2L629.46 1029.1L631 1029.3L637.73 1029.2L639.08 1028.7L639.46 1028.1L639.85 1025L640.23 1016.3L642.54 938.3L642.92 929L643.12 928.1L643.5 934.8L646.19 1022.7L646.58 1027.2L646.96 1028L647.92 1028.8L648.69 1029.2L649.46 1029.3L651.77 1029L654.46 1029.3L661.19 1029.3L662.15 1029L663.5 1028L664.08 1027.8L665.81 1029L666.96 1029.3L668.69 1029.2L670.62 1028L671.19 1028.1L672.54 1029L673.5 1029.3L675.81 1029.1L676.58 1028.9L676.96 1028.5L677.35 1025.5L677.73 1017L680.04 939L680.42 929.7L680.62 928.7L680.81 930.7L681.19 941L683.5 1019.3L683.88 1026.8L684.08 1028.4L684.46 1029.2L687.92 1029.1L688.31 1028.7L688.5 1027.9L689.08 1020.6L691.19 978.2L691.77 970.1L691.96 970.3L692.35 975.3L694.85 1024.3L695.23 1028L695.62 1029L696.58 1029.2L697.92 1029.2L700.23 1028.2L702.35 1029.2L704.46 1029.3L705.42 1029.1L706.77 1028.2L707.35 1028L709.08 1029.1L710.42 1029.2L711.19 1029L712.54 1027.9L713.12 1027.7L713.5 1027.9L714.85 1029L715.81 1029.2L716.77 1029.1L718.69 1028.3L720.62 1029.1L722.35 1029.3L723.12 1029L724.85 1027.9L725.42 1028.1L726.77 1029L727.73 1029.3L731.96 1029.1L734.65 1029.3L735.42 1029.1L737.15 1028.1L737.73 1028.2L739.08 1029.1L740.23 1029.3L741.38 1029L742.73 1027.7L743.31 1027.4L743.88 1027.7L745.04 1028.9L746 1029.2L746.96 1029L748.31 1027.8L748.88 1027.6L750.62 1029L751.77 1029.3L753.69 1029.2L755.81 1027.9L756.38 1028.1L757.73 1029.1L759.46 1029.2L760.23 1029L761.58 1027.8L762.15 1027.6L764.27 1029.1L765.04 1029.2L766.77 1028.7L768.5 1029.1L768.69 1028.8L768.88 1028L769.08 1026.1L769.46 1018.1L771.77 945.2L772.15 936.5L772.35 935.6L772.73 941.8L775.04 1014.8L775.62 1027.1L775.81 1028.5L776.19 1029.3L777.92 1029.1L779.85 1028.3L781.96 1029.2L784.08 1029.3"/>
<path class="tr" stroke="#ff0000" d="M5.23 931.2L5.42 930.1L5.81 937.8L7.92 1014.9L8.31 1025L8.5 1027.5L8.88 1029L9.65 1029.2L11 1029.3L12.15 1029.3L12.35 1029.1L12.54 1028.6L12.92 1024L15.23 941.7L15.62 931.2L15.81 930.1L16.19 937.8L18.5 1021.1L18.69 1025.3L19.08 1028.8L19.46 1029.2L21.38 1029.3L23.88 1029.3L26.19 1028.9L28.69 1029.2L31 1028.8L33.12 1029.2L34.85 1029.3L36.77 1029.2L37.15 1028.7L37.54 1024.5L37.73 1020.1L39.85 951.4L40.23 942.1L40.42 941.1L40.81 948L42.92 1016.5L43.31 1023L43.5 1021.6L43.88 1009.9L46 922.2L46.19 917.3L46.38 916.1L46.77 924.9L48.88 1012.8L49.27 1023.6L49.46 1024.9L49.65 1022.8L50.04 1011.8L52.15 933.1L52.35 928.7L52.54 927.6L52.92 935.5L55.23 1020.9L55.62 1027.1L55.81 1026.6L56.38 1012.2L58.5 932.7L58.69 928.2L58.88 927.1L59.27 935.1L61.19 1007.9L61.77 1025.1L61.96 1027.6L62.15 1028.6L62.35 1028.9L65.23 1029.3L68.31 1029.1L71 1029.3L78.88 1029.3L81.58 1028.8L83.88 1029.3L88.69 1029.3L89.85 1029.2L91.58 1028.7L93.69 1029.2L95.62 1029.3L97.15 1029.2L97.73 1028.9L98.12 1027L98.5 1019.8L100.62 951.3L101 942L101.19 941L101.58 948L103.88 1021.9L104.27 1027.7L104.46 1028.4L104.65 1028L105.04 1023.1L105.23 1018L107.35 939.3L107.73 928.6L107.92 927.5L108.31 935.5L110.42 1014.9L111 1027.6L111.19 1028.6L111.38 1028.9L114.08 1029.2L116.19 1028.4L118.12 1029.2L119.27 1029.3L122.15 1029.1L124.46 1029.3L127.35 1029.3L130.04 1028.9L133.31 1029.3L136.19 1028.8L138.12 1029.2L139.46 1029.3L140.42 1029.2L142.35 1028.6L144.27 1029.2L145.42 1029.3L148.12 1029.1L150.62 1029.3L157.54 1029.3L158.5 1029.2L160.23 1028.6L162.35 1029.1L162.92 1029.1L163.31 1028.8L163.69 1027.1L164.08 1020.5L166.19 960L166.58 951.8L166.77 951L167.15 957.1L169.27 1018.1L169.85 1027.7L170.04 1028.4L170.23 1028.5L171.19 1028.3L172.73 1029.1L173.5 1029.3L174.85 1029.2L176.77 1028.7L178.88 1029.2L180.23 1029.3L182.73 1028.4L185.04 1029.2L187.35 1029.2L187.73 1027.4L188.12 1020.3L190.23 953.1L190.62 943.9L190.81 943L191.19 949.7L193.5 1022.2L193.69 1025.9L194.08 1029L194.27 1029.2L194.65 1029.3L197.15 1029L200.04 1029.3L202.35 1029L204.65 1029.3L207.35 1029L211 1029.3L213.5 1029.1L218.12 1029.3L219.08 1029.2L219.46 1028.7L219.85 1025.1L220.04 1021.3L222.15 963.3L222.54 955.6L222.73 954.8L223.12 960.7L225.23 1018.8L225.81 1028L226 1028.6L226.19 1028.8L227.35 1028.3L229.85 1029.2L231 1029.2L231.77 1028.8L232.15 1027L232.54 1020.1L234.65 955.7L235.04 947L235.23 946L235.62 952.6L237.73 1017.3L238.12 1025.4L238.31 1026.9L238.5 1026.2L238.88 1018.8L241 946.6L241.38 936.8L241.58 935.8L241.96 943.1L244.08 1015.7L244.46 1025.1L244.85 1028.3L245.04 1028.6L246.38 1029.1L248.12 1029.3L249.46 1029.1L251.19 1028.5L253.88 1029.3L255.81 1029.2L257.92 1028.6L260.23 1029.2L265.23 1029.3L266.19 1029.1L267.73 1028.2L268.88 1028.3L269.08 1027.9L269.27 1026.5L269.65 1018.3L271.77 937.9L272.15 927L272.35 925.8L272.73 933.9L275.04 1020.8L275.23 1025.2L275.42 1027.6L275.62 1028.1L275.81 1026.7L276.19 1017.7L278.31 931.1L278.69 919.3L278.88 918.1L279.27 926.8L281.58 1020L281.96 1027.5L282.15 1028.7L282.54 1029.2L284.08 1029.2L286.19 1028.7L288.31 1029.2L289.85 1029.3L292.35 1028.5L294.46 1029.2L294.85 1028.9L295.23 1026.3L295.42 1023.6L297.54 980.5L297.92 974.6L298.12 973.9L298.5 978.1L300.62 1020.3L301.19 1027.6L301.58 1028.7L302.54 1029.2L305.62 1029.2L306 1028.6L306.38 1024.2L306.58 1019.5L308.69 946.8L309.08 936.9L309.27 935.8L309.65 943.1L311.96 1021.6L312.35 1027.3L312.54 1026.9L313.12 1013.6L315.23 940.1L315.42 935.9L315.62 934.8L315.81 937.1L316.19 948.2L318.12 1015.6L318.5 1024.8L318.69 1025.8L318.88 1024L319.27 1014.3L321.38 944.5L321.58 940.6L321.77 939.6L322.15 946.6L324.27 1016.1L324.65 1025.1L325.04 1028.3L325.42 1028.7L326.58 1029.2L328.5 1029.2L331 1028.3L331.19 1028L331.38 1027.1L331.96 1018.1L334.08 968.5L334.27 965.7L334.46 965L334.85 970L337.15 1024L337.35 1026.7L337.73 1029L338.12 1029.3L339.65 1029.2L341.77 1028.2L342.35 1028.3L343.69 1029.1L344.85 1029.3L364.85 1029.3L367.54 1029.3L367.92 1029.1L368.31 1026.4L368.69 1016.9L370.81 933.2L371.19 922.7L371.38 922.3L371.77 931.8L374.08 1021.6L374.46 1028.1L374.65 1029L374.85 1029.2L375.62 1029.1L377.54 1028.4L379.46 1029.2L380.62 1029.3L381 1028.9L381.19 1027.9L381.77 1018.4L383.88 966.5L384.08 963.4L384.27 962.5L384.46 964L384.85 971.7L386.77 1019.8L387.35 1028.2L387.54 1028.9L387.92 1029.2L389.65 1028.8L391.58 1029.2L393.31 1029.3L393.69 1029.2L393.88 1028.7L394.27 1024.9L394.46 1020.9L396.58 958.2L396.96 949.7L397.15 948.8L397.54 955.1L399.85 1022.7L400.04 1026.2L400.42 1029L400.81 1029.3L403.5 1029L406 1029.3L408.88 1029.1L412.15 1029.3L413.12 1029.1L415.04 1028.2L416.77 1029.1L417.92 1029.3L419.46 1029.2L421.38 1028.4L423.12 1029.1L424.08 1029.3L425.81 1029.2L427.73 1028.5L429.08 1028.8L429.27 1028.4L429.46 1027.2L429.85 1020.5L431.96 955.2L432.35 946.1L432.54 945.1L432.73 947L433.12 956.6L435.04 1016.4L435.62 1027.5L435.81 1028.5L436.19 1029.1L438.31 1029L440.42 1029.3L440.81 1029.1L441.19 1027.2L441.58 1019.3L443.69 943.5L444.08 933.3L444.27 932.2L444.65 939.8L446.96 1021.4L447.35 1027.9L447.54 1028.9L447.73 1029.2L450.42 1028.8L452.54 1029.3L455.81 1029.3L456.77 1029L458.5 1028.1L460.04 1028.9L460.23 1028.9L460.42 1028.7L460.81 1025.6L461 1022.3L463.12 969.6L463.5 962.4L463.69 961.7L464.08 967L466.19 1019.8L466.77 1028.3L466.96 1028.9L467.15 1029.1L469.27 1027.9L469.85 1028.1L471 1029L471.96 1029.3L475.81 1029L478.31 1029.2L479.27 1028.8L479.65 1026.9L480.04 1019.8L482.15 954.5L482.54 945.8L482.73 944.9L483.12 951.6L485.23 1017.4L485.81 1027.9L486 1028.4L486.19 1027.4L486.58 1020.9L488.69 958.4L489.08 949.9L489.27 949L489.65 955.3L491.58 1012.3L492.15 1025.6L492.54 1028.1L493.69 1028.1L495.62 1029.2L496.77 1029.3L497.15 1029.2L497.54 1027.3L497.92 1019.8L500.04 948.1L500.42 938.4L500.62 937.4L501 944.6L502.92 1010.3L503.5 1025.6L503.69 1027.3L503.88 1026.9L504.27 1020.1L506.38 952.6L506.77 943.5L506.96 942.5L507.35 949.3L509.46 1017.1L509.85 1025.2L510.04 1025.8L510.23 1023.5L510.62 1012.3L512.73 932.5L512.92 928L513.12 926.8L513.5 934.8L515.81 1020.9L516.19 1027.8L516.38 1028.8L516.58 1029.2L520.81 1029.2L521.58 1029L523.31 1028.1L525.23 1029.1L526.77 1029.3L527.73 1029L529.46 1028L530.04 1028.1L531.38 1029.1L532.54 1029.3L535.23 1029.2L537.54 1028.5L539.46 1029.1L540.23 1029.1L541.96 1028.5L543.88 1029.2L545.42 1029.3L545.81 1029.2L546 1028.7L546.38 1024.5L546.58 1020.1L548.69 950.1L549.08 940.7L549.27 939.8L549.65 946.9L551.77 1016.9L552.15 1025.8L552.54 1028.9L552.73 1029.2L553.12 1029.2L555.04 1028.4L556.77 1029.1L557.73 1029.3L569.65 1029.3L571 1029.2L571.58 1028.8L571.96 1026.4L572.35 1017.9L574.46 940.6L574.85 930.5L575.04 929.5L575.42 937.5L577.54 1014.7L577.92 1024.7L578.31 1028.2L578.5 1028.6L579.27 1029L580.81 1029.3L581.96 1029.1L583.88 1028.2L585.62 1029L586.58 1029.3L588.69 1029.3L590.81 1028.8L593.31 1029.3L594.85 1029.2L596.77 1028.8L599.46 1029.3L600.42 1029.1L602.15 1028.1L602.73 1028.2L604.08 1029.1L605.23 1029.3L608.31 1028.9L611.19 1029.3L619.85 1029.3L622.54 1028.9L624.85 1029.3L627.15 1029.2L627.54 1028.6L627.73 1027.1L628.12 1019.3L630.23 945.2L630.62 935L630.81 933.8L631.19 941L633.5 1019.7L633.88 1025.9L634.08 1025.5L634.65 1011L636.77 928.4L636.96 923.7L637.15 922.4L637.54 930.6L639.85 1019L640.23 1026.6L640.42 1027.9L640.62 1028.4L641 1028.8L641.58 1029.1L642.54 1029.3L643.88 1029.2L644.65 1028.9L645.62 1028.2L646 1026.3L646.58 1014L648.69 948.7L648.88 945L649.08 944L649.46 950.7L651.77 1022.3L652.15 1028.1L652.35 1029L652.54 1029.2L655.04 1029.2L657.15 1028.6L659.27 1029.2L660.42 1029.2L661.19 1028.9L662.54 1027.6L662.92 1027.4L663.5 1027.6L664.46 1028.6L664.85 1028.6L665.23 1026.4L665.42 1023.9L667.54 984L667.92 978.5L668.12 977.9L668.31 979.1L668.69 985L670.62 1021.2L671.19 1028L671.58 1028.9L673.12 1029.3L674.46 1029.2L676.19 1028.7L678.5 1029.3L680.81 1029.3L682.54 1028.8L682.92 1028.2L683.31 1024.6L683.5 1020.7L685.62 959.9L686 951.6L686.19 950.7L686.58 956.8L688.88 1022.8L689.08 1026.2L689.46 1029L689.65 1029.2L690.04 1029.3L697.15 1029.3L698.12 1029.1L699.46 1028.5L700.04 1028.4L701.96 1029.2L703.31 1029.3L704.46 1029.1L706.19 1028L706.77 1028.1L707.73 1028.7L707.92 1028.5L708.31 1025.7L708.5 1022.6L710.62 973.1L711 966.3L711.19 965.6L711.58 970.5L713.69 1020.3L714.08 1026.2L714.27 1026.5L714.85 1015.2L716.96 949.4L717.15 945.7L717.35 944.7L717.73 951.3L719.85 1016.3L720.42 1027.2L720.81 1028.6L721.96 1029.2L722.73 1029.1L724.46 1028.7L726.19 1029.1L726.38 1029L726.58 1028.3L727.15 1020.3L729.27 970.7L729.65 965.7L729.85 966.4L730.04 969.2L732.15 1018.6L732.54 1025.4L732.73 1026.5L732.92 1025.2L733.31 1016.3L735.42 944.3L735.81 937L736 938L736.38 947.6L738.5 1018.9L738.88 1026.1L739.08 1026.3L739.65 1013.5L741.77 933.8L742.15 926.8L742.35 928.5L742.73 940L744.65 1013.6L745.04 1024.3L745.23 1026.3L745.42 1025.4L745.81 1016.1L747.92 935L748.31 925.9L748.5 926.3L748.69 930.2L750.81 1010.7L751.19 1022.2L751.38 1024.2L751.58 1022.8L751.96 1011.9L754.08 930.7L754.27 926.1L754.46 924.9L754.85 932.9L756.96 1014.2L757.35 1024.1L757.54 1025L757.92 1017.7L760.04 940.4L760.42 930.7L760.62 930.3L761 939.1L763.12 1016.5L763.5 1024.7L763.69 1024.5L764.08 1015.9L766.19 941.7L766.58 934.3L766.77 935.3L766.96 939.5L769.08 1013.5L769.65 1027.2L769.85 1028.6L770.04 1029.1L770.23 1029.2L771 1029L772.15 1028.3L772.73 1028.1L774.46 1029L774.65 1028.9L774.85 1028.1L775.04 1026.2L775.42 1017.5L777.54 944.4L777.92 936L778.12 936.2L778.31 939.7L780.42 1012.3L780.81 1021.4L781 1021.7L781.38 1013.5L783.5 941L783.69 936.9L783.88 935.9L784.08 938.2"/>
<path class="tr" stroke="#0000ff" d="M5.23 1029.3L7.35 1029.1L10.62 1029.3L13.12 1028.7L15.04 1029.2L16.58 1029.3L18.5 1029.2L20.42 1028.8L22.54 1029.2L25.04 1029L28.12 1029.3L31.77 1029L34.65 1029.3L41.58 1029.3L44.08 1029.1L46.58 1029.3L49.27 1028.9L51.19 1029.2L52.73 1029.3L53.88 1029.2L55.62 1028.6L58.5 1029.3L61.58 1028.9L63.69 1029.3L65.81 1029.3L67.54 1028.9L67.92 1028L68.31 1023.5L70.62 965.1L71 957.8L71.19 957L71.58 962.4L73.88 1021.1L74.08 1024.7L74.46 1028.2L74.85 1028.9L76.58 1029.3L79.08 1029.3L81.19 1028.8L83.5 1029.2L85.62 1028.7L88.31 1029.3L90.23 1029.3L91.19 1029L91.58 1027.9L91.96 1022.5L94.27 952.6L94.65 943.9L94.85 943L95.23 949.4L97.54 1020.1L97.92 1027.1L98.31 1028.9L99.85 1028.6L101.58 1029.2L103.12 1029.3L104.08 1029.2L106 1028.6L108.31 1029.2L110.62 1028.5L112.54 1029.2L113.69 1029.3L115.23 1029L115.81 1028.5L116.19 1025.8L116.58 1017.8L118.69 954L119.08 945.4L119.27 944.6L119.85 956.3L121.96 1020.4L122.35 1027.2L122.73 1029.1L123.12 1029.3L126.96 1029.3L129.65 1028.9L132.15 1029.3L138.5 1029.3L138.88 1029L139.08 1028.3L139.65 1019.4L141.96 956.4L142.15 953.2L142.35 952.3L142.73 958L144.65 1011.3L145.23 1022L145.42 1021.1L145.62 1017.8L147.73 954.7L148.12 946.3L148.31 945.4L148.69 951.7L151 1020.5L151.38 1027.3L151.77 1029.1L152.35 1029.3L157.73 1029.3L160.04 1029.1L162.73 1029.3L163.69 1029.2L165.42 1028.6L167.35 1029.2L168.69 1029.3L171.38 1028.6L173.31 1029.2L175.23 1029.3L176.38 1029.1L178.31 1028.4L180.04 1029.1L181 1029.3L182.92 1029.2L184.85 1028.8L187.35 1029.2L189.46 1028.7L191.58 1029.2L193.31 1029.2L193.5 1029L193.69 1028.1L194.08 1022.4L196.38 946.4L196.77 937L196.96 936L197.54 948.9L199.65 1019.4L200.04 1027L200.42 1029.1L200.81 1029.2L210.42 1029.3L213.31 1028.8L216 1029.3L219.27 1029L221.77 1029.3L228.88 1029.3L230.23 1029.2L232.15 1028.7L234.08 1029.2L236.19 1029.3L237.35 1029.2L239.27 1028.5L241.58 1029.2L243.69 1029.2L243.88 1028.9L244.08 1027.8L244.46 1020.9L246.77 928.7L247.15 917.2L247.35 916.1L247.73 924.5L249.85 1009.6L250.23 1020.9L250.42 1022.5L250.62 1020.7L251 1010.7L253.12 942.3L253.31 938.5L253.5 937.6L253.88 944.4L255.81 1007.4L256.19 1016.2L256.38 1016.9L256.96 1003.6L258.88 937.5L259.08 933.5L259.27 932.5L259.85 945.9L261.77 1013L262.15 1022.3L262.35 1023L262.92 1008.3L264.85 935.3L265.23 924.9L265.42 923.8L265.81 931.7L268.31 1022.8L268.5 1026.2L268.88 1028.6L269.27 1028.9L270.23 1029.2L272.92 1029.3L275.42 1028.9L277.92 1029.3L280.04 1029.3L282.15 1029L284.85 1029.3L285.62 1029.1L287.35 1028.3L289.27 1029.1L290.04 1029.3L291.77 1029.2L293.88 1028.8L296.19 1029.2L298.5 1028.4L300.42 1029.2L302.15 1029.3L303.31 1029.1L305.23 1028.2L307.15 1029.1L308.31 1029.3L320.42 1029.3L322.92 1028.7L325.62 1029.3L338.88 1029.3L340.23 1029.1L342.15 1028.1L342.73 1028.3L344.08 1029.1L345.04 1029.3L346.96 1029.2L348.5 1028.3L349.08 1028.2L350.81 1029.1L351.58 1029.3L352.73 1029.1L354.65 1028.2L357.15 1029.2L361.38 1029.2L361.77 1028.4L362.15 1024.3L364.46 969.8L364.85 962.9L365.04 962.1L365.23 963.7L365.62 971.3L367.73 1022.2L367.92 1025.5L368.31 1028.8L368.5 1029.2L368.88 1029.3L371.96 1028.8L374.85 1029.3L386.77 1029.2L386.96 1029L387.15 1028.1L387.54 1022.5L389.85 947.7L390.23 938.5L390.42 937.5L391 950.1L393.12 1019.6L393.5 1027.1L393.69 1028.6L393.88 1029.1L394.08 1029.2L396.38 1029L398.88 1029.3L405.42 1029.3L405.81 1029L406 1028.3L406.58 1019L408.88 953.7L409.08 950.4L409.27 949.6L409.85 960.6L411.96 1020.9L412.35 1027.4L412.73 1029.1L413.31 1029.2L415.42 1028.9L417.92 1029.2L420.42 1028.3L422.15 1029.1L423.31 1029.3L430.62 1029.3L433.12 1028.6L435.62 1029.3L437.92 1029.3L440.04 1029L442.92 1029.3L444.27 1029.1L446 1027.9L446.38 1028L447.15 1028.4L447.35 1028.3L447.73 1026L448.12 1018.2L450.23 954.4L450.62 945.8L450.81 944.8L451 946.7L451.38 956.2L453.5 1019.9L453.88 1026.6L454.08 1027.2L454.27 1025.9L454.65 1017.8L456.77 949.9L457.15 940.6L457.35 939.6L457.54 941.6L457.92 951.6L460.04 1019.8L460.42 1027.1L460.62 1028.5L461 1029.2L461.96 1029.1L463.69 1028.3L464.27 1028.4L465.62 1029.1L466.58 1029.3L467.73 1029.1L469.46 1028.5L471.38 1029.2L472.35 1029.3L479.08 1029.3L481.58 1028.9L484.27 1029.3L491.38 1029.3L492.54 1029.1L493.88 1028.1L494.46 1027.9L496.19 1029L497.15 1029.3L498.12 1029.2L500.04 1028.6L501.96 1029.2L502.92 1029.3L509.08 1029.3L511.77 1029.1L514.65 1029.3L517.35 1029L519.65 1029.3L522.35 1029.2L522.73 1028.3L523.12 1024L525.42 967.7L525.81 961L526 960.4L526.38 965.6L528.69 1022L529.08 1027.6L529.46 1029.1L534.46 1029.2L535.23 1029L536.38 1028L536.96 1027.8L537.54 1028.1L538.69 1029L539.85 1029.3L542.35 1029.1L544.65 1029.3L546.96 1029.3L547.73 1029.1L549.08 1028.2L549.65 1028L551.77 1029.1L553.88 1028.6L555.62 1029.2L556.77 1029.3L564.08 1029.3L564.85 1029.2L565.23 1029L565.62 1027.1L565.81 1024.9L568.12 979.2L568.5 973.6L568.69 973L569.08 977.2L571.38 1023.1L571.58 1025.9L571.96 1028.6L572.35 1029L573.31 1029.2L576.77 1029.3L577.73 1028.9L578.88 1027.9L579.46 1027.6L580.04 1027.9L581.19 1028.9L581.77 1029.2L582.73 1029.2L583.88 1028.9L584.27 1027.8L584.65 1022.5L586.96 953.3L587.35 944.7L587.54 943.8L587.92 950.1L590.23 1019.4L590.42 1023.6L590.81 1027.8L591 1028.4L591.38 1028.7L593.12 1029.3L595.23 1029.3L597.35 1028.9L599.65 1029.3L601.38 1029.3L602.35 1029L603.5 1028.2L604.08 1028L605.81 1029L606.96 1029L608.12 1028.7L608.31 1028.4L608.69 1025.9L608.88 1022.7L611.19 956.2L611.58 947.9L611.77 947.1L612.15 953.2L614.27 1015.2L614.65 1023L614.85 1023.5L615.42 1010.4L617.54 939.9L617.73 936L617.92 935L618.31 942L620.42 1012.5L620.81 1021.4L621 1022L621.58 1007.5L623.69 929.4L623.88 925.1L624.08 924L624.65 938.6L626.77 1018.2L627.15 1026.7L627.35 1028.4L627.54 1029L627.73 1029.1L631 1029.3L633.31 1028.8L636.19 1029.3L636.96 1029.1L638.69 1028.3L639.27 1028.4L640.62 1029.1L641.38 1029.3L644.65 1029.2L646.77 1028.4L649.27 1029.2L650.04 1029.1L651.77 1028.3L653.69 1029.1L655.04 1029.3L656 1029L657.35 1027.8L657.92 1027.6L658.31 1027.7L659.85 1029L661 1029.3L664.08 1029.1L667.15 1029.3L669.46 1029L671.58 1029.3L673.69 1029.3L674.65 1029L676 1028L676.58 1027.9L678.31 1029L679.27 1029.3L680.81 1029.2L682.73 1028.7L685.23 1029.3L691.58 1029.3L692.73 1029L694.08 1027.9L694.65 1027.7L696.38 1029L697.15 1029.2L698.31 1029.1L700.23 1027.7L700.81 1027.9L702.15 1029L702.92 1029.3L704.85 1029.2L706.96 1028.9L709.46 1029.2L711.58 1028.8L713.5 1029.2L715.04 1029.3L716.38 1029.1L718.31 1027.5L718.88 1027.7L720.23 1029L721.19 1029.2L723.69 1028.9L726.38 1029.3L735.23 1029.3L736.19 1029.1L737.92 1028.2L739.65 1029L740.62 1029.3L744.08 1029L746.38 1029.3L752.35 1029.3L753.31 1029.1L755.23 1028.2L756.96 1029.1L757.73 1029.3L763.5 1029.3L764.85 1028.9L766.19 1027.6L766.77 1027.3L767.15 1027.5L768.5 1028.9L769.46 1029.3L772.92 1029.1L776.58 1029.3L779.08 1028.9L781.19 1029.3L784.08 1029.3"/>
</g>
<text class="nm" transform="translate(80.8 61.9) scale(1.55 1)">10</text><text class="nm" transform="translate(172.2 61.9) scale(1.55 1)">20</text><text class="nm" transform="translate(261.2 61.9) scale(1.55 1)">30</text><text class="nm" transform="translate(347.8 61.9) scale(1.55 1)">40</text><text class="nm" transform="translate(430.2 61.9) scale(1.55 1)">50</text><text class="nm" transform="translate(511 61.9) scale(1.55 1)">60</text><text class="nm" transform="translate(590.8 61.9) scale(1.55 1)">70</text><text class="nm" transform="translate(671.5 61.9) scale(1.55 1)">80</text><text class="nm" transform="translate(748.5 61.9) scale(1.55 1)">90</text><text class="nm" transform="translate(826.2 61.9) scale(1.55 1)">100</text><text class="nm" transform="translate(909 61.9) scale(1.55 1)">110</text><text class="nm" transform="translate(987.8 61.9) scale(1.55 1)">120</text>
<text class="sq" transform="translate(0 68.8) scale(1.5 1)" x="6.1 12.5 16.3 22.6 29.5 33.8 38 45.7 49.5 53.7 60.8 64.9 71.7 77.9 81.7 90 98.7 105.3 110 114.7 121.3 128 131.3 138.7 145.3 152 155.5 162.5 169.2 174 180.7 186.7 190.3 195.3 199.7 207 213.8 218.7 225 231.7 237 241 245.8 250.5 256 263 269.7 275.3 280.7 286.7 292.5 297.8 304.7 309.3 315.3 320 325.3 330 335 340.5 347.2 352.8 357.5 362.5 368.3 373.8 378.7 383.7 389.2 393.7 399.2 403.3 408.7 415 419.7 425.5 429.7 435.8 441.3 447.5 453 458 463.3 468.3 472.4 477.3 482.7 488.1 493.7 498.8 504.7 509.9 514.9 520.5 525.7 531.1 536.1 541.5 545.7 550.7 556.5 562.3 568.7 574.5 579.3 584 588.8 594.2 600 605.8 611.2 616.2 621 625.5 630.7 636.3 642.3 647 652.5 658.3 664 669.5 674.8 679.2"><tspan class="a">A</tspan><tspan class="n">N</tspan><tspan class="a">A</tspan><tspan class="t">T</tspan><tspan class="n">N</tspan><tspan class="a">A</tspan><tspan class="n">N</tspan><tspan class="t">T</tspan><tspan class="a">A</tspan><tspan class="t">T</tspan><tspan class="a">AA</tspan><tspan class="c">CC</tspan><tspan class="n">N</tspan><tspan class="g">G</tspan><tspan class="t">TT</tspan><tspan class="a">A</tspan><tspan class="t">TT</tspan><tspan class="c">C</tspan><tspan class="a">A</tspan><tspan class="g">GG</tspan><tspan class="a">A</tspan><tspan class="t">T</tspan><tspan class="g">GG</tspan><tspan class="t">T</tspan><tspan class="g">G</tspan><tspan class="a">A</tspan><tspan class="t">T</tspan><tspan class="a">A</tspan><tspan class="t">T</tspan><tspan class="g">GG</tspan><tspan class="t">TT</tspan><tspan class="g">G</tspan><tspan class="a">A</tspan><tspan class="t">T</tspan><tspan class="a">A</tspan><tspan class="c">C</tspan><tspan class="t">T</tspan><tspan class="g">GG</tspan><tspan class="c">C</tspan><tspan class="t">TTT</tspan><tspan class="g">GG</tspan><tspan class="t">T</tspan><tspan class="g">G</tspan><tspan class="c">C</tspan><tspan class="t">T</tspan><tspan class="a">A</tspan><tspan class="t">T</tspan><tspan class="g">GG</tspan><tspan class="a">A</tspan><tspan class="c">C</tspan><tspan class="t">TTT</tspan><tspan class="a">A</tspan><tspan class="c">C</tspan><tspan class="t">T</tspan><tspan class="a">A</tspan><tspan class="c">C</tspan><tspan class="a">A</tspan><tspan class="t">TT</tspan><tspan class="a">A</tspan><tspan class="c">C</tspan><tspan class="a">A</tspan><tspan class="g">GG</tspan><tspan class="c">C</tspan><tspan class="t">T</tspan><tspan class="a">AA</tspan><tspan class="c">C</tspan><tspan class="a">AAAA</tspan><tspan class="g">G</tspan><tspan class="t">T</tspan><tspan class="g">G</tspan><tspan class="a">AA</tspan><tspan class="g">G</tspan><tspan class="t">TT</tspan><tspan class="c">CC</tspan><tspan class="a">A</tspan><tspan class="c">C</tspan><tspan class="t">T</tspan><tspan class="g">GG</tspan><tspan class="a">A</tspan><tspan class="t">T</tspan><tspan class="a">A</tspan><tspan class="t">TTT</tspan><tspan class="g">G</tspan><tspan class="t">T</tspan><tspan class="a">A</tspan><tspan class="c">C</tspan><tspan class="a">A</tspan><tspan class="t">T</tspan><tspan class="c">C</tspan><tspan class="t">T</tspan><tspan class="a">A</tspan><tspan class="t">TTT</tspan><tspan class="g">G</tspan><tspan class="c">C</tspan><tspan class="a">A</tspan></text>
<text class="nm" transform="translate(17.8 282.2) scale(1.55 1)">120</text><text class="nm" transform="translate(95.8 282.2) scale(1.55 1)">130</text><text class="nm" transform="translate(174.5 282.2) scale(1.55 1)">140</text><text class="nm" transform="translate(256.5 282.2) scale(1.55 1)">150</text><text class="nm" transform="translate(335.2 282.2) scale(1.55 1)">160</text><text class="nm" transform="translate(417 282.2) scale(1.55 1)">170</text><text class="nm" transform="translate(499.2 282.2) scale(1.55 1)">180</text><text class="nm" transform="translate(578 282.2) scale(1.55 1)">190</text><text class="nm" transform="translate(658 282.2) scale(1.55 1)">200</text><text class="nm" transform="translate(740.2 282.2) scale(1.55 1)">210</text><text class="nm" transform="translate(819.5 282.2) scale(1.55 1)">220</text><text class="nm" transform="translate(902 282.2) scale(1.55 1)">230</text><text class="nm" transform="translate(984 282.2) scale(1.55 1)">240</text>
<text class="sq" transform="translate(0 289.4) scale(1.5 1)" x="6.2 11.7 17.5 23.3 28.3 32.8 37.7 42.8 48 53 58 63.7 69 74 79.7 85.3 90.7 96 100.8 106 110.8 116.2 122 127 132.2 137.3 142.7 147.8 153.5 160 165 170.8 176.2 181.3 186.2 191.8 197.5 202.7 207.8 213 217.8 223.3 228.5 234 239.8 245.7 251.2 257 262.8 267.7 272.7 277.8 283.5 289.3 295 300 305 310.7 316.2 321.7 327.2 332.7 338 342.7 347.7 353.3 359 363.7 368.7 374.3 380 385.2 390.7 396.3 402 407.3 412.7 417.7 422.3 427.7 433 438.5 443.8 449.3 455 460.8 466.3 471.8 477.5 482.3 487.8 493.3 498.3 503 508.3 514 519.7 524.7 529.8 535.5 541.2 546.2 551.3 556.5 561.7 567.3 573.3 579.2 584.3 589.8 595.3 601.2 606.7 611.8 617.2 622.8 628.3 633.8 639.3 644.8 650.3 655.8 661.1 666.5 671.7 676.7"><tspan class="t">TTT</tspan><tspan class="g">G</tspan><tspan class="c">C</tspan><tspan class="a">AAA</tspan><tspan class="t">T</tspan><tspan class="a">A</tspan><tspan class="t">T</tspan><tspan class="c">CC</tspan><tspan class="a">A</tspan><tspan class="g">G</tspan><tspan class="a">A</tspan><tspan class="t">TT</tspan><tspan class="a">A</tspan><tspan class="t">T</tspan><tspan class="a">A</tspan><tspan class="t">TT</tspan><tspan class="a">AAAA</tspan><tspan class="t">T</tspan><tspan class="g">GG</tspan><tspan class="t">T</tspan><tspan class="g">G</tspan><tspan class="t">T</tspan><tspan class="c">C</tspan><tspan class="a">A</tspan><tspan class="g">G</tspan><tspan class="a">AA</tspan><tspan class="c">CC</tspan><tspan class="a">A</tspan><tspan class="t">T</tspan><tspan class="a">A</tspan><tspan class="t">T</tspan><tspan class="g">GG</tspan><tspan class="c">C</tspan><tspan class="g">G</tspan><tspan class="a">A</tspan><tspan class="c">C</tspan><tspan class="a">A</tspan><tspan class="g">G</tspan><tspan class="c">C</tspan><tspan class="t">TT</tspan><tspan class="a">A</tspan><tspan class="t">TTTTTTT</tspan><tspan class="a">A</tspan><tspan class="t">TTT</tspan><tspan class="a">A</tspan><tspan class="c">C</tspan><tspan class="g">G</tspan><tspan class="a">AA</tspan><tspan class="g">GGG</tspan><tspan class="a">AA</tspan><tspan class="c">C</tspan><tspan class="a">AAA</tspan><tspan class="t">T</tspan><tspan class="g">G</tspan><tspan class="t">TTT</tspan><tspan class="g">G</tspan><tspan class="t">TT</tspan><tspan class="a">A</tspan><tspan class="g">G</tspan><tspan class="a">A</tspan><tspan class="c">C</tspan><tspan class="a">A</tspan><tspan class="t">TTT</tspan><tspan class="a">A</tspan><tspan class="t">TTT</tspan><tspan class="a">AA</tspan><tspan class="t">T</tspan><tspan class="a">A</tspan><tspan class="g">GGG</tspan><tspan class="c">C</tspan><tspan class="t">T</tspan><tspan class="g">GG</tspan><tspan class="t">T</tspan><tspan class="g">G</tspan><tspan class="c">C</tspan><tspan class="t">T</tspan><tspan class="g">G</tspan><tspan class="t">TT</tspan><tspan class="g">GG</tspan><tspan class="t">T</tspan><tspan class="g">G</tspan><tspan class="a">AAA</tspan></text>
<text class="nm" transform="translate(24 501) scale(1.55 1)">240</text><text class="nm" transform="translate(100.8 501) scale(1.55 1)">250</text><text class="nm" transform="translate(181.8 501) scale(1.55 1)">260</text><text class="nm" transform="translate(258.6 501) scale(1.55 1)">270</text><text class="nm" transform="translate(342.9 501) scale(1.55 1)">280</text><text class="nm" transform="translate(422.2 501) scale(1.55 1)">290</text><text class="nm" transform="translate(502.8 501) scale(1.55 1)">300</text><text class="nm" transform="translate(580.9 501) scale(1.55 1)">310</text><text class="nm" transform="translate(661 501) scale(1.55 1)">320</text><text class="nm" transform="translate(741.9 501) scale(1.55 1)">330</text><text class="nm" transform="translate(820.8 501) scale(1.55 1)">340</text><text class="nm" transform="translate(902.2 501) scale(1.55 1)">350</text><text class="nm" transform="translate(980.5 501) scale(1.55 1)">360</text>
<text class="sq" transform="translate(0 508.6) scale(1.5 1)" x="5.3 10.4 15.8 20.8 26 31.3 36.3 41.3 46.7 51.8 57.3 62 67.1 72.1 77.1 83 89.3 94.3 99.5 105.3 110.7 115.8 121 125.8 131 136 141.2 146.1 151.6 156.8 161.7 167 172.2 178.3 183.5 189.1 194.3 200.2 205.7 211.5 216.9 222.8 228.4 233.6 238.8 244 249.2 254.7 260.1 265.7 270.9 276.2 281.3 286.6 291.8 297 302.2 307.8 313 318.2 323.5 329 335 339.8 345.3 350.7 355.8 361 366.2 371.3 376.7 381.9 387.1 392.3 398.1 403.3 407.3 414.8 419.6 424.8 430 435.3 440.5 446.1 450.9 456.7 462.1 467.6 473.2 478.4 483.6 488.8 494.4 499.3 504.5 510 515.5 521 525.9 531.1 536.3 541.5 547 552.4 558 563.5 569 574.3 579.9 585.5 590.7 596 601.3 606.7 611.8 617.1 622.3 627.2 633.3 638.1 643.1 648.3 653.5 658.5 663.7 668.9 674.3 678.3"><tspan class="g">GG</tspan><tspan class="t">T</tspan><tspan class="g">G</tspan><tspan class="a">AAAA</tspan><tspan class="t">T</tspan><tspan class="g">G</tspan><tspan class="t">T</tspan><tspan class="a">A</tspan><tspan class="c">CC</tspan><tspan class="a">A</tspan><tspan class="g">G</tspan><tspan class="a">A</tspan><tspan class="c">C</tspan><tspan class="g">G</tspan><tspan class="a">A</tspan><tspan class="t">TTT</tspan><tspan class="a">A</tspan><tspan class="t">T</tspan><tspan class="a">A</tspan><tspan class="c">C</tspan><tspan class="a">A</tspan><tspan class="t">TT</tspan><tspan class="a">AAA</tspan><tspan class="g">GG</tspan><tspan class="c">C</tspan><tspan class="t">T</tspan><tspan class="c">C</tspan><tspan class="t">T</tspan><tspan class="g">GGG</tspan><tspan class="t">T</tspan><tspan class="c">C</tspan><tspan class="t">T</tspan><tspan class="a">A</tspan><tspan class="c">C</tspan><tspan class="t">T</tspan><tspan class="g">G</tspan><tspan class="c">C</tspan><tspan class="a">AAA</tspan><tspan class="t">TTT</tspan><tspan class="a">A</tspan><tspan class="g">G</tspan><tspan class="c">CC</tspan><tspan class="a">A</tspan><tspan class="g">G</tspan><tspan class="t">TT</tspan><tspan class="c">C</tspan><tspan class="a">AAA</tspan><tspan class="t">TT</tspan><tspan class="a">A</tspan><tspan class="t">TTTT</tspan><tspan class="c">CC</tspan><tspan class="t">T</tspan><tspan class="a">A</tspan><tspan class="c">C</tspan><tspan class="a">A</tspan><tspan class="c">CC</tspan><tspan class="t">T</tspan><tspan class="a">A</tspan><tspan class="g">G</tspan><tspan class="t">T</tspan><tspan class="g">GG</tspan><tspan class="t">TT</tspan><tspan class="c">C</tspan><tspan class="t">T</tspan><tspan class="a">A</tspan><tspan class="t">T</tspan><tspan class="g">GG</tspan><tspan class="t">TT</tspan><tspan class="a">A</tspan><tspan class="c">CC</tspan><tspan class="t">T</tspan><tspan class="c">C</tspan><tspan class="t">T</tspan><tspan class="g">G</tspan><tspan class="a">A</tspan><tspan class="t">T</tspan><tspan class="g">G</tspan><tspan class="c">CCC</tspan><tspan class="a">AAA</tspan><tspan class="t">T</tspan><tspan class="a">A</tspan><tspan class="t">TT</tspan><tspan class="c">C</tspan><tspan class="a">AA</tspan><tspan class="t">T</tspan><tspan class="a">AAA</tspan><tspan class="c">CC</tspan></text>
<text class="nm n1" transform="translate(58.2 567.6) scale(1.3 1)">10</text><text class="nm n1" transform="translate(121.2 567.6) scale(1.3 1)">20</text><text class="nm n1" transform="translate(190.7 567.6) scale(1.3 1)">30</text><text class="nm n1" transform="translate(253.4 567.6) scale(1.3 1)">40</text><text class="nm n1" transform="translate(316.4 567.6) scale(1.3 1)">50</text><text class="nm n1" transform="translate(379.4 567.6) scale(1.3 1)">60</text><text class="nm n1" transform="translate(440.2 567.6) scale(1.3 1)">70</text><text class="nm n1" transform="translate(500.7 567.6) scale(1.3 1)">80</text><text class="nm n1" transform="translate(564.7 567.6) scale(1.3 1)">90</text><text class="nm n1" transform="translate(628.7 567.6) scale(1.3 1)">100</text><text class="nm n1" transform="translate(691.7 567.6) scale(1.3 1)">110</text><text class="nm n1" transform="translate(754.5 567.6) scale(1.3 1)">120</text><text class="nm n1" transform="translate(817.5 567.6) scale(1.3 1)">130</text><text class="nm n1" transform="translate(879.5 567.6) scale(1.3 1)">140</text><text class="nm n1" transform="translate(941 567.6) scale(1.3 1)">150</text><text class="nm n1" transform="translate(1004.2 567.6) scale(1.3 1)">160</text>
<text class="sq s1" transform="translate(0 575.5) scale(1.27 1)" x="6.9 9.8 12.6 17.7 22.8 26 30.7 35.4 40.2 45.7 49.6 53.5 57.5 63.5 68.9 74.4 79.5 84.8 89.5 95.3 101.6 107.1 112.2 118.1 124.4 129.5 133.5 138.4 144.1 150 154.3 160.4 165.4 170.9 175.2 179.5 185 190.8 195.3 199.4 204.3 208.1 212.2 215.6 221.5 228 232.7 239.2 244.5 249 253.5 258.9 264.6 269.3 274.2 278.9 283.5 288.4 292.9 298.6 304.1 309.4 314 318.9 323.8 328.3 332.7 337 342.1 346.5 351.4 355.9 360.6 365.2 369.7 374 378.3 382.9 388.4 394.1 399.2 404.5 409.8 415.4 421.3 425.8 430.1 435.4 440.4 444.5 449.4 455.1 459.6 464.8 469.7 474.4 478.9 483.7 489 494.9 499.4 504.1 509.4 514.4 518.9 523.6 528 533.1 538.6 544.5 550 554.5 558.7 563.4 568.7 574.2 579 584.3 589 593.9 598 603 608.1 613.4 619.3 624 628.9 633.9 638.8 643.5 648.6 653.7 658.5 663 667.3 672.2 677.4 682.5 687.8 692.3 696.9 702.2 707.3 712.2 716.5 721.1 726 730.9 735.8 740.7 745.7 750.9 755.8 761.1 766.1 771.3 776.7 781.7 786.1 790.6 795.3 799.8"><tspan class="c">C</tspan><tspan class="n">NN</tspan><tspan class="c">C</tspan><tspan class="n">NN</tspan><tspan class="t">T</tspan><tspan class="g">G</tspan><tspan class="t">T</tspan><tspan class="g">GG</tspan><tspan class="t">T</tspan><tspan class="c">C</tspan><tspan class="t">T</tspan><tspan class="c">C</tspan><tspan class="g">G</tspan><tspan class="c">CC</tspan><tspan class="t">T</tspan><tspan class="g">G</tspan><tspan class="c">C</tspan><tspan class="t">TT</tspan><tspan class="g">G</tspan><tspan class="t">T</tspan><tspan class="a">AA</tspan><tspan class="t">T</tspan><tspan class="c">C</tspan><tspan class="g">G</tspan><tspan class="c">C</tspan><tspan class="g">G</tspan><tspan class="t">T</tspan><tspan class="c">CC</tspan><tspan class="t">TTT</tspan><tspan class="a">A</tspan><tspan class="t">T</tspan><tspan class="c">C</tspan><tspan class="a">A</tspan><tspan class="c">C</tspan><tspan class="a">A</tspan><tspan class="g">GGG</tspan><tspan class="c">C</tspan><tspan class="g">G</tspan><tspan class="a">A</tspan><tspan class="t">TT</tspan><tspan class="g">G</tspan><tspan class="c">CCCCCC</tspan><tspan class="t">TTT</tspan><tspan class="a">A</tspan><tspan class="g">G</tspan><tspan class="a">AA</tspan><tspan class="c">C</tspan><tspan class="t">TT</tspan><tspan class="a">AAAAA</tspan><tspan class="c">C</tspan><tspan class="a">A</tspan><tspan class="c">C</tspan><tspan class="a">A</tspan><tspan class="g">G</tspan><tspan class="t">TTTT</tspan><tspan class="g">GG</tspan><tspan class="a">AA</tspan><tspan class="g">G</tspan><tspan class="a">A</tspan><tspan class="t">T</tspan><tspan class="g">GG</tspan><tspan class="t">T</tspan><tspan class="g">G</tspan><tspan class="a">A</tspan><tspan class="t">T</tspan><tspan class="a">A</tspan><tspan class="t">T</tspan><tspan class="g">GG</tspan><tspan class="t">T</tspan><tspan class="a">A</tspan><tspan class="g">G</tspan><tspan class="a">A</tspan><tspan class="t">T</tspan><tspan class="a">A</tspan><tspan class="c">C</tspan><tspan class="t">T</tspan><tspan class="g">GG</tspan><tspan class="a">A</tspan><tspan class="t">T</tspan><tspan class="a">A</tspan><tspan class="t">T</tspan><tspan class="g">GG</tspan><tspan class="t">T</tspan><tspan class="g">G</tspan><tspan class="c">CC</tspan><tspan class="a">A</tspan><tspan class="t">T</tspan><tspan class="g">GG</tspan><tspan class="a">A</tspan><tspan class="c">C</tspan><tspan class="t">TTT</tspan><tspan class="a">A</tspan><tspan class="g">G</tspan><tspan class="t">T</tspan><tspan class="a">A</tspan><tspan class="c">C</tspan><tspan class="a">A</tspan><tspan class="t">TT</tspan><tspan class="g">G</tspan><tspan class="c">C</tspan><tspan class="a">AA</tspan><tspan class="g">G</tspan><tspan class="a">A</tspan><tspan class="t">T</tspan><tspan class="a">A</tspan><tspan class="c">C</tspan><tspan class="t">T</tspan><tspan class="a">AAA</tspan><tspan class="t">T</tspan><tspan class="g">G</tspan><tspan class="t">T</tspan><tspan class="g">G</tspan><tspan class="a">A</tspan><tspan class="g">GG</tspan><tspan class="t">T</tspan><tspan class="a">A</tspan><tspan class="c">CC</tspan><tspan class="a">A</tspan></text>
<text class="nm nb" transform="translate(20.9 802.8) scale(1.55 1)">120</text><text class="nm nb" transform="translate(100.4 802.8) scale(1.55 1)">130</text><text class="nm nb" transform="translate(177.4 802.8) scale(1.55 1)">140</text><text class="nm nb" transform="translate(256.4 802.8) scale(1.55 1)">150</text><text class="nm nb" transform="translate(337.4 802.8) scale(1.55 1)">160</text><text class="nm nb" transform="translate(418.6 802.8) scale(1.55 1)">170</text><text class="nm nb" transform="translate(499.9 802.8) scale(1.55 1)">180</text><text class="nm nb" transform="translate(577.9 802.8) scale(1.55 1)">190</text><text class="nm nb" transform="translate(659.4 802.8) scale(1.55 1)">200</text><text class="nm nb" transform="translate(739.6 802.8) scale(1.55 1)">210</text><text class="nm nb" transform="translate(820.4 802.8) scale(1.55 1)">220</text><text class="nm nb" transform="translate(899.8 802.8) scale(1.55 1)">230</text><text class="nm nb" transform="translate(981.1 802.8) scale(1.55 1)">240</text>
<text class="sq sb" transform="translate(0 811.4) scale(1.3 1)" x="5.4 10 15.8 22.1 28.7 34.6 40.4 46.3 52.5 58.8 65.6 71.2 76.9 83.1 89.4 94.8 101.2 107.9 113.5 119.2 124.6 130.4 136.2 142.3 148.3 153.8 160 166.7 172.3 178.8 184.8 190.8 196.9 203.8 210.6 217.3 222.7 229.2 235.2 241.5 247.3 253.5 259.2 265.4 272.3 278.8 284.6 291.5 298.1 303.7 309.2 315.6 321.7 328.1 334.4 340.8 347.7 353.8 359.6 365 371.3 377.5 384.2 390.4 397.1 403.3 409.2 414.8 420.6 426.5 432.5 438.3 444.2 450.8 457.3 463.7 470 477.1 482.7 489.2 494.8 500.6 506.9 513.1 519.8 526 531.3 537.3 543.1 549.2 555.7 562.1 568.7 575 581.3 587.5 593.5 599.6 606 611.7 617.9 624 630.8 637.1 643.1 649 655.4 662.1 668.1 674.2 680.6 686.2 691.8 698.3 704.9 711.2 717.3 723.6 729.7 735.8 742.2 748.4 754.4 760.5 766.6 772.3 778 783.8"><tspan class="t">T</tspan><tspan class="a">A</tspan><tspan class="t">T</tspan><tspan class="g">G</tspan><tspan class="a">AA</tspan><tspan class="t">TTTT</tspan><tspan class="g">G</tspan><tspan class="c">C</tspan><tspan class="a">A</tspan><tspan class="g">G</tspan><tspan class="a">A</tspan><tspan class="c">C</tspan><tspan class="t">TT</tspan><tspan class="a">A</tspan><tspan class="c">C</tspan><tspan class="a">AAA</tspan><tspan class="c">CC</tspan><tspan class="a">AA</tspan><tspan class="t">T</tspan><tspan class="a">AAA</tspan><tspan class="t">T</tspan><tspan class="c">C</tspan><tspan class="g">GG</tspan><tspan class="a">A</tspan><tspan class="t">T</tspan><tspan class="g">G</tspan><tspan class="t">TT</tspan><tspan class="c">CCCC</tspan><tspan class="t">TT</tspan><tspan class="g">GG</tspan><tspan class="t">T</tspan><tspan class="a">A</tspan><tspan class="t">TTT</tspan><tspan class="g">G</tspan><tspan class="t">T</tspan><tspan class="g">GG</tspan><tspan class="a">AA</tspan><tspan class="c">C</tspan><tspan class="t">T</tspan><tspan class="g">G</tspan><tspan class="t">T</tspan><tspan class="c">C</tspan><tspan class="t">T</tspan><tspan class="g">G</tspan><tspan class="c">C</tspan><tspan class="a">AAA</tspan><tspan class="t">T</tspan><tspan class="a">A</tspan><tspan class="t">T</tspan><tspan class="c">CC</tspan><tspan class="t">T</tspan><tspan class="g">G</tspan><tspan class="a">A</tspan><tspan class="t">TT</tspan><tspan class="a">A</tspan><tspan class="t">TTT</tspan><tspan class="g">G</tspan><tspan class="c">C</tspan><tspan class="a">AAA</tspan><tspan class="t">T</tspan><tspan class="g">GG</tspan><tspan class="c">C</tspan><tspan class="t">T</tspan><tspan class="g">G</tspan><tspan class="c">C</tspan><tspan class="a">A</tspan><tspan class="g">G</tspan><tspan class="a">A</tspan><tspan class="c">CCC</tspan><tspan class="t">TT</tspan><tspan class="a">A</tspan><tspan class="t">T</tspan><tspan class="g">GG</tspan><tspan class="t">T</tspan><tspan class="g">G</tspan><tspan class="a">A</tspan><tspan class="t">T</tspan><tspan class="a">A</tspan><tspan class="g">GG</tspan><tspan class="t">TT</tspan><tspan class="g">G</tspan><tspan class="t">TTTTTTT</tspan><tspan class="a">A</tspan><tspan class="t">TT</tspan></text>
<text class="nm nb" transform="translate(18.9 1038.4) scale(1.55 1)">240</text><text class="nm nb" transform="translate(100 1038.4) scale(1.55 1)">250</text><text class="nm nb" transform="translate(179.1 1038.4) scale(1.55 1)">260</text><text class="nm nb" transform="translate(258.1 1038.4) scale(1.55 1)">270</text><text class="nm nb" transform="translate(336.6 1038.4) scale(1.55 1)">280</text><text class="nm nb" transform="translate(417.4 1038.4) scale(1.55 1)">290</text><text class="nm nb" transform="translate(498.1 1038.4) scale(1.55 1)">300</text><text class="nm nb" transform="translate(579.4 1038.4) scale(1.55 1)">310</text><text class="nm nb" transform="translate(659.1 1038.4) scale(1.55 1)">320</text><text class="nm nb" transform="translate(738.4 1038.4) scale(1.55 1)">330</text><text class="nm nb" transform="translate(817.7 1038.4) scale(1.55 1)">340</text><text class="nm nb" transform="translate(896.4 1038.4) scale(1.55 1)">350</text><text class="nm nb" transform="translate(977.2 1038.4) scale(1.55 1)">360</text>
<text class="sq sb" transform="translate(0 1046.2) scale(1.3 1)" x="8.2 14.2 20.3 26.3 32.3 38.3 44.3 51.1 57.8 63.8 69.8 76.6 82.6 88.6 94.9 101.4 107.4 113.5 119.5 125.4 131.5 137.5 143.3 149.4 155.3 161.3 167.7 174.5 180.2 186.2 191.8 198.2 204.2 210.3 215.8 221.8 228.6 234.3 241.4 246.9 252.9 258.7 264.4 270.4 276.4 282.2 288.7 295.2 301.7 308.2 314.5 320.8 327.2 333.7 339.2 345.3 351.3 357.7 363.8 370 376.4 382.8 389.2 395.6 402.3 408.5 414.4 420.5 426.5 433.1 439.4 445.4 451.5 457.5 463.8 470.2 476.7 482.2 488.7 495 500.8 506.7 512.7 519.1 525.1 531.1 537.4 543.8 550.2 555.9 561.5 567.7 573.4 580.8 586.6 592.6 598.6 604.6 610.9 616.9 622.9 628.7 634.6 640.7 646.9 652.7 659 665.4 671 677.5 683.5 689.2 695.4 702.1 708.5 714.6 720.8 727.2 733.1 739.5 745.1 751.4 758.1 763.8 770 776.5 782.3"><tspan class="t">TTTT</tspan><tspan class="a">A</tspan><tspan class="t">TTT</tspan><tspan class="g">G</tspan><tspan class="c">C</tspan><tspan class="g">G</tspan><tspan class="a">AAA</tspan><tspan class="g">GG</tspan><tspan class="a">AA</tspan><tspan class="c">C</tspan><tspan class="a">AAA</tspan><tspan class="t">T</tspan><tspan class="g">G</tspan><tspan class="t">TTT</tspan><tspan class="g">G</tspan><tspan class="c">C</tspan><tspan class="t">T</tspan><tspan class="a">A</tspan><tspan class="g">G</tspan><tspan class="a">A</tspan><tspan class="c">C</tspan><tspan class="a">A</tspan><tspan class="c">C</tspan><tspan class="t">TTTTTT</tspan><tspan class="a">AA</tspan><tspan class="t">T</tspan><tspan class="a">A</tspan><tspan class="g">GGG</tspan><tspan class="c">CC</tspan><tspan class="g">GG</tspan><tspan class="t">T</tspan><tspan class="a">A</tspan><tspan class="c">C</tspan><tspan class="t">T</tspan><tspan class="g">G</tspan><tspan class="t">T</tspan><tspan class="g">GGGGG</tspan><tspan class="a">AA</tspan><tspan class="c">CC</tspan><tspan class="t">T</tspan><tspan class="g">G</tspan><tspan class="t">T</tspan><tspan class="g">G</tspan><tspan class="c">CC</tspan><tspan class="t">T</tspan><tspan class="g">G</tspan><tspan class="a">A</tspan><tspan class="t">T</tspan><tspan class="g">G</tspan><tspan class="a">A</tspan><tspan class="c">CC</tspan><tspan class="t">T</tspan><tspan class="g">G</tspan><tspan class="t">TT</tspan><tspan class="g">GG</tspan><tspan class="t">T</tspan><tspan class="a">AAAA</tspan><tspan class="g">GGGGG</tspan><tspan class="t">T</tspan><tspan class="a">AA</tspan><tspan class="t">T</tspan><tspan class="a">AA</tspan><tspan class="c">C</tspan><tspan class="a">A</tspan><tspan class="g">G</tspan><tspan class="a">A</tspan><tspan class="t">T</tspan><tspan class="c">C</tspan><tspan class="a">A</tspan><tspan class="t">T</tspan><tspan class="c">C</tspan><tspan class="t">T</tspan><tspan class="g">G</tspan><tspan class="t">T</tspan><tspan class="a">A</tspan><tspan class="g">G</tspan><tspan class="c">C</tspan><tspan class="t">T</tspan><tspan class="a">A</tspan><tspan class="g">G</tspan><tspan class="t">T</tspan><tspan class="a">A</tspan><tspan class="g">G</tspan><tspan class="t">T</tspan><tspan class="a">A</tspan></text>
</g></svg></body></html>
